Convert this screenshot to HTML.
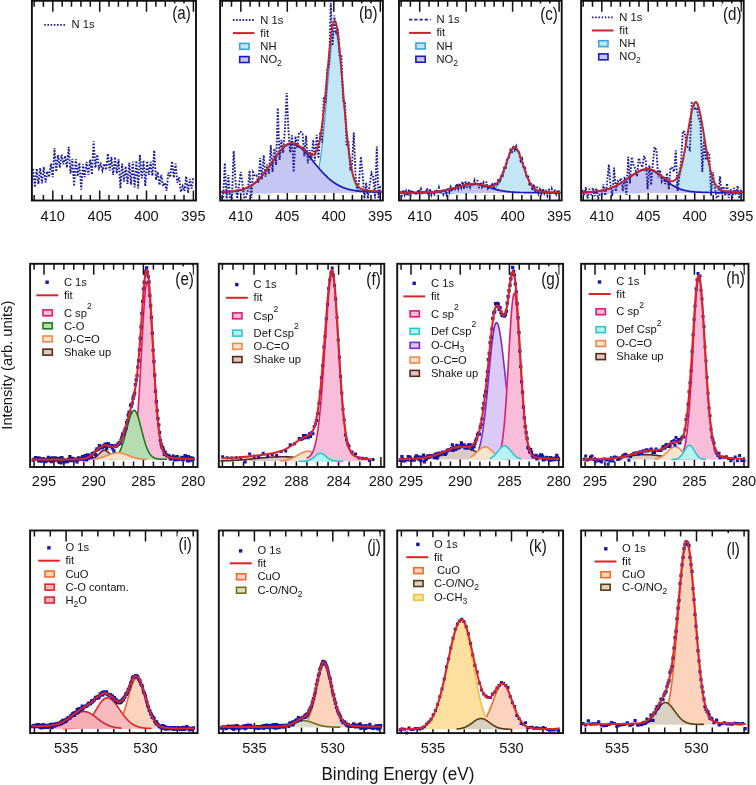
<!DOCTYPE html>
<html><head><meta charset="utf-8"><title>XPS spectra</title>
<style>html,body{margin:0;padding:0;background:#fff;}body{width:756px;height:785px;overflow:hidden;}svg{display:block;will-change:transform;}</style>
</head><body>
<svg width="756" height="785" viewBox="0 0 756 785">
<path d="M193.4,0.8v11.0M193.4,200.5v-10.0M184.0,0.8v5.9M184.0,200.5v-5.5M174.6,0.8v5.9M174.6,200.5v-5.5M165.3,0.8v5.9M165.3,200.5v-5.5M155.9,0.8v5.9M155.9,200.5v-5.5M146.5,0.8v11.0M146.5,200.5v-10.0M137.1,0.8v5.9M137.1,200.5v-5.5M127.8,0.8v5.9M127.8,200.5v-5.5M118.4,0.8v5.9M118.4,200.5v-5.5M109.0,0.8v5.9M109.0,200.5v-5.5M99.7,0.8v11.0M99.7,200.5v-10.0M90.3,0.8v5.9M90.3,200.5v-5.5M80.9,0.8v5.9M80.9,200.5v-5.5M71.5,0.8v5.9M71.5,200.5v-5.5M62.2,0.8v5.9M62.2,200.5v-5.5M52.8,0.8v11.0M52.8,200.5v-10.0M43.4,0.8v5.9M43.4,200.5v-5.5M34.1,0.8v5.9M34.1,200.5v-5.5" stroke="#111" stroke-width="1.5" fill="none"/>
<path d="M33.1,168.9 34.9,187.3 36.7,168.6 38.4,184.1 40.2,168.1 42.0,183.5 43.8,167.1 45.6,182.4 47.3,171.2 49.1,177.0 50.9,163.7 52.7,177.2 54.5,148 56.2,171.7 58.0,155.1 59.8,167.6 61.6,154.7 63.4,164.4 65.2,155.8 66.9,167.6 68.7,146.9 70.5,173.7 72.3,158.8 74.1,186.2 75.8,159.2 77.6,176.4 79.4,162.8 81.2,189.6 83.0,164.3 84.7,177.2 86.5,161.9 88.3,174.9 90.1,159.6 91.9,174.7 93.6,141.2 95.4,167.8 97.2,154.6 99.0,168.3 100.8,164.2 102.5,170.5 104.3,163.7 106.1,169.9 107.9,153.6 109.7,170.6 111.4,157.0 113.2,174.9 115.0,157 116.8,173.6 118.6,159.3 120.4,188.5 122.1,163.5 123.9,181.6 125.7,166.4 127.5,184 129.3,162.7 131.0,184.7 132.8,161.5 134.6,187.4 136.4,160.8 138.2,188.5 139.9,154.7 141.7,178.3 143.5,160.6 145.3,186.2 147.1,161.1 148.8,174.8 150.6,161.9 152.4,175.9 154.2,150.2 156.0,180.0 157.7,171.7 159.5,185.1 161.3,175 163.1,186.2 164.9,182.7 166.6,190.7 168.4,172.4 170.2,177.2 172.0,161.3 173.8,177.7 175.6,163.7 177.3,182.7 179.1,177.3 180.9,191.8 182.7,186.2 184.5,190.9 186.2,176.2 188.0,193 189.8,179.0 191.6,188.5 193.4,177.4" fill="none" stroke="#1c1c98" stroke-width="1.9" stroke-dasharray="1.7 1.5"/>
<rect x="31.9" y="0.8" width="164.1" height="199.7" fill="none" stroke="#111" stroke-width="1.9"/>
<text x="52.8" y="220.6" font-family="Liberation Sans, sans-serif" font-size="14.6" text-anchor="middle" fill="#141414">410</text>
<text x="99.7" y="220.6" font-family="Liberation Sans, sans-serif" font-size="14.6" text-anchor="middle" fill="#141414">405</text>
<text x="146.5" y="220.6" font-family="Liberation Sans, sans-serif" font-size="14.6" text-anchor="middle" fill="#141414">400</text>
<text x="193.4" y="220.6" font-family="Liberation Sans, sans-serif" font-size="14.6" text-anchor="middle" fill="#141414">395</text>
<path d="M44.2,24.9H65.8" stroke="#1e1e9c" stroke-width="1.8" stroke-dasharray="1.6 1.6"/>
<text x="71.6" y="28.4" font-family="Liberation Sans, sans-serif" font-size="11.2" text-anchor="start" fill="#141414">N 1s</text>
<rect x="171.3" y="3.4" width="18.3" height="20" fill="#fff"/>
<text transform="translate(190.8,18.8) scale(0.8,1)" font-family="Liberation Sans, sans-serif" font-size="19.0" text-anchor="end" fill="#141414">(a)</text>
<path d="M380.3,0.8v11.0M380.3,200.5v-10.0M371.0,0.8v5.9M371.0,200.5v-5.5M361.7,0.8v5.9M361.7,200.5v-5.5M352.4,0.8v5.9M352.4,200.5v-5.5M343.1,0.8v5.9M343.1,200.5v-5.5M333.8,0.8v11.0M333.8,200.5v-10.0M324.5,0.8v5.9M324.5,200.5v-5.5M315.2,0.8v5.9M315.2,200.5v-5.5M305.9,0.8v5.9M305.9,200.5v-5.5M296.6,0.8v5.9M296.6,200.5v-5.5M287.3,0.8v11.0M287.3,200.5v-10.0M278.0,0.8v5.9M278.0,200.5v-5.5M268.7,0.8v5.9M268.7,200.5v-5.5M259.4,0.8v5.9M259.4,200.5v-5.5M250.1,0.8v5.9M250.1,200.5v-5.5M240.8,0.8v11.0M240.8,200.5v-10.0M231.5,0.8v5.9M231.5,200.5v-5.5M222.2,0.8v5.9M222.2,200.5v-5.5" stroke="#111" stroke-width="1.5" fill="none"/>
<path d="M221,192.8 221.5,192.8 222,192.8 222.5,192.8 223,192.8 223.5,192.8 224,192.8 224.5,192.8 225,192.8 225.5,192.8 226,192.8 226.5,192.8 227,192.8 227.5,192.8 228,192.8 228.5,192.8 229,192.8 229.5,192.8 230,192.8 230.5,192.8 231,192.8 231.5,192.8 232,192.8 232.5,192.8 233,192.8 233.5,192.8 234,192.8 234.5,192.8 235,192.8 235.5,192.8 236,192.8 236.5,192.7 237,192.7 237.5,192.7 238,192.7 238.5,192.7 239,192.7 239.5,192.7 240,192.7 240.5,192.7 241,192.7 241.5,192.7 242,192.7 242.5,192.7 243,192.7 243.5,192.7 244,192.7 244.5,192.7 245,192.7 245.5,192.7 246,192.7 246.5,192.7 247,192.7 247.5,192.7 248,192.7 248.5,192.7 249,192.7 249.5,192.7 250,192.7 250.5,192.7 251,192.7 251.5,192.7 252,192.7 252.5,192.7 253,192.7 253.5,192.7 254,192.7 254.5,192.7 255,192.7 255.5,192.7 256,192.7 256.5,192.7 257,192.7 257.5,192.7 258,192.7 258.5,192.7 259,192.6 259.5,192.6 260,192.6 260.5,192.6 261,192.6 261.5,192.6 262,192.6 262.5,192.6 263,192.6 263.5,192.6 264,192.6 264.5,192.6 265,192.6 265.5,192.6 266,192.6 266.5,192.6 267,192.6 267.5,192.6 268,192.6 268.5,192.6 269,192.6 269.5,192.6 270,192.6 270.5,192.6 271,192.5 271.5,192.5 272,192.5 272.5,192.5 273,192.5 273.5,192.5 274,192.5 274.5,192.5 275,192.5 275.5,192.5 276,192.5 276.5,192.5 277,192.5 277.5,192.5 278,192.5 278.5,192.4 279,192.4 279.5,192.4 280,192.4 280.5,192.4 281,192.4 281.5,192.4 282,192.4 282.5,192.4 283,192.4 283.5,192.4 284,192.4 284.5,192.3 285,192.3 285.5,192.3 286,192.3 286.5,192.3 287,192.3 287.5,192.3 288,192.3 288.5,192.2 289,192.2 289.5,192.2 290,192.2 290.5,192.2 291,192.2 291.5,192.2 292,192.1 292.5,192.1 293,192.1 293.5,192.1 294,192.1 294.5,192.0 295,192.0 295.5,192.0 296,192.0 296.5,192.0 297,191.9 297.5,191.9 298,191.9 298.5,191.9 299,191.8 299.5,191.8 300,191.8 300.5,191.7 301,191.7 301.5,191.7 302,191.6 302.5,191.6 303,191.5 303.5,191.5 304,191.4 304.5,191.3 305,191.2 305.5,191.2 306,191.1 306.5,191.0 307,190.8 307.5,190.7 308,190.5 308.5,190.3 309,190.1 309.5,189.8 310,189.6 310.5,189.2 311,188.8 311.5,188.4 312,187.9 312.5,187.3 313,186.6 313.5,185.8 314,184.9 314.5,183.9 315,182.8 315.5,181.5 316,180.1 316.5,178.5 317,176.7 317.5,174.8 318,172.6 318.5,170.2 319,167.5 319.5,164.6 320,161.5 320.5,158.1 321,154.4 321.5,150.5 322,146.3 322.5,141.9 323,137.2 323.5,132.3 324,127.1 324.5,121.7 325,116.2 325.5,110.5 326,104.7 326.5,98.8 327,92.8 327.5,86.8 328,80.9 328.5,75.1 329,69.4 329.5,63.9 330,58.6 330.5,53.7 331,49.1 331.5,44.9 332,41.1 332.5,37.9 333,35.2 333.5,33.1 334,31.6 334.5,30.7 335,30.5 335.5,30.9 336,32.0 336.5,33.7 337,36.0 337.5,38.8 338,42.2 338.5,46.1 339,50.4 339.5,55.1 340,60.2 340.5,65.5 341,71.1 341.5,76.8 342,82.7 342.5,88.6 343,94.6 343.5,100.5 344,106.4 344.5,112.2 345,117.9 345.5,123.4 346,128.7 346.5,133.8 347,138.6 347.5,143.3 348,147.6 348.5,151.7 349,155.6 349.5,159.2 350,162.5 350.5,165.5 351,168.3 351.5,170.9 352,173.3 352.5,175.4 353,177.3 353.5,179.0 354,180.6 354.5,181.9 355,183.2 355.5,184.3 356,185.2 356.5,186.1 357,186.8 357.5,187.5 358,188.0 358.5,188.5 359,188.9 359.5,189.3 360,189.6 360.5,189.9 361,190.2 361.5,190.4 362,190.6 362.5,190.7 363,190.9 363.5,191.0 364,191.1 364.5,191.2 365,191.3 365.5,191.3 366,191.4 366.5,191.5 367,191.5 367.5,191.6 368,191.6 368.5,191.7 369,191.7 369.5,191.7 370,191.8 370.5,191.8 371,191.8 371.5,191.9 372,191.9 372.5,191.9 373,191.9 373.5,192.0 374,192.0 374.5,192.0 375,192.0 375.5,192.1 376,192.1 376.5,192.1 377,192.1 377.5,192.1 378,192.1 378.5,192.2 379,192.2 379.5,192.2 380,192.2 380.5,192.2 381,192.2 381.5,192.2 382,192.3 382,192.9 221,192.9Z" fill="#c2e6f6"/>
<path d="M221,192.8 221.5,192.8 222,192.8 222.5,192.8 223,192.8 223.5,192.8 224,192.8 224.5,192.8 225,192.8 225.5,192.8 226,192.8 226.5,192.8 227,192.8 227.5,192.8 228,192.8 228.5,192.8 229,192.8 229.5,192.8 230,192.8 230.5,192.8 231,192.8 231.5,192.8 232,192.8 232.5,192.8 233,192.8 233.5,192.8 234,192.8 234.5,192.8 235,192.8 235.5,192.8 236,192.8 236.5,192.7 237,192.7 237.5,192.7 238,192.7 238.5,192.7 239,192.7 239.5,192.7 240,192.7 240.5,192.7 241,192.7 241.5,192.7 242,192.7 242.5,192.7 243,192.7 243.5,192.7 244,192.7 244.5,192.7 245,192.7 245.5,192.7 246,192.7 246.5,192.7 247,192.7 247.5,192.7 248,192.7 248.5,192.7 249,192.7 249.5,192.7 250,192.7 250.5,192.7 251,192.7 251.5,192.7 252,192.7 252.5,192.7 253,192.7 253.5,192.7 254,192.7 254.5,192.7 255,192.7 255.5,192.7 256,192.7 256.5,192.7 257,192.7 257.5,192.7 258,192.7 258.5,192.7 259,192.6 259.5,192.6 260,192.6 260.5,192.6 261,192.6 261.5,192.6 262,192.6 262.5,192.6 263,192.6 263.5,192.6 264,192.6 264.5,192.6 265,192.6 265.5,192.6 266,192.6 266.5,192.6 267,192.6 267.5,192.6 268,192.6 268.5,192.6 269,192.6 269.5,192.6 270,192.6 270.5,192.6 271,192.5 271.5,192.5 272,192.5 272.5,192.5 273,192.5 273.5,192.5 274,192.5 274.5,192.5 275,192.5 275.5,192.5 276,192.5 276.5,192.5 277,192.5 277.5,192.5 278,192.5 278.5,192.4 279,192.4 279.5,192.4 280,192.4 280.5,192.4 281,192.4 281.5,192.4 282,192.4 282.5,192.4 283,192.4 283.5,192.4 284,192.4 284.5,192.3 285,192.3 285.5,192.3 286,192.3 286.5,192.3 287,192.3 287.5,192.3 288,192.3 288.5,192.2 289,192.2 289.5,192.2 290,192.2 290.5,192.2 291,192.2 291.5,192.2 292,192.1 292.5,192.1 293,192.1 293.5,192.1 294,192.1 294.5,192.0 295,192.0 295.5,192.0 296,192.0 296.5,192.0 297,191.9 297.5,191.9 298,191.9 298.5,191.9 299,191.8 299.5,191.8 300,191.8 300.5,191.7 301,191.7 301.5,191.7 302,191.6 302.5,191.6 303,191.5 303.5,191.5 304,191.4 304.5,191.3 305,191.2 305.5,191.2 306,191.1 306.5,191.0 307,190.8 307.5,190.7 308,190.5 308.5,190.3 309,190.1 309.5,189.8 310,189.6 310.5,189.2 311,188.8 311.5,188.4 312,187.9 312.5,187.3 313,186.6 313.5,185.8 314,184.9 314.5,183.9 315,182.8 315.5,181.5 316,180.1 316.5,178.5 317,176.7 317.5,174.8 318,172.6 318.5,170.2 319,167.5 319.5,164.6 320,161.5 320.5,158.1 321,154.4 321.5,150.5 322,146.3 322.5,141.9 323,137.2 323.5,132.3 324,127.1 324.5,121.7 325,116.2 325.5,110.5 326,104.7 326.5,98.8 327,92.8 327.5,86.8 328,80.9 328.5,75.1 329,69.4 329.5,63.9 330,58.6 330.5,53.7 331,49.1 331.5,44.9 332,41.1 332.5,37.9 333,35.2 333.5,33.1 334,31.6 334.5,30.7 335,30.5 335.5,30.9 336,32.0 336.5,33.7 337,36.0 337.5,38.8 338,42.2 338.5,46.1 339,50.4 339.5,55.1 340,60.2 340.5,65.5 341,71.1 341.5,76.8 342,82.7 342.5,88.6 343,94.6 343.5,100.5 344,106.4 344.5,112.2 345,117.9 345.5,123.4 346,128.7 346.5,133.8 347,138.6 347.5,143.3 348,147.6 348.5,151.7 349,155.6 349.5,159.2 350,162.5 350.5,165.5 351,168.3 351.5,170.9 352,173.3 352.5,175.4 353,177.3 353.5,179.0 354,180.6 354.5,181.9 355,183.2 355.5,184.3 356,185.2 356.5,186.1 357,186.8 357.5,187.5 358,188.0 358.5,188.5 359,188.9 359.5,189.3 360,189.6 360.5,189.9 361,190.2 361.5,190.4 362,190.6 362.5,190.7 363,190.9 363.5,191.0 364,191.1 364.5,191.2 365,191.3 365.5,191.3 366,191.4 366.5,191.5 367,191.5 367.5,191.6 368,191.6 368.5,191.7 369,191.7 369.5,191.7 370,191.8 370.5,191.8 371,191.8 371.5,191.9 372,191.9 372.5,191.9 373,191.9 373.5,192.0 374,192.0 374.5,192.0 375,192.0 375.5,192.1 376,192.1 376.5,192.1 377,192.1 377.5,192.1 378,192.1 378.5,192.2 379,192.2 379.5,192.2 380,192.2 380.5,192.2 381,192.2 381.5,192.2 382,192.3" fill="none" stroke="#3aa4dc" stroke-width="1.2" stroke-linejoin="round"/>
<path d="M221,192.1 221.5,192.1 222,192.1 222.5,192.0 223,192.0 223.5,192.0 224,192.0 224.5,192.0 225,191.9 225.5,191.9 226,191.9 226.5,191.9 227,191.8 227.5,191.8 228,191.8 228.5,191.7 229,191.7 229.5,191.7 230,191.6 230.5,191.6 231,191.5 231.5,191.5 232,191.4 232.5,191.4 233,191.3 233.5,191.3 234,191.2 234.5,191.2 235,191.1 235.5,191.0 236,190.9 236.5,190.9 237,190.8 237.5,190.7 238,190.6 238.5,190.5 239,190.4 239.5,190.3 240,190.2 240.5,190.1 241,189.9 241.5,189.8 242,189.7 242.5,189.5 243,189.4 243.5,189.2 244,189.1 244.5,188.9 245,188.7 245.5,188.5 246,188.3 246.5,188.1 247,187.9 247.5,187.7 248,187.4 248.5,187.2 249,186.9 249.5,186.6 250,186.4 250.5,186.1 251,185.8 251.5,185.5 252,185.1 252.5,184.8 253,184.5 253.5,184.1 254,183.7 254.5,183.3 255,182.9 255.5,182.5 256,182.1 256.5,181.7 257,181.2 257.5,180.8 258,180.3 258.5,179.8 259,179.3 259.5,178.8 260,178.3 260.5,177.7 261,177.2 261.5,176.6 262,176.0 262.5,175.4 263,174.8 263.5,174.2 264,173.6 264.5,173.0 265,172.3 265.5,171.7 266,171.0 266.5,170.3 267,169.6 267.5,168.9 268,168.2 268.5,167.5 269,166.8 269.5,166.1 270,165.4 270.5,164.7 271,163.9 271.5,163.2 272,162.5 272.5,161.7 273,161.0 273.5,160.3 274,159.6 274.5,158.8 275,158.1 275.5,157.4 276,156.7 276.5,156.0 277,155.3 277.5,154.6 278,153.9 278.5,153.3 279,152.6 279.5,152.0 280,151.4 280.5,150.8 281,150.2 281.5,149.7 282,149.1 282.5,148.6 283,148.1 283.5,147.6 284,147.2 284.5,146.7 285,146.3 285.5,146.0 286,145.6 286.5,145.3 287,145.0 287.5,144.8 288,144.6 288.5,144.4 289,144.2 289.5,144.1 290,144.0 290.5,143.9 291,143.9 291.5,143.9 292,143.9 292.5,144.0 293,144.1 293.5,144.2 294,144.3 294.5,144.4 295,144.6 295.5,144.8 296,145.0 296.5,145.2 297,145.5 297.5,145.7 298,146.0 298.5,146.3 299,146.7 299.5,147.0 300,147.4 300.5,147.8 301,148.2 301.5,148.6 302,149.0 302.5,149.5 303,149.9 303.5,150.4 304,150.9 304.5,151.4 305,151.9 305.5,152.4 306,153.0 306.5,153.5 307,154.1 307.5,154.6 308,155.2 308.5,155.8 309,156.3 309.5,156.9 310,157.5 310.5,158.1 311,158.7 311.5,159.3 312,159.9 312.5,160.5 313,161.1 313.5,161.8 314,162.4 314.5,163.0 315,163.6 315.5,164.2 316,164.8 316.5,165.4 317,166.0 317.5,166.6 318,167.2 318.5,167.8 319,168.4 319.5,169.0 320,169.5 320.5,170.1 321,170.7 321.5,171.2 322,171.8 322.5,172.3 323,172.9 323.5,173.4 324,173.9 324.5,174.4 325,174.9 325.5,175.4 326,175.9 326.5,176.4 327,176.9 327.5,177.4 328,177.8 328.5,178.3 329,178.7 329.5,179.1 330,179.6 330.5,180.0 331,180.4 331.5,180.8 332,181.2 332.5,181.5 333,181.9 333.5,182.3 334,182.6 334.5,183.0 335,183.3 335.5,183.6 336,183.9 336.5,184.2 337,184.5 337.5,184.8 338,185.1 338.5,185.4 339,185.6 339.5,185.9 340,186.1 340.5,186.4 341,186.6 341.5,186.8 342,187.0 342.5,187.3 343,187.5 343.5,187.7 344,187.8 344.5,188.0 345,188.2 345.5,188.4 346,188.5 346.5,188.7 347,188.9 347.5,189.0 348,189.1 348.5,189.3 349,189.4 349.5,189.5 350,189.7 350.5,189.8 351,189.9 351.5,190.0 352,190.1 352.5,190.2 353,190.3 353.5,190.4 354,190.5 354.5,190.5 355,190.6 355.5,190.7 356,190.8 356.5,190.8 357,190.9 357.5,191.0 358,191.0 358.5,191.1 359,191.2 359.5,191.2 360,191.3 360.5,191.3 361,191.4 361.5,191.4 362,191.4 362.5,191.5 363,191.5 363.5,191.6 364,191.6 364.5,191.6 365,191.7 365.5,191.7 366,191.7 366.5,191.8 367,191.8 367.5,191.8 368,191.8 368.5,191.9 369,191.9 369.5,191.9 370,191.9 370.5,191.9 371,192.0 371.5,192.0 372,192.0 372.5,192.0 373,192.0 373.5,192.0 374,192.1 374.5,192.1 375,192.1 375.5,192.1 376,192.1 376.5,192.1 377,192.1 377.5,192.2 378,192.2 378.5,192.2 379,192.2 379.5,192.2 380,192.2 380.5,192.2 381,192.2 381.5,192.2 382,192.2 382,192.9 221,192.9Z" fill="#c6c6f2"/>
<path d="M221,192.1 221.5,192.1 222,192.1 222.5,192.0 223,192.0 223.5,192.0 224,192.0 224.5,192.0 225,191.9 225.5,191.9 226,191.9 226.5,191.9 227,191.8 227.5,191.8 228,191.8 228.5,191.7 229,191.7 229.5,191.7 230,191.6 230.5,191.6 231,191.5 231.5,191.5 232,191.4 232.5,191.4 233,191.3 233.5,191.3 234,191.2 234.5,191.2 235,191.1 235.5,191.0 236,190.9 236.5,190.9 237,190.8 237.5,190.7 238,190.6 238.5,190.5 239,190.4 239.5,190.3 240,190.2 240.5,190.1 241,189.9 241.5,189.8 242,189.7 242.5,189.5 243,189.4 243.5,189.2 244,189.1 244.5,188.9 245,188.7 245.5,188.5 246,188.3 246.5,188.1 247,187.9 247.5,187.7 248,187.4 248.5,187.2 249,186.9 249.5,186.6 250,186.4 250.5,186.1 251,185.8 251.5,185.5 252,185.1 252.5,184.8 253,184.5 253.5,184.1 254,183.7 254.5,183.3 255,182.9 255.5,182.5 256,182.1 256.5,181.7 257,181.2 257.5,180.8 258,180.3 258.5,179.8 259,179.3 259.5,178.8 260,178.3 260.5,177.7 261,177.2 261.5,176.6 262,176.0 262.5,175.4 263,174.8 263.5,174.2 264,173.6 264.5,173.0 265,172.3 265.5,171.7 266,171.0 266.5,170.3 267,169.6 267.5,168.9 268,168.2 268.5,167.5 269,166.8 269.5,166.1 270,165.4 270.5,164.7 271,163.9 271.5,163.2 272,162.5 272.5,161.7 273,161.0 273.5,160.3 274,159.6 274.5,158.8 275,158.1 275.5,157.4 276,156.7 276.5,156.0 277,155.3 277.5,154.6 278,153.9 278.5,153.3 279,152.6 279.5,152.0 280,151.4 280.5,150.8 281,150.2 281.5,149.7 282,149.1 282.5,148.6 283,148.1 283.5,147.6 284,147.2 284.5,146.7 285,146.3 285.5,146.0 286,145.6 286.5,145.3 287,145.0 287.5,144.8 288,144.6 288.5,144.4 289,144.2 289.5,144.1 290,144.0 290.5,143.9 291,143.9 291.5,143.9 292,143.9 292.5,144.0 293,144.1 293.5,144.2 294,144.3 294.5,144.4 295,144.6 295.5,144.8 296,145.0 296.5,145.2 297,145.5 297.5,145.7 298,146.0 298.5,146.3 299,146.7 299.5,147.0 300,147.4 300.5,147.8 301,148.2 301.5,148.6 302,149.0 302.5,149.5 303,149.9 303.5,150.4 304,150.9 304.5,151.4 305,151.9 305.5,152.4 306,153.0 306.5,153.5 307,154.1 307.5,154.6 308,155.2 308.5,155.8 309,156.3 309.5,156.9 310,157.5 310.5,158.1 311,158.7 311.5,159.3 312,159.9 312.5,160.5 313,161.1 313.5,161.8 314,162.4 314.5,163.0 315,163.6 315.5,164.2 316,164.8 316.5,165.4 317,166.0 317.5,166.6 318,167.2 318.5,167.8 319,168.4 319.5,169.0 320,169.5 320.5,170.1 321,170.7 321.5,171.2 322,171.8 322.5,172.3 323,172.9 323.5,173.4 324,173.9 324.5,174.4 325,174.9 325.5,175.4 326,175.9 326.5,176.4 327,176.9 327.5,177.4 328,177.8 328.5,178.3 329,178.7 329.5,179.1 330,179.6 330.5,180.0 331,180.4 331.5,180.8 332,181.2 332.5,181.5 333,181.9 333.5,182.3 334,182.6 334.5,183.0 335,183.3 335.5,183.6 336,183.9 336.5,184.2 337,184.5 337.5,184.8 338,185.1 338.5,185.4 339,185.6 339.5,185.9 340,186.1 340.5,186.4 341,186.6 341.5,186.8 342,187.0 342.5,187.3 343,187.5 343.5,187.7 344,187.8 344.5,188.0 345,188.2 345.5,188.4 346,188.5 346.5,188.7 347,188.9 347.5,189.0 348,189.1 348.5,189.3 349,189.4 349.5,189.5 350,189.7 350.5,189.8 351,189.9 351.5,190.0 352,190.1 352.5,190.2 353,190.3 353.5,190.4 354,190.5 354.5,190.5 355,190.6 355.5,190.7 356,190.8 356.5,190.8 357,190.9 357.5,191.0 358,191.0 358.5,191.1 359,191.2 359.5,191.2 360,191.3 360.5,191.3 361,191.4 361.5,191.4 362,191.4 362.5,191.5 363,191.5 363.5,191.6 364,191.6 364.5,191.6 365,191.7 365.5,191.7 366,191.7 366.5,191.8 367,191.8 367.5,191.8 368,191.8 368.5,191.9 369,191.9 369.5,191.9 370,191.9 370.5,191.9 371,192.0 371.5,192.0 372,192.0 372.5,192.0 373,192.0 373.5,192.0 374,192.1 374.5,192.1 375,192.1 375.5,192.1 376,192.1 376.5,192.1 377,192.1 377.5,192.2 378,192.2 378.5,192.2 379,192.2 379.5,192.2 380,192.2 380.5,192.2 381,192.2 381.5,192.2 382,192.2" fill="none" stroke="#1c1cb6" stroke-width="1.7" stroke-linejoin="round"/>
<path d="M221.3,197 223.1,198.5 224.8,163 226.6,198.5 228.4,175 230.1,198.5 231.9,198 233.7,151 235.4,179.3 237.2,198.5 239.0,185.1 240.7,172 242.5,184.3 244.3,198.5 246.0,197 247.8,190.7 249.6,170.6 251.3,198 253.1,172.3 254.9,176 256.6,175.4 258.4,182.8 260.2,158 261.9,179.4 263.7,155 265.5,176.6 267.2,164.6 269.0,173.7 270.8,145 272.5,171.9 274.3,148.5 276.1,165.0 277.8,108 279.6,160 281.4,139.8 283.1,152.9 284.9,129.9 286.7,93 288.4,129.7 290.2,152.6 292.0,135.4 293.7,172 295.5,136.4 297.3,148.3 299.0,132.4 300.8,132 302.6,134.0 304.3,156.2 306.1,135.7 307.9,163.3 309.6,150.0 311.4,159.7 313.2,139.9 314.9,160.8 316.7,134.8 318.5,158.4 320.2,132.0 322.0,142.6 323.8,97.0 325.5,103.6 327.3,68.5 329.1,66.6 330.8,3 332.6,45.7 334.4,15.5 336.1,33.9 337.9,28.3 339.7,56.8 341.4,56.3 343.2,100.7 345.0,102.0 346.7,145.9 348.5,141.7 350.3,170.5 352.0,165.0 353.8,132.5 355.6,176.8 357.3,192.1 359.1,180.7 360.9,156.7 362.6,173.7 364.4,198.5 366.2,182.6 367.9,198.5 369.7,184.2 371.5,173 373.2,176.8 375.0,198.5 376.8,146.5 378.5,198.5 380.3,185.0" fill="none" stroke="#1c1c98" stroke-width="1.9" stroke-dasharray="1.7 1.5"/>
<path d="M221,192.0 221.5,192.0 222,191.9 222.5,191.9 223,191.9 223.5,191.9 224,191.9 224.5,191.8 225,191.8 225.5,191.8 226,191.8 226.5,191.7 227,191.7 227.5,191.7 228,191.6 228.5,191.6 229,191.6 229.5,191.5 230,191.5 230.5,191.5 231,191.4 231.5,191.4 232,191.3 232.5,191.3 233,191.2 233.5,191.1 234,191.1 234.5,191.0 235,190.9 235.5,190.9 236,190.8 236.5,190.7 237,190.6 237.5,190.5 238,190.5 238.5,190.4 239,190.2 239.5,190.1 240,190.0 240.5,189.9 241,189.8 241.5,189.6 242,189.5 242.5,189.4 243,189.2 243.5,189.0 244,188.9 244.5,188.7 245,188.5 245.5,188.3 246,188.1 246.5,187.9 247,187.7 247.5,187.5 248,187.2 248.5,187.0 249,186.7 249.5,186.4 250,186.2 250.5,185.9 251,185.6 251.5,185.3 252,184.9 252.5,184.6 253,184.2 253.5,183.9 254,183.5 254.5,183.1 255,182.7 255.5,182.3 256,181.9 256.5,181.4 257,181.0 257.5,180.5 258,180.0 258.5,179.6 259,179.0 259.5,178.5 260,178.0 260.5,177.5 261,176.9 261.5,176.3 262,175.7 262.5,175.2 263,174.6 263.5,173.9 264,173.3 264.5,172.7 265,172.0 265.5,171.4 266,170.7 266.5,170.0 267,169.3 267.5,168.6 268,167.9 268.5,167.2 269,166.5 269.5,165.8 270,165.0 270.5,164.3 271,163.6 271.5,162.9 272,162.1 272.5,161.4 273,160.6 273.5,159.9 274,159.2 274.5,158.4 275,157.7 275.5,157.0 276,156.3 276.5,155.6 277,154.9 277.5,154.2 278,153.5 278.5,152.8 279,152.2 279.5,151.5 280,150.9 280.5,150.3 281,149.7 281.5,149.2 282,148.6 282.5,148.1 283,147.6 283.5,147.1 284,146.6 284.5,146.2 285,145.8 285.5,145.4 286,145.0 286.5,144.7 287,144.4 287.5,144.1 288,143.9 288.5,143.7 289,143.5 289.5,143.4 290,143.3 290.5,143.2 291,143.2 291.5,143.2 292,143.2 292.5,143.2 293,143.3 293.5,143.3 294,143.4 294.5,143.6 295,143.7 295.5,143.9 296,144.1 296.5,144.3 297,144.5 297.5,144.7 298,145.0 298.5,145.3 299,145.6 299.5,145.9 300,146.3 300.5,146.6 301,147.0 301.5,147.3 302,147.7 302.5,148.1 303,148.5 303.5,149.0 304,149.4 304.5,149.8 305,150.3 305.5,150.7 306,151.1 306.5,151.6 307,152.0 307.5,152.4 308,152.8 308.5,153.2 309,153.5 309.5,153.9 310,154.2 310.5,154.4 311,154.6 311.5,154.8 312,154.9 312.5,154.9 313,154.8 313.5,154.7 314,154.4 314.5,154.0 315,153.5 315.5,152.8 316,152.0 316.5,151.0 317,149.8 317.5,148.5 318,146.9 318.5,145.0 319,143.0 319.5,140.7 320,138.1 320.5,135.3 321,132.2 321.5,128.8 322,125.2 322.5,121.3 323,117.2 323.5,112.7 324,108.1 324.5,103.3 325,98.2 325.5,93.0 326,87.7 326.5,82.3 327,76.8 327.5,71.3 328,65.8 328.5,60.4 329,55.2 329.5,50.1 330,45.3 330.5,40.7 331,36.5 331.5,32.7 332,29.4 332.5,26.5 333,24.2 333.5,22.5 334,21.3 334.5,20.8 335,20.9 335.5,21.6 336,23.0 336.5,25.0 337,27.6 337.5,30.7 338,34.4 338.5,38.6 339,43.1 339.5,48.1 340,53.4 340.5,59.0 341,64.8 341.5,70.7 342,76.8 342.5,83.0 343,89.2 343.5,95.3 344,101.4 344.5,107.3 345,113.2 345.5,118.8 346,124.3 346.5,129.6 347,134.6 347.5,139.4 348,143.9 348.5,148.1 349,152.1 349.5,155.8 350,159.2 350.5,162.4 351,165.3 351.5,168.0 352,170.4 352.5,172.7 353,174.7 353.5,176.5 354,178.1 354.5,179.6 355,180.9 355.5,182.1 356,183.1 356.5,184.0 357,184.8 357.5,185.5 358,186.2 358.5,186.7 359,187.2 359.5,187.6 360,188.0 360.5,188.3 361,188.6 361.5,188.9 362,189.1 362.5,189.3 363,189.5 363.5,189.6 364,189.8 364.5,189.9 365,190.0 365.5,190.1 366,190.2 366.5,190.3 367,190.4 367.5,190.5 368,190.5 368.5,190.6 369,190.7 369.5,190.7 370,190.8 370.5,190.8 371,190.9 371.5,190.9 372,191.0 372.5,191.0 373,191.1 373.5,191.1 374,191.1 374.5,191.2 375,191.2 375.5,191.3 376,191.3 376.5,191.3 377,191.3 377.5,191.4 378,191.4 378.5,191.4 379,191.5 379.5,191.5 380,191.5 380.5,191.5 381,191.6 381.5,191.6 382,191.6" fill="none" stroke="#c4262e" stroke-width="1.9" stroke-linejoin="round"/>
<rect x="220.1" y="0.8" width="162.8" height="199.7" fill="none" stroke="#111" stroke-width="1.9"/>
<text x="240.8" y="220.6" font-family="Liberation Sans, sans-serif" font-size="14.6" text-anchor="middle" fill="#141414">410</text>
<text x="287.3" y="220.6" font-family="Liberation Sans, sans-serif" font-size="14.6" text-anchor="middle" fill="#141414">405</text>
<text x="333.8" y="220.6" font-family="Liberation Sans, sans-serif" font-size="14.6" text-anchor="middle" fill="#141414">400</text>
<text x="380.3" y="220.6" font-family="Liberation Sans, sans-serif" font-size="14.6" text-anchor="middle" fill="#141414">395</text>
<path d="M232.9,20H254.5" stroke="#1e1e9c" stroke-width="1.8" stroke-dasharray="1.6 1.6"/>
<text x="260.3" y="23.5" font-family="Liberation Sans, sans-serif" font-size="11.2" text-anchor="start" fill="#141414">N 1s</text>
<path d="M232.9,33.1H254.5" stroke="#c4262e" stroke-width="2"/>
<text x="260.3" y="36.6" font-family="Liberation Sans, sans-serif" font-size="11.2" text-anchor="start" fill="#141414">fit</text>
<rect x="239.7" y="43.4" width="9.3" height="5.9" fill="#c2e6f6" stroke="#3aa4dc" stroke-width="1.6"/>
<text x="260.3" y="49.8" font-family="Liberation Sans, sans-serif" font-size="11.2" text-anchor="start" fill="#141414">NH</text>
<rect x="239.7" y="56.6" width="9.3" height="5.9" fill="#c6c6f2" stroke="#1c1cb6" stroke-width="1.6"/>
<text x="260.3" y="63.0" font-family="Liberation Sans, sans-serif" font-size="11.2" text-anchor="start" fill="#141414">NO<tspan font-size="8.5" dy="3">2</tspan></text>
<rect x="358.0" y="3.4" width="18.3" height="20" fill="#fff"/>
<text transform="translate(377.5,18.8) scale(0.8,1)" font-family="Liberation Sans, sans-serif" font-size="19.0" text-anchor="end" fill="#141414">(b)</text>
<path d="M559.1,0.8v11.0M559.1,200.5v-10.0M549.8,0.8v5.9M549.8,200.5v-5.5M540.5,0.8v5.9M540.5,200.5v-5.5M531.2,0.8v5.9M531.2,200.5v-5.5M521.9,0.8v5.9M521.9,200.5v-5.5M512.6,0.8v11.0M512.6,200.5v-10.0M503.3,0.8v5.9M503.3,200.5v-5.5M494.1,0.8v5.9M494.1,200.5v-5.5M484.8,0.8v5.9M484.8,200.5v-5.5M475.5,0.8v5.9M475.5,200.5v-5.5M466.2,0.8v11.0M466.2,200.5v-10.0M456.9,0.8v5.9M456.9,200.5v-5.5M447.6,0.8v5.9M447.6,200.5v-5.5M438.3,0.8v5.9M438.3,200.5v-5.5M429.0,0.8v5.9M429.0,200.5v-5.5M419.7,0.8v11.0M419.7,200.5v-10.0M410.4,0.8v5.9M410.4,200.5v-5.5M401.1,0.8v5.9M401.1,200.5v-5.5" stroke="#111" stroke-width="1.5" fill="none"/>
<path d="M399.9,192.9 400.4,192.9 400.9,192.9 401.4,192.9 401.9,192.9 402.4,192.9 402.9,192.9 403.4,192.9 403.9,192.9 404.4,192.9 404.9,192.9 405.4,192.9 405.9,192.9 406.4,192.9 406.9,192.9 407.4,192.9 407.9,192.9 408.4,192.9 408.9,192.8 409.4,192.8 409.9,192.8 410.4,192.8 410.9,192.8 411.4,192.8 411.9,192.8 412.4,192.8 412.9,192.8 413.4,192.8 413.9,192.8 414.4,192.8 414.9,192.8 415.4,192.8 415.9,192.8 416.4,192.8 416.9,192.8 417.4,192.8 417.9,192.8 418.4,192.8 418.9,192.8 419.4,192.8 419.9,192.8 420.4,192.8 420.9,192.8 421.4,192.8 421.9,192.8 422.4,192.8 422.9,192.8 423.4,192.8 423.9,192.8 424.4,192.8 424.9,192.8 425.4,192.8 425.9,192.8 426.4,192.8 426.9,192.8 427.4,192.8 427.9,192.8 428.4,192.8 428.9,192.8 429.4,192.8 429.9,192.8 430.4,192.8 430.9,192.8 431.4,192.8 431.9,192.8 432.4,192.8 432.9,192.8 433.4,192.8 433.9,192.8 434.4,192.8 434.9,192.8 435.4,192.8 435.9,192.8 436.4,192.8 436.9,192.8 437.4,192.8 437.9,192.8 438.4,192.8 438.9,192.8 439.4,192.8 439.9,192.8 440.4,192.8 440.9,192.8 441.4,192.8 441.9,192.8 442.4,192.8 442.9,192.8 443.4,192.8 443.9,192.8 444.4,192.8 444.9,192.8 445.4,192.8 445.9,192.8 446.4,192.8 446.9,192.8 447.4,192.8 447.9,192.8 448.4,192.8 448.9,192.8 449.4,192.8 449.9,192.8 450.4,192.8 450.9,192.8 451.4,192.8 451.9,192.8 452.4,192.8 452.9,192.8 453.4,192.8 453.9,192.8 454.4,192.7 454.9,192.7 455.4,192.7 455.9,192.7 456.4,192.7 456.9,192.7 457.4,192.7 457.9,192.7 458.4,192.7 458.9,192.7 459.4,192.7 459.9,192.7 460.4,192.7 460.9,192.7 461.4,192.7 461.9,192.7 462.4,192.7 462.9,192.7 463.4,192.7 463.9,192.7 464.4,192.7 464.9,192.7 465.4,192.7 465.9,192.7 466.4,192.7 466.9,192.7 467.4,192.7 467.9,192.7 468.4,192.6 468.9,192.6 469.4,192.6 469.9,192.6 470.4,192.6 470.9,192.6 471.4,192.6 471.9,192.6 472.4,192.6 472.9,192.6 473.4,192.6 473.9,192.6 474.4,192.6 474.9,192.6 475.4,192.6 475.9,192.5 476.4,192.5 476.9,192.5 477.4,192.5 477.9,192.5 478.4,192.5 478.9,192.5 479.4,192.5 479.9,192.5 480.4,192.4 480.9,192.4 481.4,192.4 481.9,192.4 482.4,192.4 482.9,192.3 483.4,192.3 483.9,192.3 484.4,192.3 484.9,192.2 485.4,192.2 485.9,192.1 486.4,192.1 486.9,192.0 487.4,191.9 487.9,191.9 488.4,191.8 488.9,191.7 489.4,191.5 489.9,191.4 490.4,191.3 490.9,191.1 491.4,190.9 491.9,190.7 492.4,190.4 492.9,190.2 493.4,189.9 493.9,189.5 494.4,189.1 494.9,188.7 495.4,188.3 495.9,187.8 496.4,187.2 496.9,186.6 497.4,185.9 497.9,185.2 498.4,184.4 498.9,183.6 499.4,182.7 499.9,181.7 500.4,180.6 500.9,179.5 501.4,178.4 501.9,177.2 502.4,175.9 502.9,174.6 503.4,173.2 503.9,171.8 504.4,170.3 504.9,168.8 505.4,167.3 505.9,165.8 506.4,164.2 506.9,162.7 507.4,161.2 507.9,159.7 508.4,158.2 508.9,156.8 509.4,155.5 509.9,154.2 510.4,153.0 510.9,151.9 511.4,151.0 511.9,150.1 512.4,149.4 512.9,148.8 513.4,148.3 513.9,148.0 514.4,147.9 514.9,147.9 515.4,148.1 515.9,148.4 516.4,148.9 516.9,149.5 517.4,150.3 517.9,151.2 518.4,152.2 518.9,153.3 519.4,154.5 519.9,155.8 520.4,157.2 520.9,158.6 521.4,160.0 521.9,161.5 522.4,163.1 522.9,164.6 523.4,166.1 523.9,167.7 524.4,169.2 524.9,170.7 525.4,172.1 525.9,173.5 526.4,174.9 526.9,176.2 527.4,177.5 527.9,178.7 528.4,179.8 528.9,180.9 529.4,181.9 529.9,182.9 530.4,183.8 530.9,184.6 531.4,185.4 531.9,186.1 532.4,186.7 532.9,187.3 533.4,187.9 533.9,188.4 534.4,188.8 534.9,189.2 535.4,189.6 535.9,189.9 536.4,190.2 536.9,190.5 537.4,190.7 537.9,191.0 538.4,191.1 538.9,191.3 539.4,191.4 539.9,191.6 540.4,191.7 540.9,191.8 541.4,191.9 541.9,192.0 542.4,192.0 542.9,192.1 543.4,192.1 543.9,192.2 544.4,192.2 544.9,192.3 545.4,192.3 545.9,192.3 546.4,192.3 546.9,192.4 547.4,192.4 547.9,192.4 548.4,192.4 548.9,192.4 549.4,192.5 549.9,192.5 550.4,192.5 550.9,192.5 551.4,192.5 551.9,192.5 552.4,192.5 552.9,192.5 553.4,192.5 553.9,192.6 554.4,192.6 554.9,192.6 555.4,192.6 555.9,192.6 556.4,192.6 556.9,192.6 557.4,192.6 557.9,192.6 558.4,192.6 558.9,192.6 559.4,192.6 559.9,192.6 560.4,192.6 560.4,192.9 399.9,192.9Z" fill="#c2e6f6"/>
<path d="M399.9,192.9 400.4,192.9 400.9,192.9 401.4,192.9 401.9,192.9 402.4,192.9 402.9,192.9 403.4,192.9 403.9,192.9 404.4,192.9 404.9,192.9 405.4,192.9 405.9,192.9 406.4,192.9 406.9,192.9 407.4,192.9 407.9,192.9 408.4,192.9 408.9,192.8 409.4,192.8 409.9,192.8 410.4,192.8 410.9,192.8 411.4,192.8 411.9,192.8 412.4,192.8 412.9,192.8 413.4,192.8 413.9,192.8 414.4,192.8 414.9,192.8 415.4,192.8 415.9,192.8 416.4,192.8 416.9,192.8 417.4,192.8 417.9,192.8 418.4,192.8 418.9,192.8 419.4,192.8 419.9,192.8 420.4,192.8 420.9,192.8 421.4,192.8 421.9,192.8 422.4,192.8 422.9,192.8 423.4,192.8 423.9,192.8 424.4,192.8 424.9,192.8 425.4,192.8 425.9,192.8 426.4,192.8 426.9,192.8 427.4,192.8 427.9,192.8 428.4,192.8 428.9,192.8 429.4,192.8 429.9,192.8 430.4,192.8 430.9,192.8 431.4,192.8 431.9,192.8 432.4,192.8 432.9,192.8 433.4,192.8 433.9,192.8 434.4,192.8 434.9,192.8 435.4,192.8 435.9,192.8 436.4,192.8 436.9,192.8 437.4,192.8 437.9,192.8 438.4,192.8 438.9,192.8 439.4,192.8 439.9,192.8 440.4,192.8 440.9,192.8 441.4,192.8 441.9,192.8 442.4,192.8 442.9,192.8 443.4,192.8 443.9,192.8 444.4,192.8 444.9,192.8 445.4,192.8 445.9,192.8 446.4,192.8 446.9,192.8 447.4,192.8 447.9,192.8 448.4,192.8 448.9,192.8 449.4,192.8 449.9,192.8 450.4,192.8 450.9,192.8 451.4,192.8 451.9,192.8 452.4,192.8 452.9,192.8 453.4,192.8 453.9,192.8 454.4,192.7 454.9,192.7 455.4,192.7 455.9,192.7 456.4,192.7 456.9,192.7 457.4,192.7 457.9,192.7 458.4,192.7 458.9,192.7 459.4,192.7 459.9,192.7 460.4,192.7 460.9,192.7 461.4,192.7 461.9,192.7 462.4,192.7 462.9,192.7 463.4,192.7 463.9,192.7 464.4,192.7 464.9,192.7 465.4,192.7 465.9,192.7 466.4,192.7 466.9,192.7 467.4,192.7 467.9,192.7 468.4,192.6 468.9,192.6 469.4,192.6 469.9,192.6 470.4,192.6 470.9,192.6 471.4,192.6 471.9,192.6 472.4,192.6 472.9,192.6 473.4,192.6 473.9,192.6 474.4,192.6 474.9,192.6 475.4,192.6 475.9,192.5 476.4,192.5 476.9,192.5 477.4,192.5 477.9,192.5 478.4,192.5 478.9,192.5 479.4,192.5 479.9,192.5 480.4,192.4 480.9,192.4 481.4,192.4 481.9,192.4 482.4,192.4 482.9,192.3 483.4,192.3 483.9,192.3 484.4,192.3 484.9,192.2 485.4,192.2 485.9,192.1 486.4,192.1 486.9,192.0 487.4,191.9 487.9,191.9 488.4,191.8 488.9,191.7 489.4,191.5 489.9,191.4 490.4,191.3 490.9,191.1 491.4,190.9 491.9,190.7 492.4,190.4 492.9,190.2 493.4,189.9 493.9,189.5 494.4,189.1 494.9,188.7 495.4,188.3 495.9,187.8 496.4,187.2 496.9,186.6 497.4,185.9 497.9,185.2 498.4,184.4 498.9,183.6 499.4,182.7 499.9,181.7 500.4,180.6 500.9,179.5 501.4,178.4 501.9,177.2 502.4,175.9 502.9,174.6 503.4,173.2 503.9,171.8 504.4,170.3 504.9,168.8 505.4,167.3 505.9,165.8 506.4,164.2 506.9,162.7 507.4,161.2 507.9,159.7 508.4,158.2 508.9,156.8 509.4,155.5 509.9,154.2 510.4,153.0 510.9,151.9 511.4,151.0 511.9,150.1 512.4,149.4 512.9,148.8 513.4,148.3 513.9,148.0 514.4,147.9 514.9,147.9 515.4,148.1 515.9,148.4 516.4,148.9 516.9,149.5 517.4,150.3 517.9,151.2 518.4,152.2 518.9,153.3 519.4,154.5 519.9,155.8 520.4,157.2 520.9,158.6 521.4,160.0 521.9,161.5 522.4,163.1 522.9,164.6 523.4,166.1 523.9,167.7 524.4,169.2 524.9,170.7 525.4,172.1 525.9,173.5 526.4,174.9 526.9,176.2 527.4,177.5 527.9,178.7 528.4,179.8 528.9,180.9 529.4,181.9 529.9,182.9 530.4,183.8 530.9,184.6 531.4,185.4 531.9,186.1 532.4,186.7 532.9,187.3 533.4,187.9 533.9,188.4 534.4,188.8 534.9,189.2 535.4,189.6 535.9,189.9 536.4,190.2 536.9,190.5 537.4,190.7 537.9,191.0 538.4,191.1 538.9,191.3 539.4,191.4 539.9,191.6 540.4,191.7 540.9,191.8 541.4,191.9 541.9,192.0 542.4,192.0 542.9,192.1 543.4,192.1 543.9,192.2 544.4,192.2 544.9,192.3 545.4,192.3 545.9,192.3 546.4,192.3 546.9,192.4 547.4,192.4 547.9,192.4 548.4,192.4 548.9,192.4 549.4,192.5 549.9,192.5 550.4,192.5 550.9,192.5 551.4,192.5 551.9,192.5 552.4,192.5 552.9,192.5 553.4,192.5 553.9,192.6 554.4,192.6 554.9,192.6 555.4,192.6 555.9,192.6 556.4,192.6 556.9,192.6 557.4,192.6 557.9,192.6 558.4,192.6 558.9,192.6 559.4,192.6 559.9,192.6 560.4,192.6" fill="none" stroke="#3aa4dc" stroke-width="1.2" stroke-linejoin="round"/>
<path d="M399.9,192.8 400.4,192.8 400.9,192.7 401.4,192.7 401.9,192.7 402.4,192.7 402.9,192.7 403.4,192.7 403.9,192.7 404.4,192.7 404.9,192.7 405.4,192.7 405.9,192.7 406.4,192.7 406.9,192.7 407.4,192.7 407.9,192.7 408.4,192.7 408.9,192.7 409.4,192.7 409.9,192.7 410.4,192.7 410.9,192.7 411.4,192.7 411.9,192.7 412.4,192.7 412.9,192.7 413.4,192.7 413.9,192.7 414.4,192.7 414.9,192.7 415.4,192.7 415.9,192.7 416.4,192.6 416.9,192.6 417.4,192.6 417.9,192.6 418.4,192.6 418.9,192.6 419.4,192.6 419.9,192.6 420.4,192.6 420.9,192.6 421.4,192.6 421.9,192.6 422.4,192.6 422.9,192.5 423.4,192.5 423.9,192.5 424.4,192.5 424.9,192.5 425.4,192.5 425.9,192.5 426.4,192.4 426.9,192.4 427.4,192.4 427.9,192.4 428.4,192.4 428.9,192.3 429.4,192.3 429.9,192.3 430.4,192.3 430.9,192.2 431.4,192.2 431.9,192.2 432.4,192.2 432.9,192.1 433.4,192.1 433.9,192.1 434.4,192.0 434.9,192.0 435.4,191.9 435.9,191.9 436.4,191.8 436.9,191.8 437.4,191.7 437.9,191.7 438.4,191.6 438.9,191.6 439.4,191.5 439.9,191.4 440.4,191.4 440.9,191.3 441.4,191.2 441.9,191.1 442.4,191.1 442.9,191.0 443.4,190.9 443.9,190.8 444.4,190.7 444.9,190.6 445.4,190.5 445.9,190.4 446.4,190.3 446.9,190.2 447.4,190.1 447.9,190.0 448.4,189.8 448.9,189.7 449.4,189.6 449.9,189.5 450.4,189.3 450.9,189.2 451.4,189.1 451.9,188.9 452.4,188.8 452.9,188.7 453.4,188.5 453.9,188.4 454.4,188.2 454.9,188.1 455.4,187.9 455.9,187.8 456.4,187.6 456.9,187.5 457.4,187.3 457.9,187.2 458.4,187.0 458.9,186.8 459.4,186.7 459.9,186.5 460.4,186.4 460.9,186.2 461.4,186.1 461.9,186.0 462.4,185.8 462.9,185.7 463.4,185.5 463.9,185.4 464.4,185.3 464.9,185.2 465.4,185.0 465.9,184.9 466.4,184.8 466.9,184.7 467.4,184.6 467.9,184.5 468.4,184.5 468.9,184.4 469.4,184.3 469.9,184.3 470.4,184.2 470.9,184.2 471.4,184.1 471.9,184.1 472.4,184.1 472.9,184.1 473.4,184.1 473.9,184.1 474.4,184.1 474.9,184.2 475.4,184.2 475.9,184.3 476.4,184.3 476.9,184.4 477.4,184.4 477.9,184.5 478.4,184.6 478.9,184.7 479.4,184.8 479.9,184.9 480.4,185.0 480.9,185.1 481.4,185.2 481.9,185.4 482.4,185.5 482.9,185.6 483.4,185.8 483.9,185.9 484.4,186.1 484.9,186.2 485.4,186.4 485.9,186.5 486.4,186.7 486.9,186.8 487.4,187.0 487.9,187.1 488.4,187.3 488.9,187.4 489.4,187.6 489.9,187.7 490.4,187.9 490.9,188.0 491.4,188.2 491.9,188.3 492.4,188.5 492.9,188.6 493.4,188.8 493.9,188.9 494.4,189.0 494.9,189.2 495.4,189.3 495.9,189.4 496.4,189.6 496.9,189.7 497.4,189.8 497.9,189.9 498.4,190.1 498.9,190.2 499.4,190.3 499.9,190.4 500.4,190.5 500.9,190.6 501.4,190.7 501.9,190.8 502.4,190.9 502.9,191.0 503.4,191.0 503.9,191.1 504.4,191.2 504.9,191.3 505.4,191.3 505.9,191.4 506.4,191.5 506.9,191.5 507.4,191.6 507.9,191.7 508.4,191.7 508.9,191.8 509.4,191.8 509.9,191.9 510.4,191.9 510.9,192.0 511.4,192.0 511.9,192.0 512.4,192.1 512.9,192.1 513.4,192.1 513.9,192.2 514.4,192.2 514.9,192.2 515.4,192.3 515.9,192.3 516.4,192.3 516.9,192.3 517.4,192.4 517.9,192.4 518.4,192.4 518.9,192.4 519.4,192.4 519.9,192.5 520.4,192.5 520.9,192.5 521.4,192.5 521.9,192.5 522.4,192.5 522.9,192.5 523.4,192.5 523.9,192.6 524.4,192.6 524.9,192.6 525.4,192.6 525.9,192.6 526.4,192.6 526.9,192.6 527.4,192.6 527.9,192.6 528.4,192.6 528.9,192.6 529.4,192.6 529.9,192.7 530.4,192.7 530.9,192.7 531.4,192.7 531.9,192.7 532.4,192.7 532.9,192.7 533.4,192.7 533.9,192.7 534.4,192.7 534.9,192.7 535.4,192.7 535.9,192.7 536.4,192.7 536.9,192.7 537.4,192.7 537.9,192.7 538.4,192.7 538.9,192.7 539.4,192.7 539.9,192.7 540.4,192.7 540.9,192.7 541.4,192.7 541.9,192.7 542.4,192.7 542.9,192.7 543.4,192.7 543.9,192.7 544.4,192.7 544.9,192.7 545.4,192.8 545.9,192.8 546.4,192.8 546.9,192.8 547.4,192.8 547.9,192.8 548.4,192.8 548.9,192.8 549.4,192.8 549.9,192.8 550.4,192.8 550.9,192.8 551.4,192.8 551.9,192.8 552.4,192.8 552.9,192.8 553.4,192.8 553.9,192.8 554.4,192.8 554.9,192.8 555.4,192.8 555.9,192.8 556.4,192.8 556.9,192.8 557.4,192.8 557.9,192.8 558.4,192.8 558.9,192.8 559.4,192.8 559.9,192.8 560.4,192.8 560.4,192.9 399.9,192.9Z" fill="#c6c6f2"/>
<path d="M399.9,192.8 400.4,192.8 400.9,192.7 401.4,192.7 401.9,192.7 402.4,192.7 402.9,192.7 403.4,192.7 403.9,192.7 404.4,192.7 404.9,192.7 405.4,192.7 405.9,192.7 406.4,192.7 406.9,192.7 407.4,192.7 407.9,192.7 408.4,192.7 408.9,192.7 409.4,192.7 409.9,192.7 410.4,192.7 410.9,192.7 411.4,192.7 411.9,192.7 412.4,192.7 412.9,192.7 413.4,192.7 413.9,192.7 414.4,192.7 414.9,192.7 415.4,192.7 415.9,192.7 416.4,192.6 416.9,192.6 417.4,192.6 417.9,192.6 418.4,192.6 418.9,192.6 419.4,192.6 419.9,192.6 420.4,192.6 420.9,192.6 421.4,192.6 421.9,192.6 422.4,192.6 422.9,192.5 423.4,192.5 423.9,192.5 424.4,192.5 424.9,192.5 425.4,192.5 425.9,192.5 426.4,192.4 426.9,192.4 427.4,192.4 427.9,192.4 428.4,192.4 428.9,192.3 429.4,192.3 429.9,192.3 430.4,192.3 430.9,192.2 431.4,192.2 431.9,192.2 432.4,192.2 432.9,192.1 433.4,192.1 433.9,192.1 434.4,192.0 434.9,192.0 435.4,191.9 435.9,191.9 436.4,191.8 436.9,191.8 437.4,191.7 437.9,191.7 438.4,191.6 438.9,191.6 439.4,191.5 439.9,191.4 440.4,191.4 440.9,191.3 441.4,191.2 441.9,191.1 442.4,191.1 442.9,191.0 443.4,190.9 443.9,190.8 444.4,190.7 444.9,190.6 445.4,190.5 445.9,190.4 446.4,190.3 446.9,190.2 447.4,190.1 447.9,190.0 448.4,189.8 448.9,189.7 449.4,189.6 449.9,189.5 450.4,189.3 450.9,189.2 451.4,189.1 451.9,188.9 452.4,188.8 452.9,188.7 453.4,188.5 453.9,188.4 454.4,188.2 454.9,188.1 455.4,187.9 455.9,187.8 456.4,187.6 456.9,187.5 457.4,187.3 457.9,187.2 458.4,187.0 458.9,186.8 459.4,186.7 459.9,186.5 460.4,186.4 460.9,186.2 461.4,186.1 461.9,186.0 462.4,185.8 462.9,185.7 463.4,185.5 463.9,185.4 464.4,185.3 464.9,185.2 465.4,185.0 465.9,184.9 466.4,184.8 466.9,184.7 467.4,184.6 467.9,184.5 468.4,184.5 468.9,184.4 469.4,184.3 469.9,184.3 470.4,184.2 470.9,184.2 471.4,184.1 471.9,184.1 472.4,184.1 472.9,184.1 473.4,184.1 473.9,184.1 474.4,184.1 474.9,184.2 475.4,184.2 475.9,184.3 476.4,184.3 476.9,184.4 477.4,184.4 477.9,184.5 478.4,184.6 478.9,184.7 479.4,184.8 479.9,184.9 480.4,185.0 480.9,185.1 481.4,185.2 481.9,185.4 482.4,185.5 482.9,185.6 483.4,185.8 483.9,185.9 484.4,186.1 484.9,186.2 485.4,186.4 485.9,186.5 486.4,186.7 486.9,186.8 487.4,187.0 487.9,187.1 488.4,187.3 488.9,187.4 489.4,187.6 489.9,187.7 490.4,187.9 490.9,188.0 491.4,188.2 491.9,188.3 492.4,188.5 492.9,188.6 493.4,188.8 493.9,188.9 494.4,189.0 494.9,189.2 495.4,189.3 495.9,189.4 496.4,189.6 496.9,189.7 497.4,189.8 497.9,189.9 498.4,190.1 498.9,190.2 499.4,190.3 499.9,190.4 500.4,190.5 500.9,190.6 501.4,190.7 501.9,190.8 502.4,190.9 502.9,191.0 503.4,191.0 503.9,191.1 504.4,191.2 504.9,191.3 505.4,191.3 505.9,191.4 506.4,191.5 506.9,191.5 507.4,191.6 507.9,191.7 508.4,191.7 508.9,191.8 509.4,191.8 509.9,191.9 510.4,191.9 510.9,192.0 511.4,192.0 511.9,192.0 512.4,192.1 512.9,192.1 513.4,192.1 513.9,192.2 514.4,192.2 514.9,192.2 515.4,192.3 515.9,192.3 516.4,192.3 516.9,192.3 517.4,192.4 517.9,192.4 518.4,192.4 518.9,192.4 519.4,192.4 519.9,192.5 520.4,192.5 520.9,192.5 521.4,192.5 521.9,192.5 522.4,192.5 522.9,192.5 523.4,192.5 523.9,192.6 524.4,192.6 524.9,192.6 525.4,192.6 525.9,192.6 526.4,192.6 526.9,192.6 527.4,192.6 527.9,192.6 528.4,192.6 528.9,192.6 529.4,192.6 529.9,192.7 530.4,192.7 530.9,192.7 531.4,192.7 531.9,192.7 532.4,192.7 532.9,192.7 533.4,192.7 533.9,192.7 534.4,192.7 534.9,192.7 535.4,192.7 535.9,192.7 536.4,192.7 536.9,192.7 537.4,192.7 537.9,192.7 538.4,192.7 538.9,192.7 539.4,192.7 539.9,192.7 540.4,192.7 540.9,192.7 541.4,192.7 541.9,192.7 542.4,192.7 542.9,192.7 543.4,192.7 543.9,192.7 544.4,192.7 544.9,192.7 545.4,192.8 545.9,192.8 546.4,192.8 546.9,192.8 547.4,192.8 547.9,192.8 548.4,192.8 548.9,192.8 549.4,192.8 549.9,192.8 550.4,192.8 550.9,192.8 551.4,192.8 551.9,192.8 552.4,192.8 552.9,192.8 553.4,192.8 553.9,192.8 554.4,192.8 554.9,192.8 555.4,192.8 555.9,192.8 556.4,192.8 556.9,192.8 557.4,192.8 557.9,192.8 558.4,192.8 558.9,192.8 559.4,192.8 559.9,192.8 560.4,192.8" fill="none" stroke="#1c1cb6" stroke-width="1.7" stroke-linejoin="round"/>
<path d="M400.2,191.2 401.7,195.8 403.2,189.8 404.7,195.1 406.1,191.0 407.6,196.0 409.1,189.2 410.6,195.2 412.1,190.1 413.6,194.3 415.1,191.6 416.6,194.7 418.0,189.8 419.5,193.8 421.0,189.1 422.5,194.2 424.0,190.7 425.5,193.5 427.0,188.4 428.4,195.5 429.9,188.6 431.4,195.0 432.9,190.9 434.4,193.9 435.9,189.3 437.4,193.0 438.9,187.6 440.3,193.4 441.8,189.6 443.3,194.2 444.8,189.1 446.3,194.0 447.8,187.5 449.3,192.2 450.7,187.1 452.2,191.2 453.7,186.7 455.2,188.9 456.7,183.8 458.2,188.6 459.7,183.1 461.2,187.6 462.6,181.6 464.1,188.8 465.6,181.5 467.1,187.7 468.6,181.4 470.1,187.2 471.6,182.5 473.0,186.2 474.5,180.3 476.0,185.5 477.5,180.3 479.0,188.0 480.5,182.3 482.0,187.0 483.5,182.8 484.9,187.7 486.4,181.8 487.9,188.2 489.4,185.1 490.9,187.5 492.4,182.9 493.9,189.5 495.3,182.2 496.8,185.9 498.3,179.0 499.8,182.6 501.3,174.7 502.8,175.7 504.3,166.3 505.8,167.6 507.2,158.8 508.7,157.7 510.2,150.4 511.7,153.3 513.2,145.7 514.7,150.0 516.2,146.2 517.6,151.5 519.1,152.2 520.6,160.8 522.1,158.5 523.6,168.5 525.1,167.8 526.6,178.1 528.1,175.1 529.5,185.8 531.0,182.3 532.5,190.6 534.0,184.4 535.5,192.2 537.0,186.7 538.5,193.5 539.9,189.3 541.4,193.5 542.9,188.3 544.4,193.6 545.9,191.0 547.4,195.7 548.9,189.0 550.4,194.8 551.8,188.9 553.3,193.6 554.8,190.7 556.3,194.3 557.8,190.2 559.3,194.0" fill="none" stroke="#1c1c98" stroke-width="1.9" stroke-dasharray="2.2 1.6"/>
<path d="M399.9,192.7 400.4,192.7 400.9,192.7 401.4,192.7 401.9,192.7 402.4,192.7 402.9,192.7 403.4,192.7 403.9,192.7 404.4,192.7 404.9,192.7 405.4,192.7 405.9,192.7 406.4,192.7 406.9,192.7 407.4,192.7 407.9,192.7 408.4,192.7 408.9,192.7 409.4,192.7 409.9,192.7 410.4,192.6 410.9,192.6 411.4,192.6 411.9,192.6 412.4,192.6 412.9,192.6 413.4,192.6 413.9,192.6 414.4,192.6 414.9,192.6 415.4,192.6 415.9,192.6 416.4,192.6 416.9,192.6 417.4,192.6 417.9,192.6 418.4,192.6 418.9,192.6 419.4,192.5 419.9,192.5 420.4,192.5 420.9,192.5 421.4,192.5 421.9,192.5 422.4,192.5 422.9,192.5 423.4,192.5 423.9,192.4 424.4,192.4 424.9,192.4 425.4,192.4 425.9,192.4 426.4,192.4 426.9,192.4 427.4,192.3 427.9,192.3 428.4,192.3 428.9,192.3 429.4,192.2 429.9,192.2 430.4,192.2 430.9,192.2 431.4,192.1 431.9,192.1 432.4,192.1 432.9,192.0 433.4,192.0 433.9,192.0 434.4,191.9 434.9,191.9 435.4,191.8 435.9,191.8 436.4,191.7 436.9,191.7 437.4,191.6 437.9,191.6 438.4,191.5 438.9,191.5 439.4,191.4 439.9,191.3 440.4,191.3 440.9,191.2 441.4,191.1 441.9,191.0 442.4,191.0 442.9,190.9 443.4,190.8 443.9,190.7 444.4,190.6 444.9,190.5 445.4,190.4 445.9,190.3 446.4,190.2 446.9,190.1 447.4,190.0 447.9,189.8 448.4,189.7 448.9,189.6 449.4,189.5 449.9,189.3 450.4,189.2 450.9,189.1 451.4,188.9 451.9,188.8 452.4,188.7 452.9,188.5 453.4,188.4 453.9,188.2 454.4,188.1 454.9,187.9 455.4,187.8 455.9,187.6 456.4,187.5 456.9,187.3 457.4,187.1 457.9,187.0 458.4,186.8 458.9,186.7 459.4,186.5 459.9,186.4 460.4,186.2 460.9,186.1 461.4,185.9 461.9,185.8 462.4,185.6 462.9,185.5 463.4,185.3 463.9,185.2 464.4,185.1 464.9,184.9 465.4,184.8 465.9,184.7 466.4,184.6 466.9,184.5 467.4,184.4 467.9,184.3 468.4,184.2 468.9,184.1 469.4,184.1 469.9,184.0 470.4,183.9 470.9,183.9 471.4,183.9 471.9,183.8 472.4,183.8 472.9,183.8 473.4,183.8 473.9,183.8 474.4,183.8 474.9,183.8 475.4,183.9 475.9,183.9 476.4,183.9 476.9,184.0 477.4,184.1 477.9,184.1 478.4,184.2 478.9,184.3 479.4,184.4 479.9,184.5 480.4,184.6 480.9,184.7 481.4,184.8 481.9,184.9 482.4,185.0 482.9,185.1 483.4,185.2 483.9,185.3 484.4,185.4 484.9,185.5 485.4,185.6 485.9,185.7 486.4,185.8 486.9,185.9 487.4,186.0 487.9,186.1 488.4,186.1 488.9,186.2 489.4,186.2 489.9,186.2 490.4,186.2 490.9,186.2 491.4,186.2 491.9,186.1 492.4,186.0 492.9,185.9 493.4,185.7 493.9,185.5 494.4,185.3 494.9,185.0 495.4,184.7 495.9,184.3 496.4,183.9 496.9,183.4 497.4,182.8 497.9,182.2 498.4,181.6 498.9,180.8 499.4,180.0 499.9,179.2 500.4,178.2 500.9,177.2 501.4,176.2 501.9,175.0 502.4,173.9 502.9,172.6 503.4,171.3 503.9,170.0 504.4,168.6 504.9,167.2 505.4,165.7 505.9,164.3 506.4,162.8 506.9,161.3 507.4,159.9 507.9,158.5 508.4,157.1 508.9,155.7 509.4,154.4 509.9,153.2 510.4,152.0 510.9,151.0 511.4,150.1 511.9,149.2 512.4,148.6 512.9,148.0 513.4,147.6 513.9,147.3 514.4,147.2 514.9,147.3 515.4,147.5 515.9,147.8 516.4,148.3 516.9,149.0 517.4,149.8 517.9,150.7 518.4,151.7 518.9,152.8 519.4,154.1 519.9,155.4 520.4,156.7 520.9,158.2 521.4,159.6 521.9,161.2 522.4,162.7 522.9,164.2 523.4,165.8 523.9,167.3 524.4,168.8 524.9,170.3 525.4,171.8 525.9,173.2 526.4,174.6 526.9,175.9 527.4,177.2 527.9,178.4 528.4,179.5 528.9,180.6 529.4,181.7 529.9,182.6 530.4,183.5 530.9,184.4 531.4,185.1 531.9,185.9 532.4,186.5 532.9,187.1 533.4,187.7 533.9,188.2 534.4,188.6 534.9,189.0 535.4,189.4 535.9,189.7 536.4,190.0 536.9,190.3 537.4,190.6 537.9,190.8 538.4,191.0 538.9,191.1 539.4,191.3 539.9,191.4 540.4,191.5 540.9,191.6 541.4,191.7 541.9,191.8 542.4,191.9 542.9,191.9 543.4,192.0 543.9,192.0 544.4,192.1 544.9,192.1 545.4,192.1 545.9,192.2 546.4,192.2 546.9,192.2 547.4,192.2 547.9,192.3 548.4,192.3 548.9,192.3 549.4,192.3 549.9,192.3 550.4,192.4 550.9,192.4 551.4,192.4 551.9,192.4 552.4,192.4 552.9,192.4 553.4,192.4 553.9,192.4 554.4,192.4 554.9,192.5 555.4,192.5 555.9,192.5 556.4,192.5 556.9,192.5 557.4,192.5 557.9,192.5 558.4,192.5 558.9,192.5 559.4,192.5 559.9,192.5 560.4,192.5" fill="none" stroke="#c4262e" stroke-width="1.9" stroke-linejoin="round"/>
<rect x="399" y="0.8" width="162.7" height="199.7" fill="none" stroke="#111" stroke-width="1.9"/>
<text x="419.7" y="220.6" font-family="Liberation Sans, sans-serif" font-size="14.6" text-anchor="middle" fill="#141414">410</text>
<text x="466.2" y="220.6" font-family="Liberation Sans, sans-serif" font-size="14.6" text-anchor="middle" fill="#141414">405</text>
<text x="512.6" y="220.6" font-family="Liberation Sans, sans-serif" font-size="14.6" text-anchor="middle" fill="#141414">400</text>
<text x="559.1" y="220.6" font-family="Liberation Sans, sans-serif" font-size="14.6" text-anchor="middle" fill="#141414">395</text>
<path d="M409.1,19.7H430.7" stroke="#1e1e9c" stroke-width="1.8" stroke-dasharray="3.2 2.0"/>
<text x="436.5" y="23.2" font-family="Liberation Sans, sans-serif" font-size="11.2" text-anchor="start" fill="#141414">N 1s</text>
<path d="M409.1,32.9H430.7" stroke="#c4262e" stroke-width="2"/>
<text x="436.5" y="36.4" font-family="Liberation Sans, sans-serif" font-size="11.2" text-anchor="start" fill="#141414">fit</text>
<rect x="415.9" y="43.1" width="9.3" height="5.9" fill="#c2e6f6" stroke="#3aa4dc" stroke-width="1.6"/>
<text x="436.5" y="49.5" font-family="Liberation Sans, sans-serif" font-size="11.2" text-anchor="start" fill="#141414">NH</text>
<rect x="415.9" y="56.3" width="9.3" height="5.9" fill="#c6c6f2" stroke="#1c1cb6" stroke-width="1.6"/>
<text x="436.5" y="62.7" font-family="Liberation Sans, sans-serif" font-size="11.2" text-anchor="start" fill="#141414">NO<tspan font-size="8.5" dy="3">2</tspan></text>
<rect x="539.2" y="3.4" width="17.5" height="21.4" fill="#fff"/>
<text transform="translate(557.9,20.2) scale(0.8,1)" font-family="Liberation Sans, sans-serif" font-size="19.0" text-anchor="end" fill="#141414">(c)</text>
<path d="M741.1,0.8v11.0M741.1,200.5v-10.0M731.8,0.8v5.9M731.8,200.5v-5.5M722.5,0.8v5.9M722.5,200.5v-5.5M713.2,0.8v5.9M713.2,200.5v-5.5M704.0,0.8v5.9M704.0,200.5v-5.5M694.7,0.8v11.0M694.7,200.5v-10.0M685.4,0.8v5.9M685.4,200.5v-5.5M676.1,0.8v5.9M676.1,200.5v-5.5M666.8,0.8v5.9M666.8,200.5v-5.5M657.5,0.8v5.9M657.5,200.5v-5.5M648.2,0.8v11.0M648.2,200.5v-10.0M639.0,0.8v5.9M639.0,200.5v-5.5M629.7,0.8v5.9M629.7,200.5v-5.5M620.4,0.8v5.9M620.4,200.5v-5.5M611.1,0.8v5.9M611.1,200.5v-5.5M601.8,0.8v11.0M601.8,200.5v-10.0M592.5,0.8v5.9M592.5,200.5v-5.5M583.2,0.8v5.9M583.2,200.5v-5.5" stroke="#111" stroke-width="1.5" fill="none"/>
<path d="M582,192.8 582.5,192.8 583,192.8 583.5,192.8 584,192.8 584.5,192.8 585,192.8 585.5,192.8 586,192.8 586.5,192.8 587,192.8 587.5,192.8 588,192.8 588.5,192.8 589,192.8 589.5,192.8 590,192.8 590.5,192.8 591,192.8 591.5,192.8 592,192.8 592.5,192.8 593,192.8 593.5,192.8 594,192.8 594.5,192.8 595,192.8 595.5,192.8 596,192.8 596.5,192.8 597,192.8 597.5,192.8 598,192.8 598.5,192.8 599,192.8 599.5,192.8 600,192.8 600.5,192.8 601,192.8 601.5,192.8 602,192.8 602.5,192.8 603,192.8 603.5,192.8 604,192.8 604.5,192.8 605,192.8 605.5,192.8 606,192.8 606.5,192.8 607,192.8 607.5,192.8 608,192.8 608.5,192.8 609,192.8 609.5,192.8 610,192.7 610.5,192.7 611,192.7 611.5,192.7 612,192.7 612.5,192.7 613,192.7 613.5,192.7 614,192.7 614.5,192.7 615,192.7 615.5,192.7 616,192.7 616.5,192.7 617,192.7 617.5,192.7 618,192.7 618.5,192.7 619,192.7 619.5,192.7 620,192.7 620.5,192.7 621,192.7 621.5,192.7 622,192.7 622.5,192.7 623,192.7 623.5,192.7 624,192.7 624.5,192.7 625,192.7 625.5,192.7 626,192.7 626.5,192.7 627,192.7 627.5,192.7 628,192.7 628.5,192.7 629,192.7 629.5,192.6 630,192.6 630.5,192.6 631,192.6 631.5,192.6 632,192.6 632.5,192.6 633,192.6 633.5,192.6 634,192.6 634.5,192.6 635,192.6 635.5,192.6 636,192.6 636.5,192.6 637,192.6 637.5,192.6 638,192.6 638.5,192.6 639,192.6 639.5,192.6 640,192.5 640.5,192.5 641,192.5 641.5,192.5 642,192.5 642.5,192.5 643,192.5 643.5,192.5 644,192.5 644.5,192.5 645,192.5 645.5,192.5 646,192.5 646.5,192.5 647,192.4 647.5,192.4 648,192.4 648.5,192.4 649,192.4 649.5,192.4 650,192.4 650.5,192.4 651,192.4 651.5,192.4 652,192.3 652.5,192.3 653,192.3 653.5,192.3 654,192.3 654.5,192.3 655,192.3 655.5,192.2 656,192.2 656.5,192.2 657,192.2 657.5,192.2 658,192.2 658.5,192.1 659,192.1 659.5,192.1 660,192.1 660.5,192.0 661,192.0 661.5,192.0 662,192.0 662.5,191.9 663,191.9 663.5,191.8 664,191.8 664.5,191.7 665,191.7 665.5,191.6 666,191.5 666.5,191.5 667,191.4 667.5,191.3 668,191.1 668.5,191.0 669,190.9 669.5,190.7 670,190.5 670.5,190.3 671,190.0 671.5,189.7 672,189.4 672.5,189.0 673,188.6 673.5,188.1 674,187.6 674.5,187.0 675,186.3 675.5,185.6 676,184.7 676.5,183.8 677,182.8 677.5,181.7 678,180.5 678.5,179.2 679,177.8 679.5,176.2 680,174.6 680.5,172.8 681,170.9 681.5,168.8 682,166.7 682.5,164.4 683,161.9 683.5,159.4 684,156.8 684.5,154.0 685,151.2 685.5,148.3 686,145.3 686.5,142.3 687,139.3 687.5,136.2 688,133.1 688.5,130.1 689,127.1 689.5,124.1 690,121.3 690.5,118.6 691,116.0 691.5,113.6 692,111.4 692.5,109.4 693,107.6 693.5,106.1 694,104.9 694.5,103.9 695,103.3 695.5,103.0 696,102.9 696.5,103.2 697,103.8 697.5,104.7 698,105.9 698.5,107.4 699,109.1 699.5,111.1 700,113.3 700.5,115.7 701,118.2 701.5,120.9 702,123.8 702.5,126.7 703,129.7 703.5,132.7 704,135.8 704.5,138.8 705,141.9 705.5,144.9 706,147.9 706.5,150.8 707,153.7 707.5,156.4 708,159.1 708.5,161.6 709,164.0 709.5,166.4 710,168.5 710.5,170.6 711,172.5 711.5,174.3 712,176.0 712.5,177.6 713,179.0 713.5,180.4 714,181.6 714.5,182.7 715,183.7 715.5,184.6 716,185.5 716.5,186.2 717,186.9 717.5,187.5 718,188.0 718.5,188.5 719,188.9 719.5,189.3 720,189.7 720.5,190.0 721,190.2 721.5,190.4 722,190.7 722.5,190.8 723,191.0 723.5,191.1 724,191.2 724.5,191.4 725,191.5 725.5,191.5 726,191.6 726.5,191.7 727,191.7 727.5,191.8 728,191.8 728.5,191.9 729,191.9 729.5,192.0 730,192.0 730.5,192.0 731,192.0 731.5,192.1 732,192.1 732.5,192.1 733,192.1 733.5,192.2 734,192.2 734.5,192.2 735,192.2 735.5,192.2 736,192.2 736.5,192.3 737,192.3 737.5,192.3 738,192.3 738.5,192.3 739,192.3 739.5,192.3 740,192.4 740.5,192.4 741,192.4 741.5,192.4 742,192.4 742.5,192.4 742.5,192.9 582,192.9Z" fill="#c2e6f6"/>
<path d="M582,192.8 582.5,192.8 583,192.8 583.5,192.8 584,192.8 584.5,192.8 585,192.8 585.5,192.8 586,192.8 586.5,192.8 587,192.8 587.5,192.8 588,192.8 588.5,192.8 589,192.8 589.5,192.8 590,192.8 590.5,192.8 591,192.8 591.5,192.8 592,192.8 592.5,192.8 593,192.8 593.5,192.8 594,192.8 594.5,192.8 595,192.8 595.5,192.8 596,192.8 596.5,192.8 597,192.8 597.5,192.8 598,192.8 598.5,192.8 599,192.8 599.5,192.8 600,192.8 600.5,192.8 601,192.8 601.5,192.8 602,192.8 602.5,192.8 603,192.8 603.5,192.8 604,192.8 604.5,192.8 605,192.8 605.5,192.8 606,192.8 606.5,192.8 607,192.8 607.5,192.8 608,192.8 608.5,192.8 609,192.8 609.5,192.8 610,192.7 610.5,192.7 611,192.7 611.5,192.7 612,192.7 612.5,192.7 613,192.7 613.5,192.7 614,192.7 614.5,192.7 615,192.7 615.5,192.7 616,192.7 616.5,192.7 617,192.7 617.5,192.7 618,192.7 618.5,192.7 619,192.7 619.5,192.7 620,192.7 620.5,192.7 621,192.7 621.5,192.7 622,192.7 622.5,192.7 623,192.7 623.5,192.7 624,192.7 624.5,192.7 625,192.7 625.5,192.7 626,192.7 626.5,192.7 627,192.7 627.5,192.7 628,192.7 628.5,192.7 629,192.7 629.5,192.6 630,192.6 630.5,192.6 631,192.6 631.5,192.6 632,192.6 632.5,192.6 633,192.6 633.5,192.6 634,192.6 634.5,192.6 635,192.6 635.5,192.6 636,192.6 636.5,192.6 637,192.6 637.5,192.6 638,192.6 638.5,192.6 639,192.6 639.5,192.6 640,192.5 640.5,192.5 641,192.5 641.5,192.5 642,192.5 642.5,192.5 643,192.5 643.5,192.5 644,192.5 644.5,192.5 645,192.5 645.5,192.5 646,192.5 646.5,192.5 647,192.4 647.5,192.4 648,192.4 648.5,192.4 649,192.4 649.5,192.4 650,192.4 650.5,192.4 651,192.4 651.5,192.4 652,192.3 652.5,192.3 653,192.3 653.5,192.3 654,192.3 654.5,192.3 655,192.3 655.5,192.2 656,192.2 656.5,192.2 657,192.2 657.5,192.2 658,192.2 658.5,192.1 659,192.1 659.5,192.1 660,192.1 660.5,192.0 661,192.0 661.5,192.0 662,192.0 662.5,191.9 663,191.9 663.5,191.8 664,191.8 664.5,191.7 665,191.7 665.5,191.6 666,191.5 666.5,191.5 667,191.4 667.5,191.3 668,191.1 668.5,191.0 669,190.9 669.5,190.7 670,190.5 670.5,190.3 671,190.0 671.5,189.7 672,189.4 672.5,189.0 673,188.6 673.5,188.1 674,187.6 674.5,187.0 675,186.3 675.5,185.6 676,184.7 676.5,183.8 677,182.8 677.5,181.7 678,180.5 678.5,179.2 679,177.8 679.5,176.2 680,174.6 680.5,172.8 681,170.9 681.5,168.8 682,166.7 682.5,164.4 683,161.9 683.5,159.4 684,156.8 684.5,154.0 685,151.2 685.5,148.3 686,145.3 686.5,142.3 687,139.3 687.5,136.2 688,133.1 688.5,130.1 689,127.1 689.5,124.1 690,121.3 690.5,118.6 691,116.0 691.5,113.6 692,111.4 692.5,109.4 693,107.6 693.5,106.1 694,104.9 694.5,103.9 695,103.3 695.5,103.0 696,102.9 696.5,103.2 697,103.8 697.5,104.7 698,105.9 698.5,107.4 699,109.1 699.5,111.1 700,113.3 700.5,115.7 701,118.2 701.5,120.9 702,123.8 702.5,126.7 703,129.7 703.5,132.7 704,135.8 704.5,138.8 705,141.9 705.5,144.9 706,147.9 706.5,150.8 707,153.7 707.5,156.4 708,159.1 708.5,161.6 709,164.0 709.5,166.4 710,168.5 710.5,170.6 711,172.5 711.5,174.3 712,176.0 712.5,177.6 713,179.0 713.5,180.4 714,181.6 714.5,182.7 715,183.7 715.5,184.6 716,185.5 716.5,186.2 717,186.9 717.5,187.5 718,188.0 718.5,188.5 719,188.9 719.5,189.3 720,189.7 720.5,190.0 721,190.2 721.5,190.4 722,190.7 722.5,190.8 723,191.0 723.5,191.1 724,191.2 724.5,191.4 725,191.5 725.5,191.5 726,191.6 726.5,191.7 727,191.7 727.5,191.8 728,191.8 728.5,191.9 729,191.9 729.5,192.0 730,192.0 730.5,192.0 731,192.0 731.5,192.1 732,192.1 732.5,192.1 733,192.1 733.5,192.2 734,192.2 734.5,192.2 735,192.2 735.5,192.2 736,192.2 736.5,192.3 737,192.3 737.5,192.3 738,192.3 738.5,192.3 739,192.3 739.5,192.3 740,192.4 740.5,192.4 741,192.4 741.5,192.4 742,192.4 742.5,192.4" fill="none" stroke="#3aa4dc" stroke-width="1.2" stroke-linejoin="round"/>
<path d="M582,192.3 582.5,192.3 583,192.3 583.5,192.2 584,192.2 584.5,192.2 585,192.2 585.5,192.2 586,192.2 586.5,192.1 587,192.1 587.5,192.1 588,192.1 588.5,192.0 589,192.0 589.5,192.0 590,192.0 590.5,191.9 591,191.9 591.5,191.9 592,191.8 592.5,191.8 593,191.7 593.5,191.7 594,191.7 594.5,191.6 595,191.6 595.5,191.5 596,191.5 596.5,191.4 597,191.3 597.5,191.3 598,191.2 598.5,191.1 599,191.1 599.5,191.0 600,190.9 600.5,190.8 601,190.8 601.5,190.7 602,190.6 602.5,190.5 603,190.4 603.5,190.3 604,190.2 604.5,190.0 605,189.9 605.5,189.8 606,189.7 606.5,189.5 607,189.4 607.5,189.2 608,189.1 608.5,188.9 609,188.8 609.5,188.6 610,188.4 610.5,188.3 611,188.1 611.5,187.9 612,187.7 612.5,187.5 613,187.3 613.5,187.0 614,186.8 614.5,186.6 615,186.4 615.5,186.1 616,185.9 616.5,185.6 617,185.4 617.5,185.1 618,184.8 618.5,184.5 619,184.3 619.5,184.0 620,183.7 620.5,183.4 621,183.1 621.5,182.8 622,182.5 622.5,182.1 623,181.8 623.5,181.5 624,181.2 624.5,180.8 625,180.5 625.5,180.2 626,179.8 626.5,179.5 627,179.1 627.5,178.8 628,178.4 628.5,178.1 629,177.7 629.5,177.4 630,177.0 630.5,176.7 631,176.3 631.5,176.0 632,175.6 632.5,175.3 633,175.0 633.5,174.6 634,174.3 634.5,174.0 635,173.7 635.5,173.4 636,173.1 636.5,172.8 637,172.5 637.5,172.2 638,171.9 638.5,171.7 639,171.4 639.5,171.2 640,171.0 640.5,170.8 641,170.6 641.5,170.4 642,170.2 642.5,170.0 643,169.9 643.5,169.8 644,169.7 644.5,169.6 645,169.5 645.5,169.4 646,169.4 646.5,169.3 647,169.3 647.5,169.3 648,169.3 648.5,169.4 649,169.4 649.5,169.5 650,169.6 650.5,169.8 651,169.9 651.5,170.1 652,170.3 652.5,170.5 653,170.8 653.5,171.0 654,171.3 654.5,171.6 655,171.9 655.5,172.2 656,172.5 656.5,172.9 657,173.2 657.5,173.6 658,173.9 658.5,174.3 659,174.7 659.5,175.1 660,175.5 660.5,175.9 661,176.3 661.5,176.7 662,177.1 662.5,177.6 663,178.0 663.5,178.4 664,178.8 664.5,179.2 665,179.6 665.5,180.0 666,180.5 666.5,180.9 667,181.2 667.5,181.6 668,182.0 668.5,182.4 669,182.8 669.5,183.1 670,183.5 670.5,183.9 671,184.2 671.5,184.5 672,184.9 672.5,185.2 673,185.5 673.5,185.8 674,186.1 674.5,186.4 675,186.7 675.5,186.9 676,187.2 676.5,187.4 677,187.7 677.5,187.9 678,188.2 678.5,188.4 679,188.6 679.5,188.8 680,189.0 680.5,189.2 681,189.3 681.5,189.5 682,189.7 682.5,189.8 683,190.0 683.5,190.1 684,190.2 684.5,190.4 685,190.5 685.5,190.6 686,190.7 686.5,190.8 687,190.9 687.5,191.0 688,191.1 688.5,191.2 689,191.3 689.5,191.3 690,191.4 690.5,191.5 691,191.5 691.5,191.6 692,191.6 692.5,191.7 693,191.8 693.5,191.8 694,191.8 694.5,191.9 695,191.9 695.5,192.0 696,192.0 696.5,192.0 697,192.1 697.5,192.1 698,192.1 698.5,192.1 699,192.2 699.5,192.2 700,192.2 700.5,192.2 701,192.3 701.5,192.3 702,192.3 702.5,192.3 703,192.3 703.5,192.3 704,192.3 704.5,192.4 705,192.4 705.5,192.4 706,192.4 706.5,192.4 707,192.4 707.5,192.4 708,192.4 708.5,192.4 709,192.5 709.5,192.5 710,192.5 710.5,192.5 711,192.5 711.5,192.5 712,192.5 712.5,192.5 713,192.5 713.5,192.5 714,192.5 714.5,192.5 715,192.5 715.5,192.5 716,192.5 716.5,192.5 717,192.6 717.5,192.6 718,192.6 718.5,192.6 719,192.6 719.5,192.6 720,192.6 720.5,192.6 721,192.6 721.5,192.6 722,192.6 722.5,192.6 723,192.6 723.5,192.6 724,192.6 724.5,192.6 725,192.6 725.5,192.6 726,192.6 726.5,192.6 727,192.6 727.5,192.6 728,192.6 728.5,192.6 729,192.6 729.5,192.6 730,192.7 730.5,192.7 731,192.7 731.5,192.7 732,192.7 732.5,192.7 733,192.7 733.5,192.7 734,192.7 734.5,192.7 735,192.7 735.5,192.7 736,192.7 736.5,192.7 737,192.7 737.5,192.7 738,192.7 738.5,192.7 739,192.7 739.5,192.7 740,192.7 740.5,192.7 741,192.7 741.5,192.7 742,192.7 742.5,192.7 742.5,192.9 582,192.9Z" fill="#c6c6f2"/>
<path d="M582,192.3 582.5,192.3 583,192.3 583.5,192.2 584,192.2 584.5,192.2 585,192.2 585.5,192.2 586,192.2 586.5,192.1 587,192.1 587.5,192.1 588,192.1 588.5,192.0 589,192.0 589.5,192.0 590,192.0 590.5,191.9 591,191.9 591.5,191.9 592,191.8 592.5,191.8 593,191.7 593.5,191.7 594,191.7 594.5,191.6 595,191.6 595.5,191.5 596,191.5 596.5,191.4 597,191.3 597.5,191.3 598,191.2 598.5,191.1 599,191.1 599.5,191.0 600,190.9 600.5,190.8 601,190.8 601.5,190.7 602,190.6 602.5,190.5 603,190.4 603.5,190.3 604,190.2 604.5,190.0 605,189.9 605.5,189.8 606,189.7 606.5,189.5 607,189.4 607.5,189.2 608,189.1 608.5,188.9 609,188.8 609.5,188.6 610,188.4 610.5,188.3 611,188.1 611.5,187.9 612,187.7 612.5,187.5 613,187.3 613.5,187.0 614,186.8 614.5,186.6 615,186.4 615.5,186.1 616,185.9 616.5,185.6 617,185.4 617.5,185.1 618,184.8 618.5,184.5 619,184.3 619.5,184.0 620,183.7 620.5,183.4 621,183.1 621.5,182.8 622,182.5 622.5,182.1 623,181.8 623.5,181.5 624,181.2 624.5,180.8 625,180.5 625.5,180.2 626,179.8 626.5,179.5 627,179.1 627.5,178.8 628,178.4 628.5,178.1 629,177.7 629.5,177.4 630,177.0 630.5,176.7 631,176.3 631.5,176.0 632,175.6 632.5,175.3 633,175.0 633.5,174.6 634,174.3 634.5,174.0 635,173.7 635.5,173.4 636,173.1 636.5,172.8 637,172.5 637.5,172.2 638,171.9 638.5,171.7 639,171.4 639.5,171.2 640,171.0 640.5,170.8 641,170.6 641.5,170.4 642,170.2 642.5,170.0 643,169.9 643.5,169.8 644,169.7 644.5,169.6 645,169.5 645.5,169.4 646,169.4 646.5,169.3 647,169.3 647.5,169.3 648,169.3 648.5,169.4 649,169.4 649.5,169.5 650,169.6 650.5,169.8 651,169.9 651.5,170.1 652,170.3 652.5,170.5 653,170.8 653.5,171.0 654,171.3 654.5,171.6 655,171.9 655.5,172.2 656,172.5 656.5,172.9 657,173.2 657.5,173.6 658,173.9 658.5,174.3 659,174.7 659.5,175.1 660,175.5 660.5,175.9 661,176.3 661.5,176.7 662,177.1 662.5,177.6 663,178.0 663.5,178.4 664,178.8 664.5,179.2 665,179.6 665.5,180.0 666,180.5 666.5,180.9 667,181.2 667.5,181.6 668,182.0 668.5,182.4 669,182.8 669.5,183.1 670,183.5 670.5,183.9 671,184.2 671.5,184.5 672,184.9 672.5,185.2 673,185.5 673.5,185.8 674,186.1 674.5,186.4 675,186.7 675.5,186.9 676,187.2 676.5,187.4 677,187.7 677.5,187.9 678,188.2 678.5,188.4 679,188.6 679.5,188.8 680,189.0 680.5,189.2 681,189.3 681.5,189.5 682,189.7 682.5,189.8 683,190.0 683.5,190.1 684,190.2 684.5,190.4 685,190.5 685.5,190.6 686,190.7 686.5,190.8 687,190.9 687.5,191.0 688,191.1 688.5,191.2 689,191.3 689.5,191.3 690,191.4 690.5,191.5 691,191.5 691.5,191.6 692,191.6 692.5,191.7 693,191.8 693.5,191.8 694,191.8 694.5,191.9 695,191.9 695.5,192.0 696,192.0 696.5,192.0 697,192.1 697.5,192.1 698,192.1 698.5,192.1 699,192.2 699.5,192.2 700,192.2 700.5,192.2 701,192.3 701.5,192.3 702,192.3 702.5,192.3 703,192.3 703.5,192.3 704,192.3 704.5,192.4 705,192.4 705.5,192.4 706,192.4 706.5,192.4 707,192.4 707.5,192.4 708,192.4 708.5,192.4 709,192.5 709.5,192.5 710,192.5 710.5,192.5 711,192.5 711.5,192.5 712,192.5 712.5,192.5 713,192.5 713.5,192.5 714,192.5 714.5,192.5 715,192.5 715.5,192.5 716,192.5 716.5,192.5 717,192.6 717.5,192.6 718,192.6 718.5,192.6 719,192.6 719.5,192.6 720,192.6 720.5,192.6 721,192.6 721.5,192.6 722,192.6 722.5,192.6 723,192.6 723.5,192.6 724,192.6 724.5,192.6 725,192.6 725.5,192.6 726,192.6 726.5,192.6 727,192.6 727.5,192.6 728,192.6 728.5,192.6 729,192.6 729.5,192.6 730,192.7 730.5,192.7 731,192.7 731.5,192.7 732,192.7 732.5,192.7 733,192.7 733.5,192.7 734,192.7 734.5,192.7 735,192.7 735.5,192.7 736,192.7 736.5,192.7 737,192.7 737.5,192.7 738,192.7 738.5,192.7 739,192.7 739.5,192.7 740,192.7 740.5,192.7 741,192.7 741.5,192.7 742,192.7 742.5,192.7" fill="none" stroke="#1c1cb6" stroke-width="1.7" stroke-linejoin="round"/>
<path d="M582.3,189.9 584.1,195.5 585.8,187.2 587.6,198.5 589.4,188.7 591.1,195.1 592.9,187.8 594.7,196 596.4,188.1 598.2,198.5 599.9,194 601.7,194.0 603.5,184.3 605.2,195.6 607.0,184.2 608.8,164.4 610.5,185.2 612.3,196 614.1,167.6 615.8,191.3 617.6,181.3 619.4,182 621.1,178.1 622.9,191 624.6,176.8 626.4,195 628.2,156.8 629.9,183.4 631.7,157 633.5,165 635.2,168.6 637.0,176.2 638.8,158 640.5,163 642.3,167.3 644.1,155.8 645.8,160.8 647.6,189.2 649.3,165.3 651.1,185 652.9,162.9 654.6,147.1 656.4,150 658.2,177.5 659.9,170 661.7,181.0 663.5,176 665.2,184.0 667.0,173.1 668.8,189.4 670.5,167.6 672.3,168 674.0,171.8 675.8,150.4 677.6,191 679.3,176.4 681.1,160.5 682.9,131 684.6,132 686.4,144.0 688.2,148.2 689.9,150 691.7,103 693.5,104 695.2,109 697.0,108.5 698.7,118 700.5,122.4 702.3,172 704.0,139.4 705.8,160 707.6,152.5 709.3,153 711.1,195.6 712.9,172.2 714.6,186.0 716.4,197 718.2,197.7 719.9,176.2 721.7,194.2 723.4,186.3 725.2,196 727.0,183.4 728.7,197.7 730.5,189.2 732.3,198.5 734.0,187.8 735.8,195 737.6,185.7 739.3,198.5 741.1,189.7" fill="none" stroke="#1c1c98" stroke-width="1.9" stroke-dasharray="1.7 1.5"/>
<path d="M582,192.2 582.5,192.2 583,192.2 583.5,192.2 584,192.1 584.5,192.1 585,192.1 585.5,192.1 586,192.1 586.5,192.0 587,192.0 587.5,192.0 588,192.0 588.5,191.9 589,191.9 589.5,191.9 590,191.9 590.5,191.8 591,191.8 591.5,191.8 592,191.7 592.5,191.7 593,191.6 593.5,191.6 594,191.6 594.5,191.5 595,191.5 595.5,191.4 596,191.3 596.5,191.3 597,191.2 597.5,191.2 598,191.1 598.5,191.0 599,191.0 599.5,190.9 600,190.8 600.5,190.7 601,190.6 601.5,190.5 602,190.4 602.5,190.3 603,190.2 603.5,190.1 604,190.0 604.5,189.9 605,189.8 605.5,189.7 606,189.5 606.5,189.4 607,189.2 607.5,189.1 608,188.9 608.5,188.8 609,188.6 609.5,188.5 610,188.3 610.5,188.1 611,187.9 611.5,187.7 612,187.5 612.5,187.3 613,187.1 613.5,186.9 614,186.7 614.5,186.4 615,186.2 615.5,185.9 616,185.7 616.5,185.4 617,185.2 617.5,184.9 618,184.6 618.5,184.4 619,184.1 619.5,183.8 620,183.5 620.5,183.2 621,182.9 621.5,182.6 622,182.3 622.5,181.9 623,181.6 623.5,181.3 624,180.9 624.5,180.6 625,180.3 625.5,179.9 626,179.6 626.5,179.2 627,178.9 627.5,178.5 628,178.2 628.5,177.8 629,177.5 629.5,177.1 630,176.8 630.5,176.4 631,176.1 631.5,175.7 632,175.4 632.5,175.0 633,174.7 633.5,174.4 634,174.0 634.5,173.7 635,173.4 635.5,173.1 636,172.8 636.5,172.5 637,172.2 637.5,171.9 638,171.6 638.5,171.4 639,171.1 639.5,170.9 640,170.6 640.5,170.4 641,170.2 641.5,170.0 642,169.8 642.5,169.7 643,169.5 643.5,169.4 644,169.3 644.5,169.1 645,169.1 645.5,169.0 646,168.9 646.5,168.9 647,168.8 647.5,168.8 648,168.9 648.5,168.9 649,168.9 649.5,169.0 650,169.1 650.5,169.2 651,169.4 651.5,169.6 652,169.7 652.5,169.9 653,170.2 653.5,170.4 654,170.7 654.5,170.9 655,171.2 655.5,171.5 656,171.8 656.5,172.2 657,172.5 657.5,172.8 658,173.2 658.5,173.6 659,173.9 659.5,174.3 660,174.7 660.5,175.1 661,175.4 661.5,175.8 662,176.2 662.5,176.6 663,177.0 663.5,177.3 664,177.7 664.5,178.1 665,178.4 665.5,178.8 666,179.1 666.5,179.4 667,179.7 667.5,180.0 668,180.3 668.5,180.5 669,180.7 669.5,180.9 670,181.1 670.5,181.2 671,181.3 671.5,181.3 672,181.3 672.5,181.3 673,181.2 673.5,181.0 674,180.8 674.5,180.5 675,180.1 675.5,179.6 676,179.0 676.5,178.4 677,177.6 677.5,176.8 678,175.8 678.5,174.7 679,173.5 679.5,172.1 680,170.6 680.5,169.0 681,167.3 681.5,165.4 682,163.4 682.5,161.3 683,159.0 683.5,156.6 684,154.1 684.5,151.5 685,148.8 685.5,146.0 686,143.1 686.5,140.2 687,137.3 687.5,134.3 688,131.3 688.5,128.3 689,125.4 689.5,122.6 690,119.8 690.5,117.2 691,114.6 691.5,112.3 692,110.1 692.5,108.2 693,106.5 693.5,105.0 694,103.8 694.5,102.9 695,102.3 695.5,102.0 696,102.0 696.5,102.4 697,103.0 697.5,103.9 698,105.1 698.5,106.6 699,108.4 699.5,110.4 700,112.6 700.5,115.0 701,117.6 701.5,120.3 702,123.1 702.5,126.1 703,129.1 703.5,132.1 704,135.2 704.5,138.3 705,141.4 705.5,144.4 706,147.4 706.5,150.3 707,153.2 707.5,155.9 708,158.6 708.5,161.2 709,163.6 709.5,165.9 710,168.1 710.5,170.2 711,172.1 711.5,173.9 712,175.6 712.5,177.2 713,178.6 713.5,180.0 714,181.2 714.5,182.3 715,183.3 715.5,184.3 716,185.1 716.5,185.9 717,186.5 717.5,187.2 718,187.7 718.5,188.2 719,188.6 719.5,189.0 720,189.3 720.5,189.6 721,189.9 721.5,190.1 722,190.4 722.5,190.5 723,190.7 723.5,190.8 724,191.0 724.5,191.1 725,191.2 725.5,191.3 726,191.3 726.5,191.4 727,191.5 727.5,191.5 728,191.6 728.5,191.6 729,191.7 729.5,191.7 730,191.7 730.5,191.8 731,191.8 731.5,191.8 732,191.9 732.5,191.9 733,191.9 733.5,191.9 734,191.9 734.5,192.0 735,192.0 735.5,192.0 736,192.0 736.5,192.0 737,192.1 737.5,192.1 738,192.1 738.5,192.1 739,192.1 739.5,192.1 740,192.2 740.5,192.2 741,192.2 741.5,192.2 742,192.2 742.5,192.2" fill="none" stroke="#c4262e" stroke-width="1.9" stroke-linejoin="round"/>
<rect x="581.1" y="0.8" width="162.6" height="199.7" fill="none" stroke="#111" stroke-width="1.9"/>
<text x="601.8" y="220.6" font-family="Liberation Sans, sans-serif" font-size="14.6" text-anchor="middle" fill="#141414">410</text>
<text x="648.2" y="220.6" font-family="Liberation Sans, sans-serif" font-size="14.6" text-anchor="middle" fill="#141414">405</text>
<text x="694.7" y="220.6" font-family="Liberation Sans, sans-serif" font-size="14.6" text-anchor="middle" fill="#141414">400</text>
<text x="741.1" y="220.6" font-family="Liberation Sans, sans-serif" font-size="14.6" text-anchor="middle" fill="#141414">395</text>
<path d="M591.9,17.3H613.5" stroke="#1e1e9c" stroke-width="1.8" stroke-dasharray="1.6 1.6"/>
<text x="619.3" y="20.8" font-family="Liberation Sans, sans-serif" font-size="11.2" text-anchor="start" fill="#141414">N 1s</text>
<path d="M591.9,30.5H613.5" stroke="#c4262e" stroke-width="2"/>
<text x="619.3" y="34.0" font-family="Liberation Sans, sans-serif" font-size="11.2" text-anchor="start" fill="#141414">fit</text>
<rect x="598.7" y="40.7" width="9.3" height="5.9" fill="#c2e6f6" stroke="#3aa4dc" stroke-width="1.6"/>
<text x="619.3" y="47.1" font-family="Liberation Sans, sans-serif" font-size="11.2" text-anchor="start" fill="#141414">NH</text>
<rect x="598.7" y="53.9" width="9.3" height="5.9" fill="#c6c6f2" stroke="#1c1cb6" stroke-width="1.6"/>
<text x="619.3" y="60.2" font-family="Liberation Sans, sans-serif" font-size="11.2" text-anchor="start" fill="#141414">NO<tspan font-size="8.5" dy="3">2</tspan></text>
<rect x="722.1" y="3.4" width="18.3" height="21.3" fill="#fff"/>
<text transform="translate(741.6,20.1) scale(0.8,1)" font-family="Liberation Sans, sans-serif" font-size="19.0" text-anchor="end" fill="#141414">(d)</text>
<path d="M193.1,263.8v11.0M193.1,467v-10.0M183.2,263.8v5.9M183.2,467v-5.5M173.2,263.8v5.9M173.2,467v-5.5M163.3,263.8v5.9M163.3,467v-5.5M153.4,263.8v5.9M153.4,467v-5.5M143.4,263.8v11.0M143.4,467v-10.0M133.5,263.8v5.9M133.5,467v-5.5M123.5,263.8v5.9M123.5,467v-5.5M113.6,263.8v5.9M113.6,467v-5.5M103.7,263.8v5.9M103.7,467v-5.5M93.7,263.8v11.0M93.7,467v-10.0M83.8,263.8v5.9M83.8,467v-5.5M73.8,263.8v5.9M73.8,467v-5.5M63.9,263.8v5.9M63.9,467v-5.5M54.0,263.8v5.9M54.0,467v-5.5M44.0,263.8v11.0M44.0,467v-10.0M34.1,263.8v5.9M34.1,467v-5.5" stroke="#111" stroke-width="1.5" fill="none"/>
<path d="M88.7,459.4 89.2,459.3 89.7,459.3 90.2,459.2 90.7,459.1 91.2,459.0 91.7,458.9 92.2,458.8 92.7,458.6 93.2,458.4 93.7,458.2 94.2,457.9 94.7,457.6 95.2,457.3 95.7,456.9 96.2,456.5 96.7,456.1 97.2,455.7 97.7,455.2 98.2,454.7 98.7,454.2 99.2,453.7 99.7,453.2 100.2,452.7 100.7,452.2 101.2,451.8 101.7,451.4 102.2,451.0 102.7,450.7 103.2,450.5 103.7,450.4 104.2,450.3 104.7,450.3 105.2,450.4 105.7,450.6 106.2,450.8 106.7,451.1 107.2,451.4 107.7,451.9 108.2,452.3 108.7,452.8 109.2,453.3 109.7,453.8 110.2,454.3 110.7,454.8 111.2,455.3 111.7,455.7 112.2,456.2 112.7,456.6 113.2,457.0 113.7,457.3 114.2,457.7 114.7,457.9 115.2,458.2 115.7,458.4 116.2,458.6 116.7,458.8 117.2,458.9 117.2,459.6 88.7,459.6Z" fill="#dccbc4"/>
<path d="M88.7,459.4 89.2,459.3 89.7,459.3 90.2,459.2 90.7,459.1 91.2,459.0 91.7,458.9 92.2,458.8 92.7,458.6 93.2,458.4 93.7,458.2 94.2,457.9 94.7,457.6 95.2,457.3 95.7,456.9 96.2,456.5 96.7,456.1 97.2,455.7 97.7,455.2 98.2,454.7 98.7,454.2 99.2,453.7 99.7,453.2 100.2,452.7 100.7,452.2 101.2,451.8 101.7,451.4 102.2,451.0 102.7,450.7 103.2,450.5 103.7,450.4 104.2,450.3 104.7,450.3 105.2,450.4 105.7,450.6 106.2,450.8 106.7,451.1 107.2,451.4 107.7,451.9 108.2,452.3 108.7,452.8 109.2,453.3 109.7,453.8 110.2,454.3 110.7,454.8 111.2,455.3 111.7,455.7 112.2,456.2 112.7,456.6 113.2,457.0 113.7,457.3 114.2,457.7 114.7,457.9 115.2,458.2 115.7,458.4 116.2,458.6 116.7,458.8 117.2,458.9" fill="none" stroke="#5c2616" stroke-width="1.6" stroke-linejoin="round"/>
<path d="M136.0,433.3 136.5,428.6 137.0,423.2 137.5,417.3 138.0,410.8 138.5,403.6 139.0,395.9 139.5,387.7 140.0,379.1 140.5,370.1 141.0,360.9 141.5,351.5 142.0,342.1 142.5,332.9 143.0,324.0 143.5,315.5 144.0,307.7 144.5,300.7 145.0,294.6 145.5,289.5 146.0,285.7 146.5,283.0 147.0,281.7 147.5,281.8 148.0,283.1 148.5,285.7 149.0,289.5 149.5,294.4 150.0,300.3 150.5,307.0 151.0,314.4 151.5,322.4 152.0,330.8 152.5,339.4 153.0,348.2 153.5,357.0 154.0,365.6 154.5,374.1 155.0,382.3 155.5,390.1 156.0,397.4 156.5,404.3 157.0,410.7 157.5,416.6 158.0,422.0 158.5,426.8 159.0,431.1 159.5,435.0 160.0,438.4 160.5,441.4 161.0,443.9 161.5,446.2 162.0,448.1 162.5,449.7 163.0,451.1 163.5,452.3 164.0,453.3 164.5,454.1 165.0,454.8 165.5,455.3 166.0,455.8 166.5,456.2 167.0,456.5 167.5,456.8 168.0,457.0 168.5,457.2 169.0,457.4 169.5,457.5 170.0,457.6 170.5,457.7 171.0,457.8 171.5,457.9 172.0,458.0 172.5,458.0 173.0,458.1 173.5,458.2 174.0,458.2 174.5,458.3 175.0,458.3 175.5,458.3 176.0,458.4 176.5,458.4 177.0,458.5 177.5,458.5 178.0,458.5 178.5,458.6 179.0,458.6 179.5,458.6 180.0,458.7 180.5,458.7 181.0,458.7 181.5,458.7 182.0,458.8 182.5,458.8 183.0,458.8 183.5,458.8 184.0,458.8 184.5,458.9 185.0,458.9 185.5,458.9 186.0,458.9 186.5,458.9 187.0,458.9 187.5,459.0 188.0,459.0 188.5,459.0 189.0,459.0 189.5,459.0 190.0,459.0 190.5,459.0 191.0,459.1 191.5,459.1 192.0,459.1 192.5,459.1 193.0,459.1 193.0,459.6 136.0,459.6Z" fill="#f9bcd9"/>
<path d="M136.0,433.3 136.5,428.6 137.0,423.2 137.5,417.3 138.0,410.8 138.5,403.6 139.0,395.9 139.5,387.7 140.0,379.1 140.5,370.1 141.0,360.9 141.5,351.5 142.0,342.1 142.5,332.9 143.0,324.0 143.5,315.5 144.0,307.7 144.5,300.7 145.0,294.6 145.5,289.5 146.0,285.7 146.5,283.0 147.0,281.7 147.5,281.8 148.0,283.1 148.5,285.7 149.0,289.5 149.5,294.4 150.0,300.3 150.5,307.0 151.0,314.4 151.5,322.4 152.0,330.8 152.5,339.4 153.0,348.2 153.5,357.0 154.0,365.6 154.5,374.1 155.0,382.3 155.5,390.1 156.0,397.4 156.5,404.3 157.0,410.7 157.5,416.6 158.0,422.0 158.5,426.8 159.0,431.1 159.5,435.0 160.0,438.4 160.5,441.4 161.0,443.9 161.5,446.2 162.0,448.1 162.5,449.7 163.0,451.1 163.5,452.3 164.0,453.3 164.5,454.1 165.0,454.8 165.5,455.3 166.0,455.8 166.5,456.2 167.0,456.5 167.5,456.8 168.0,457.0 168.5,457.2 169.0,457.4 169.5,457.5 170.0,457.6 170.5,457.7 171.0,457.8 171.5,457.9 172.0,458.0 172.5,458.0 173.0,458.1 173.5,458.2 174.0,458.2 174.5,458.3 175.0,458.3 175.5,458.3 176.0,458.4 176.5,458.4 177.0,458.5 177.5,458.5 178.0,458.5 178.5,458.6 179.0,458.6 179.5,458.6 180.0,458.7 180.5,458.7 181.0,458.7 181.5,458.7 182.0,458.8 182.5,458.8 183.0,458.8 183.5,458.8 184.0,458.8 184.5,458.9 185.0,458.9 185.5,458.9 186.0,458.9 186.5,458.9 187.0,458.9 187.5,459.0 188.0,459.0 188.5,459.0 189.0,459.0 189.5,459.0 190.0,459.0 190.5,459.0 191.0,459.1 191.5,459.1 192.0,459.1 192.5,459.1 193.0,459.1" fill="none" stroke="#e01c70" stroke-width="1.6" stroke-linejoin="round"/>
<path d="M110.6,459.2 111.1,459.1 111.6,459.0 112.1,458.9 112.6,458.7 113.1,458.5 113.6,458.3 114.1,458.1 114.6,457.8 115.1,457.5 115.6,457.1 116.1,456.7 116.6,456.2 117.1,455.6 117.6,455.0 118.1,454.3 118.6,453.6 119.1,452.7 119.6,451.8 120.1,450.7 120.6,449.6 121.1,448.4 121.6,447.0 122.1,445.6 122.6,444.1 123.1,442.5 123.6,440.9 124.1,439.1 124.6,437.3 125.1,435.4 125.6,433.5 126.1,431.6 126.6,429.6 127.1,427.6 127.6,425.7 128.1,423.8 128.6,422.0 129.1,420.2 129.6,418.5 130.1,416.9 130.6,415.5 131.1,414.2 131.6,413.1 132.1,412.2 132.6,411.4 133.1,410.9 133.6,410.5 134.1,410.4 134.6,410.5 135.1,410.8 135.6,411.4 136.1,412.1 136.6,413.1 137.1,414.3 137.6,415.6 138.1,417.1 138.6,418.7 139.1,420.4 139.6,422.3 140.1,424.2 140.6,426.1 141.1,428.1 141.6,430.1 142.1,432.1 142.6,434.0 143.1,435.9 143.6,437.8 144.1,439.6 144.6,441.3 145.1,443.0 145.6,444.5 146.1,446.0 146.6,447.3 147.1,448.6 147.6,449.8 148.1,450.9 148.6,451.9 149.1,452.7 149.6,453.6 150.1,454.3 150.6,454.9 151.1,455.5 151.6,456.0 152.1,456.5 152.6,456.9 153.1,457.2 153.6,457.5 154.1,457.8 154.6,458.0 155.1,458.2 155.6,458.4 156.1,458.5 156.6,458.6 157.1,458.7 157.6,458.8 158.1,458.9 158.6,459.0 159.1,459.0 159.6,459.1 160.1,459.1 160.6,459.1 161.1,459.2 161.6,459.2 162.1,459.2 162.6,459.2 163.1,459.3 163.6,459.3 164.1,459.3 164.6,459.3 165.1,459.3 165.6,459.3 166.1,459.3 166.6,459.3 167.1,459.3 167.1,459.6 110.6,459.6Z" fill="#b6dcb2"/>
<path d="M110.6,459.2 111.1,459.1 111.6,459.0 112.1,458.9 112.6,458.7 113.1,458.5 113.6,458.3 114.1,458.1 114.6,457.8 115.1,457.5 115.6,457.1 116.1,456.7 116.6,456.2 117.1,455.6 117.6,455.0 118.1,454.3 118.6,453.6 119.1,452.7 119.6,451.8 120.1,450.7 120.6,449.6 121.1,448.4 121.6,447.0 122.1,445.6 122.6,444.1 123.1,442.5 123.6,440.9 124.1,439.1 124.6,437.3 125.1,435.4 125.6,433.5 126.1,431.6 126.6,429.6 127.1,427.6 127.6,425.7 128.1,423.8 128.6,422.0 129.1,420.2 129.6,418.5 130.1,416.9 130.6,415.5 131.1,414.2 131.6,413.1 132.1,412.2 132.6,411.4 133.1,410.9 133.6,410.5 134.1,410.4 134.6,410.5 135.1,410.8 135.6,411.4 136.1,412.1 136.6,413.1 137.1,414.3 137.6,415.6 138.1,417.1 138.6,418.7 139.1,420.4 139.6,422.3 140.1,424.2 140.6,426.1 141.1,428.1 141.6,430.1 142.1,432.1 142.6,434.0 143.1,435.9 143.6,437.8 144.1,439.6 144.6,441.3 145.1,443.0 145.6,444.5 146.1,446.0 146.6,447.3 147.1,448.6 147.6,449.8 148.1,450.9 148.6,451.9 149.1,452.7 149.6,453.6 150.1,454.3 150.6,454.9 151.1,455.5 151.6,456.0 152.1,456.5 152.6,456.9 153.1,457.2 153.6,457.5 154.1,457.8 154.6,458.0 155.1,458.2 155.6,458.4 156.1,458.5 156.6,458.6 157.1,458.7 157.6,458.8 158.1,458.9 158.6,459.0 159.1,459.0 159.6,459.1 160.1,459.1 160.6,459.1 161.1,459.2 161.6,459.2 162.1,459.2 162.6,459.2 163.1,459.3 163.6,459.3 164.1,459.3 164.6,459.3 165.1,459.3 165.6,459.3 166.1,459.3 166.6,459.3 167.1,459.3" fill="none" stroke="#1c7a1c" stroke-width="1.6" stroke-linejoin="round"/>
<path d="M89.7,459.4 90.2,459.3 90.7,459.3 91.2,459.3 91.7,459.2 92.2,459.2 92.7,459.1 93.2,459.1 93.7,459.0 94.2,459.0 94.7,458.9 95.2,458.8 95.7,458.8 96.2,458.7 96.7,458.6 97.2,458.5 97.7,458.4 98.2,458.3 98.7,458.2 99.2,458.1 99.7,458.0 100.2,457.8 100.7,457.7 101.2,457.6 101.7,457.4 102.2,457.2 102.7,457.1 103.2,456.9 103.7,456.7 104.2,456.6 104.7,456.4 105.2,456.2 105.7,456.0 106.2,455.8 106.7,455.6 107.2,455.4 107.7,455.2 108.2,455.0 108.7,454.8 109.2,454.6 109.7,454.5 110.2,454.3 110.7,454.1 111.2,453.9 111.7,453.8 112.2,453.6 112.7,453.5 113.2,453.3 113.7,453.2 114.2,453.1 114.7,453.0 115.2,452.9 115.7,452.8 116.2,452.8 116.7,452.7 117.2,452.7 117.7,452.7 118.2,452.7 118.7,452.7 119.2,452.8 119.7,452.8 120.2,452.9 120.7,453.0 121.2,453.1 121.7,453.2 122.2,453.3 122.7,453.4 123.2,453.6 123.7,453.7 124.2,453.9 124.7,454.1 125.2,454.2 125.7,454.4 126.2,454.6 126.7,454.8 127.2,455.0 127.7,455.2 128.2,455.4 128.7,455.6 129.2,455.8 129.7,456.0 130.2,456.2 130.7,456.4 131.2,456.5 131.7,456.7 132.2,456.9 132.7,457.1 133.2,457.2 133.7,457.4 134.2,457.5 134.7,457.7 135.2,457.8 135.7,457.9 136.2,458.1 136.7,458.2 137.2,458.3 137.7,458.4 138.2,458.5 138.7,458.6 139.2,458.7 139.7,458.8 140.2,458.8 140.7,458.9 141.2,459.0 141.7,459.0 142.2,459.1 142.7,459.1 143.2,459.2 143.7,459.2 144.2,459.3 144.7,459.3 145.2,459.3 145.7,459.3 146.2,459.4 146.7,459.4 147.2,459.4 147.2,459.6 89.7,459.6Z" fill="#fde2cc"/>
<path d="M89.7,459.4 90.2,459.3 90.7,459.3 91.2,459.3 91.7,459.2 92.2,459.2 92.7,459.1 93.2,459.1 93.7,459.0 94.2,459.0 94.7,458.9 95.2,458.8 95.7,458.8 96.2,458.7 96.7,458.6 97.2,458.5 97.7,458.4 98.2,458.3 98.7,458.2 99.2,458.1 99.7,458.0 100.2,457.8 100.7,457.7 101.2,457.6 101.7,457.4 102.2,457.2 102.7,457.1 103.2,456.9 103.7,456.7 104.2,456.6 104.7,456.4 105.2,456.2 105.7,456.0 106.2,455.8 106.7,455.6 107.2,455.4 107.7,455.2 108.2,455.0 108.7,454.8 109.2,454.6 109.7,454.5 110.2,454.3 110.7,454.1 111.2,453.9 111.7,453.8 112.2,453.6 112.7,453.5 113.2,453.3 113.7,453.2 114.2,453.1 114.7,453.0 115.2,452.9 115.7,452.8 116.2,452.8 116.7,452.7 117.2,452.7 117.7,452.7 118.2,452.7 118.7,452.7 119.2,452.8 119.7,452.8 120.2,452.9 120.7,453.0 121.2,453.1 121.7,453.2 122.2,453.3 122.7,453.4 123.2,453.6 123.7,453.7 124.2,453.9 124.7,454.1 125.2,454.2 125.7,454.4 126.2,454.6 126.7,454.8 127.2,455.0 127.7,455.2 128.2,455.4 128.7,455.6 129.2,455.8 129.7,456.0 130.2,456.2 130.7,456.4 131.2,456.5 131.7,456.7 132.2,456.9 132.7,457.1 133.2,457.2 133.7,457.4 134.2,457.5 134.7,457.7 135.2,457.8 135.7,457.9 136.2,458.1 136.7,458.2 137.2,458.3 137.7,458.4 138.2,458.5 138.7,458.6 139.2,458.7 139.7,458.8 140.2,458.8 140.7,458.9 141.2,459.0 141.7,459.0 142.2,459.1 142.7,459.1 143.2,459.2 143.7,459.2 144.2,459.3 144.7,459.3 145.2,459.3 145.7,459.3 146.2,459.4 146.7,459.4 147.2,459.4" fill="none" stroke="#f08a4c" stroke-width="1.6" stroke-linejoin="round"/>
<path d="M31.5,458.4h3.3v3.3h-3.3zM32.2,457.8h3.3v3.3h-3.3zM33.0,457.8h3.3v3.3h-3.3zM33.8,455.9h3.3v3.3h-3.3zM34.6,456.5h3.3v3.3h-3.3zM35.4,456.8h3.3v3.3h-3.3zM36.2,456.2h3.3v3.3h-3.3zM37.0,459.3h3.3v3.3h-3.3zM37.8,456.5h3.3v3.3h-3.3zM38.6,457.5h3.3v3.3h-3.3zM39.4,459.5h3.3v3.3h-3.3zM40.2,458.2h3.3v3.3h-3.3zM41.0,459.3h3.3v3.3h-3.3zM41.8,456.9h3.3v3.3h-3.3zM42.6,459.2h3.3v3.3h-3.3zM43.4,458.1h3.3v3.3h-3.3zM44.2,460.0h3.3v3.3h-3.3zM45.0,457.9h3.3v3.3h-3.3zM45.8,458.6h3.3v3.3h-3.3zM46.6,455.7h3.3v3.3h-3.3zM47.4,458.2h3.3v3.3h-3.3zM48.2,456.7h3.3v3.3h-3.3zM49.0,459.2h3.3v3.3h-3.3zM49.8,459.9h3.3v3.3h-3.3zM50.6,456.3h3.3v3.3h-3.3zM51.4,457.6h3.3v3.3h-3.3zM52.2,458.6h3.3v3.3h-3.3zM53.0,456.8h3.3v3.3h-3.3zM53.8,456.2h3.3v3.3h-3.3zM54.6,458.4h3.3v3.3h-3.3zM55.4,456.9h3.3v3.3h-3.3zM56.2,458.0h3.3v3.3h-3.3zM57.0,459.5h3.3v3.3h-3.3zM57.8,460.6h3.3v3.3h-3.3zM58.6,456.6h3.3v3.3h-3.3zM59.4,461.2h3.3v3.3h-3.3zM60.2,455.9h3.3v3.3h-3.3zM61.0,457.7h3.3v3.3h-3.3zM61.8,458.3h3.3v3.3h-3.3zM62.6,459.5h3.3v3.3h-3.3zM63.4,460.2h3.3v3.3h-3.3zM64.2,459.1h3.3v3.3h-3.3zM65.0,458.7h3.3v3.3h-3.3zM65.8,460.0h3.3v3.3h-3.3zM66.6,457.7h3.3v3.3h-3.3zM67.4,458.9h3.3v3.3h-3.3zM68.2,455.1h3.3v3.3h-3.3zM69.0,457.5h3.3v3.3h-3.3zM69.8,458.9h3.3v3.3h-3.3zM70.6,456.8h3.3v3.3h-3.3zM71.4,457.2h3.3v3.3h-3.3zM72.2,458.4h3.3v3.3h-3.3zM73.0,458.1h3.3v3.3h-3.3zM73.8,457.7h3.3v3.3h-3.3zM74.6,457.6h3.3v3.3h-3.3zM75.4,460.3h3.3v3.3h-3.3zM76.2,457.2h3.3v3.3h-3.3zM77.0,456.3h3.3v3.3h-3.3zM77.8,457.8h3.3v3.3h-3.3zM78.6,457.8h3.3v3.3h-3.3zM79.4,457.4h3.3v3.3h-3.3zM80.2,456.6h3.3v3.3h-3.3zM81.0,455.0h3.3v3.3h-3.3zM81.8,457.8h3.3v3.3h-3.3zM82.6,457.0h3.3v3.3h-3.3zM83.4,453.9h3.3v3.3h-3.3zM84.2,456.8h3.3v3.3h-3.3zM85.0,458.2h3.3v3.3h-3.3zM85.8,453.2h3.3v3.3h-3.3zM86.6,456.4h3.3v3.3h-3.3zM87.4,453.8h3.3v3.3h-3.3zM88.2,455.6h3.3v3.3h-3.3zM89.0,453.9h3.3v3.3h-3.3zM89.8,455.4h3.3v3.3h-3.3zM90.6,452.1h3.3v3.3h-3.3zM91.4,451.8h3.3v3.3h-3.3zM92.2,451.7h3.3v3.3h-3.3zM93.0,451.1h3.3v3.3h-3.3zM93.8,453.1h3.3v3.3h-3.3zM94.6,448.7h3.3v3.3h-3.3zM95.4,447.2h3.3v3.3h-3.3zM96.2,447.8h3.3v3.3h-3.3zM97.0,447.4h3.3v3.3h-3.3zM97.8,443.9h3.3v3.3h-3.3zM98.6,445.3h3.3v3.3h-3.3zM99.4,444.9h3.3v3.3h-3.3zM100.2,446.2h3.3v3.3h-3.3zM101.0,445.5h3.3v3.3h-3.3zM101.8,444.3h3.3v3.3h-3.3zM102.6,444.6h3.3v3.3h-3.3zM103.4,442.5h3.3v3.3h-3.3zM104.2,443.9h3.3v3.3h-3.3zM105.0,446.8h3.3v3.3h-3.3zM105.8,441.9h3.3v3.3h-3.3zM106.6,442.3h3.3v3.3h-3.3zM107.4,444.2h3.3v3.3h-3.3zM108.2,443.7h3.3v3.3h-3.3zM109.0,444.7h3.3v3.3h-3.3zM109.8,443.9h3.3v3.3h-3.3zM110.6,446.5h3.3v3.3h-3.3zM111.4,444.3h3.3v3.3h-3.3zM112.2,449.2h3.3v3.3h-3.3zM113.0,444.9h3.3v3.3h-3.3zM113.8,444.4h3.3v3.3h-3.3zM114.6,444.5h3.3v3.3h-3.3zM115.4,443.9h3.3v3.3h-3.3zM116.2,442.5h3.3v3.3h-3.3zM117.0,442.6h3.3v3.3h-3.3zM117.8,441.1h3.3v3.3h-3.3zM118.6,441.4h3.3v3.3h-3.3zM119.4,438.5h3.3v3.3h-3.3zM120.2,435.8h3.3v3.3h-3.3zM121.0,432.4h3.3v3.3h-3.3zM121.8,432.9h3.3v3.3h-3.3zM122.6,430.3h3.3v3.3h-3.3zM123.4,427.7h3.3v3.3h-3.3zM124.2,426.6h3.3v3.3h-3.3zM125.0,421.1h3.3v3.3h-3.3zM125.8,419.1h3.3v3.3h-3.3zM126.6,413.5h3.3v3.3h-3.3zM127.4,410.4h3.3v3.3h-3.3zM128.2,410.5h3.3v3.3h-3.3zM129.0,403.5h3.3v3.3h-3.3zM129.8,404.5h3.3v3.3h-3.3zM130.6,401.5h3.3v3.3h-3.3zM131.4,396.6h3.3v3.3h-3.3zM132.2,393.9h3.3v3.3h-3.3zM133.0,391.4h3.3v3.3h-3.3zM133.8,383.0h3.3v3.3h-3.3zM134.6,378.3h3.3v3.3h-3.3zM135.4,373.9h3.3v3.3h-3.3zM136.2,365.4h3.3v3.3h-3.3zM137.0,359.1h3.3v3.3h-3.3zM137.8,348.2h3.3v3.3h-3.3zM138.6,336.6h3.3v3.3h-3.3zM139.4,325.2h3.3v3.3h-3.3zM140.2,312.0h3.3v3.3h-3.3zM141.0,299.8h3.3v3.3h-3.3zM141.8,287.2h3.3v3.3h-3.3zM142.6,280.6h3.3v3.3h-3.3zM143.4,272.2h3.3v3.3h-3.3zM144.2,269.6h3.3v3.3h-3.3zM145.0,266.2h3.3v3.3h-3.3zM145.8,270.4h3.3v3.3h-3.3zM146.6,274.9h3.3v3.3h-3.3zM147.4,280.2h3.3v3.3h-3.3zM148.2,293.8h3.3v3.3h-3.3zM149.0,304.3h3.3v3.3h-3.3zM149.8,315.8h3.3v3.3h-3.3zM150.7,331.6h3.3v3.3h-3.3zM151.5,348.4h3.3v3.3h-3.3zM152.3,360.0h3.3v3.3h-3.3zM153.1,373.5h3.3v3.3h-3.3zM153.9,389.6h3.3v3.3h-3.3zM154.7,399.9h3.3v3.3h-3.3zM155.5,409.0h3.3v3.3h-3.3zM156.3,416.9h3.3v3.3h-3.3zM157.1,423.2h3.3v3.3h-3.3zM157.9,430.8h3.3v3.3h-3.3zM158.7,438.7h3.3v3.3h-3.3zM159.5,442.5h3.3v3.3h-3.3zM160.3,445.5h3.3v3.3h-3.3zM161.1,446.0h3.3v3.3h-3.3zM161.9,448.4h3.3v3.3h-3.3zM162.7,452.8h3.3v3.3h-3.3zM163.5,450.7h3.3v3.3h-3.3zM164.3,453.0h3.3v3.3h-3.3zM165.1,453.9h3.3v3.3h-3.3zM165.9,453.7h3.3v3.3h-3.3zM166.7,454.2h3.3v3.3h-3.3zM167.5,454.6h3.3v3.3h-3.3zM168.3,455.9h3.3v3.3h-3.3zM169.1,457.5h3.3v3.3h-3.3zM169.9,456.0h3.3v3.3h-3.3zM170.7,456.2h3.3v3.3h-3.3zM171.5,454.6h3.3v3.3h-3.3zM172.3,456.2h3.3v3.3h-3.3zM173.1,458.1h3.3v3.3h-3.3zM173.9,456.5h3.3v3.3h-3.3zM174.7,455.7h3.3v3.3h-3.3zM175.5,454.9h3.3v3.3h-3.3zM176.3,457.9h3.3v3.3h-3.3zM177.1,457.3h3.3v3.3h-3.3zM177.9,457.4h3.3v3.3h-3.3zM178.7,456.8h3.3v3.3h-3.3zM179.5,457.1h3.3v3.3h-3.3zM180.3,455.8h3.3v3.3h-3.3zM181.1,458.3h3.3v3.3h-3.3zM181.9,457.9h3.3v3.3h-3.3zM182.7,456.2h3.3v3.3h-3.3zM183.5,454.1h3.3v3.3h-3.3zM184.3,456.4h3.3v3.3h-3.3zM185.1,456.5h3.3v3.3h-3.3zM185.9,459.1h3.3v3.3h-3.3zM186.7,455.1h3.3v3.3h-3.3zM187.5,458.9h3.3v3.3h-3.3zM188.3,455.9h3.3v3.3h-3.3zM189.1,458.4h3.3v3.3h-3.3zM189.9,456.5h3.3v3.3h-3.3zM190.7,456.5h3.3v3.3h-3.3zM191.5,457.5h3.3v3.3h-3.3z" fill="#1616a6"/>
<path d="M32.1,459.6 32.6,459.6 33.1,459.6 33.6,459.6 34.1,459.6 34.6,459.6 35.1,459.6 35.6,459.6 36.1,459.6 36.6,459.6 37.1,459.6 37.6,459.6 38.1,459.6 38.6,459.6 39.1,459.6 39.6,459.6 40.1,459.6 40.6,459.6 41.1,459.6 41.6,459.6 42.1,459.6 42.6,459.6 43.1,459.6 43.6,459.6 44.1,459.6 44.6,459.6 45.1,459.6 45.6,459.6 46.1,459.6 46.6,459.6 47.1,459.6 47.6,459.6 48.1,459.6 48.6,459.6 49.1,459.6 49.6,459.6 50.1,459.6 50.6,459.6 51.1,459.6 51.6,459.6 52.1,459.6 52.6,459.6 53.1,459.6 53.6,459.6 54.1,459.6 54.6,459.6 55.1,459.6 55.6,459.6 56.1,459.6 56.6,459.6 57.1,459.6 57.6,459.6 58.1,459.6 58.6,459.6 59.1,459.6 59.6,459.6 60.1,459.6 60.6,459.6 61.1,459.6 61.6,459.6 62.1,459.6 62.6,459.6 63.1,459.5 63.6,459.5 64.1,459.5 64.6,459.5 65.1,459.5 65.6,459.5 66.1,459.5 66.6,459.5 67.1,459.5 67.6,459.5 68.1,459.5 68.6,459.5 69.1,459.5 69.6,459.5 70.1,459.5 70.6,459.5 71.1,459.5 71.6,459.5 72.1,459.5 72.6,459.5 73.1,459.5 73.6,459.4 74.1,459.4 74.6,459.4 75.1,459.4 75.6,459.4 76.1,459.4 76.6,459.4 77.1,459.3 77.6,459.3 78.1,459.3 78.6,459.3 79.1,459.2 79.6,459.2 80.1,459.2 80.6,459.1 81.1,459.1 81.6,459.0 82.1,459.0 82.6,458.9 83.1,458.8 83.6,458.7 84.1,458.6 84.6,458.5 85.1,458.4 85.6,458.2 86.1,458.1 86.6,457.9 87.1,457.7 87.6,457.5 88.1,457.3 88.6,457.0 89.1,456.7 89.6,456.4 90.1,456.1 90.6,455.8 91.1,455.4 91.6,455.0 92.1,454.6 92.6,454.2 93.1,453.8 93.6,453.3 94.1,452.8 94.6,452.4 95.1,451.9 95.6,451.4 96.1,450.9 96.6,450.4 97.1,449.9 97.6,449.4 98.1,448.9 98.6,448.5 99.1,448.0 99.6,447.6 100.1,447.2 100.6,446.9 101.1,446.5 101.6,446.2 102.1,446.0 102.6,445.8 103.1,445.6 103.6,445.5 104.1,445.4 104.6,445.3 105.1,445.3 105.6,445.3 106.1,445.3 106.6,445.4 107.1,445.5 107.6,445.6 108.1,445.7 108.6,445.9 109.1,446.0 109.6,446.2 110.1,446.3 110.6,446.5 111.1,446.6 111.6,446.7 112.1,446.8 112.6,446.9 113.1,446.9 113.6,447.0 114.1,446.9 114.6,446.9 115.1,446.8 115.6,446.6 116.1,446.4 116.6,446.1 117.1,445.8 117.6,445.3 118.1,444.9 118.6,444.3 119.1,443.6 119.6,442.9 120.1,442.1 120.6,441.2 121.1,440.1 121.6,439.0 122.1,437.8 122.6,436.6 123.1,435.2 123.6,433.7 124.1,432.2 124.6,430.6 125.1,428.9 125.6,427.2 126.1,425.4 126.6,423.6 127.1,421.8 127.6,420.0 128.1,418.1 128.6,416.3 129.1,414.4 129.6,412.6 130.1,410.8 130.6,408.9 131.1,407.1 131.6,405.2 132.1,403.3 132.6,401.4 133.1,399.3 133.6,397.1 134.1,394.7 134.6,392.1 135.1,389.3 135.6,386.2 136.1,382.7 136.6,378.9 137.1,374.7 137.6,370.1 138.1,365.0 138.6,359.4 139.1,353.4 139.6,347.0 140.1,340.3 140.6,333.2 141.1,326.0 141.6,318.6 142.1,311.3 142.6,304.2 143.1,297.4 143.6,291.0 144.1,285.2 144.6,280.2 145.1,276.0 145.6,272.9 146.1,270.8 146.6,270.0 147.1,270.3 147.6,271.9 148.1,274.7 148.6,278.6 149.1,283.6 149.6,289.6 150.1,296.5 150.6,304.1 151.1,312.2 151.6,320.8 152.1,329.8 152.6,338.9 153.1,348.0 153.6,357.1 154.1,366.0 154.6,374.6 155.1,382.9 155.6,390.8 156.1,398.2 156.6,405.1 157.1,411.4 157.6,417.2 158.1,422.5 158.6,427.3 159.1,431.6 159.6,435.3 160.1,438.7 160.6,441.6 161.1,444.1 161.6,446.3 162.1,448.1 162.6,449.7 163.1,451.0 163.6,452.2 164.1,453.1 164.6,453.9 165.1,454.6 165.6,455.1 166.1,455.6 166.6,456.0 167.1,456.3 167.6,456.6 168.1,456.8 168.6,457.0 169.1,457.1 169.6,457.3 170.1,457.4 170.6,457.5 171.1,457.6 171.6,457.7 172.1,457.8 172.6,457.8 173.1,457.9 173.6,458.0 174.1,458.0 174.6,458.1 175.1,458.1 175.6,458.2 176.1,458.2 176.6,458.3 177.1,458.3 177.6,458.3 178.1,458.4 178.6,458.4 179.1,458.4 179.6,458.5 180.1,458.5 180.6,458.5 181.1,458.6 181.6,458.6 182.1,458.6 182.6,458.6 183.1,458.7 183.6,458.7 184.1,458.7 184.6,458.7 185.1,458.8 185.6,458.8 186.1,458.8 186.6,458.8 187.1,458.8 187.6,458.8 188.1,458.9 188.6,458.9 189.1,458.9 189.6,458.9 190.1,458.9 190.6,458.9 191.1,459.0 191.6,459.0 192.1,459.0 192.6,459.0 193.1,459.0 193.6,459.0 194.1,459.0" fill="none" stroke="#d8262a" stroke-width="2.1" stroke-linejoin="round"/>
<rect x="30.1" y="263.8" width="167.5" height="203.2" fill="none" stroke="#111" stroke-width="1.9"/>
<text x="44.0" y="486.4" font-family="Liberation Sans, sans-serif" font-size="14.6" text-anchor="middle" fill="#141414">295</text>
<text x="93.7" y="486.4" font-family="Liberation Sans, sans-serif" font-size="14.6" text-anchor="middle" fill="#141414">290</text>
<text x="143.4" y="486.4" font-family="Liberation Sans, sans-serif" font-size="14.6" text-anchor="middle" fill="#141414">285</text>
<text x="193.1" y="486.4" font-family="Liberation Sans, sans-serif" font-size="14.6" text-anchor="middle" fill="#141414">280</text>
<rect x="45.4" y="280.5" width="3.4" height="3.4" fill="#1616a6"/>
<text x="63.9" y="285.6" font-family="Liberation Sans, sans-serif" font-size="11.2" text-anchor="start" fill="#141414">C 1s</text>
<path d="M36.3,295.3H58.1" stroke="#dc2428" stroke-width="2"/>
<text x="63.9" y="298.9" font-family="Liberation Sans, sans-serif" font-size="11.2" text-anchor="start" fill="#141414">fit</text>
<rect x="43" y="309.9" width="9.3" height="5.9" fill="#f9bcd9" stroke="#e01c70" stroke-width="1.6"/>
<text x="63.9" y="316.5" font-family="Liberation Sans, sans-serif" font-size="11.2" text-anchor="start" fill="#141414">C sp<tspan font-size="8.5" dy="-7.6">2</tspan></text>
<rect x="43" y="322.9" width="9.3" height="5.9" fill="#b6dcb2" stroke="#1c7a1c" stroke-width="1.6"/>
<text x="63.9" y="329.5" font-family="Liberation Sans, sans-serif" font-size="11.2" text-anchor="start" fill="#141414">C-O</text>
<rect x="43" y="336" width="9.3" height="5.9" fill="#fde2cc" stroke="#f08a4c" stroke-width="1.6"/>
<text x="63.9" y="342.6" font-family="Liberation Sans, sans-serif" font-size="11.2" text-anchor="start" fill="#141414">O-C=O</text>
<rect x="43" y="349.2" width="9.3" height="5.9" fill="#dccbc4" stroke="#5c2616" stroke-width="1.6"/>
<text x="63.9" y="355.8" font-family="Liberation Sans, sans-serif" font-size="11.2" text-anchor="start" fill="#141414">Shake up</text>
<rect x="174.4" y="266.4" width="18.3" height="23.6" fill="#fff"/>
<text transform="translate(193.9,285.4) scale(0.8,1)" font-family="Liberation Sans, sans-serif" font-size="19.0" text-anchor="end" fill="#141414">(e)</text>
<path d="M380.9,263.8v11.0M380.9,467v-10.0M370.3,263.8v5.9M370.3,467v-5.5M359.8,263.8v5.9M359.8,467v-5.5M349.2,263.8v5.9M349.2,467v-5.5M338.6,263.8v11.0M338.6,467v-10.0M328.1,263.8v5.9M328.1,467v-5.5M317.5,263.8v5.9M317.5,467v-5.5M306.9,263.8v5.9M306.9,467v-5.5M296.4,263.8v11.0M296.4,467v-10.0M285.8,263.8v5.9M285.8,467v-5.5M275.2,263.8v5.9M275.2,467v-5.5M264.7,263.8v5.9M264.7,467v-5.5M254.1,263.8v11.0M254.1,467v-10.0M243.5,263.8v5.9M243.5,467v-5.5M233.0,263.8v5.9M233.0,467v-5.5M222.4,263.8v5.9M222.4,467v-5.5" stroke="#111" stroke-width="1.5" fill="none"/>
<path d="M220.3,460.9 220.8,460.9 221.3,460.9 221.8,460.9 222.3,460.9 222.8,460.9 223.3,460.9 223.8,460.8 224.3,460.8 224.8,460.8 225.3,460.8 225.8,460.8 226.3,460.7 226.8,460.7 227.3,460.7 227.8,460.7 228.3,460.7 228.8,460.6 229.3,460.6 229.8,460.6 230.3,460.6 230.8,460.5 231.3,460.5 231.8,460.5 232.3,460.5 232.8,460.4 233.3,460.4 233.8,460.4 234.3,460.3 234.8,460.3 235.3,460.3 235.8,460.3 236.3,460.2 236.8,460.2 237.3,460.2 237.8,460.1 238.3,460.1 238.8,460.0 239.3,460.0 239.8,460.0 240.3,459.9 240.8,459.9 241.3,459.9 241.8,459.8 242.3,459.8 242.8,459.7 243.3,459.7 243.8,459.7 244.3,459.6 244.8,459.6 245.3,459.5 245.8,459.5 246.3,459.4 246.8,459.4 247.3,459.3 247.8,459.3 248.3,459.3 248.8,459.2 249.3,459.2 249.8,459.1 250.3,459.1 250.8,459.0 251.3,459.0 251.8,458.9 252.3,458.9 252.8,458.8 253.3,458.8 253.8,458.7 254.3,458.7 254.8,458.6 255.3,458.6 255.8,458.5 256.3,458.5 256.8,458.4 257.3,458.4 257.8,458.3 258.3,458.3 258.8,458.2 259.3,458.2 259.8,458.1 260.3,458.1 260.8,458.0 261.3,458.0 261.8,457.9 262.3,457.9 262.8,457.8 263.3,457.8 263.8,457.7 264.3,457.7 264.8,457.7 265.3,457.6 265.8,457.6 266.3,457.5 266.8,457.5 267.3,457.4 267.8,457.4 268.3,457.4 268.8,457.3 269.3,457.3 269.8,457.3 270.3,457.2 270.8,457.2 271.3,457.2 271.8,457.1 272.3,457.1 272.8,457.1 273.3,457.0 273.8,457.0 274.3,457.0 274.8,457.0 275.3,456.9 275.8,456.9 276.3,456.9 276.8,456.9 277.3,456.9 277.8,456.9 278.3,456.8 278.8,456.8 279.3,456.8 279.8,456.8 280.3,456.8 280.8,456.8 281.3,456.8 281.8,456.8 282.3,456.8 282.8,456.8 283.3,456.8 283.8,456.8 284.3,456.8 284.8,456.8 285.3,456.8 285.8,456.8 286.3,456.9 286.8,456.9 287.3,456.9 287.8,456.9 288.3,456.9 288.8,456.9 289.3,457.0 289.8,457.0 290.3,457.0 290.8,457.0 291.3,457.1 291.8,457.1 292.3,457.1 292.8,457.1 293.3,457.2 293.8,457.2 294.3,457.2 294.8,457.3 295.3,457.3 295.8,457.4 296.3,457.4 296.8,457.4 297.3,457.5 297.8,457.5 298.3,457.6 298.8,457.6 299.3,457.6 299.8,457.7 300.3,457.7 300.8,457.8 301.3,457.8 301.8,457.9 302.3,457.9 302.8,458.0 303.3,458.0 303.8,458.1 304.3,458.1 304.8,458.2 305.3,458.2 305.8,458.3 306.3,458.3 306.8,458.4 307.3,458.4 307.8,458.5 308.3,458.5 308.8,458.6 309.3,458.6 309.8,458.7 310.3,458.7 310.8,458.8 311.3,458.8 311.8,458.9 312.3,458.9 312.8,458.9 313.3,459.0 313.8,459.0 314.3,459.1 314.8,459.1 315.3,459.2 315.8,459.2 316.3,459.3 316.8,459.3 317.3,459.4 317.8,459.4 318.3,459.5 318.8,459.5 319.3,459.6 319.8,459.6 320.3,459.6 320.8,459.7 321.3,459.7 321.8,459.8 322.3,459.8 322.8,459.8 323.3,459.9 323.8,459.9 324.3,460.0 324.8,460.0 325.3,460.0 325.8,460.1 326.3,460.1 326.8,460.1 327.3,460.2 327.8,460.2 327.8,461.3 220.3,461.3Z" fill="#dccbc4"/>
<path d="M220.3,460.9 220.8,460.9 221.3,460.9 221.8,460.9 222.3,460.9 222.8,460.9 223.3,460.9 223.8,460.8 224.3,460.8 224.8,460.8 225.3,460.8 225.8,460.8 226.3,460.7 226.8,460.7 227.3,460.7 227.8,460.7 228.3,460.7 228.8,460.6 229.3,460.6 229.8,460.6 230.3,460.6 230.8,460.5 231.3,460.5 231.8,460.5 232.3,460.5 232.8,460.4 233.3,460.4 233.8,460.4 234.3,460.3 234.8,460.3 235.3,460.3 235.8,460.3 236.3,460.2 236.8,460.2 237.3,460.2 237.8,460.1 238.3,460.1 238.8,460.0 239.3,460.0 239.8,460.0 240.3,459.9 240.8,459.9 241.3,459.9 241.8,459.8 242.3,459.8 242.8,459.7 243.3,459.7 243.8,459.7 244.3,459.6 244.8,459.6 245.3,459.5 245.8,459.5 246.3,459.4 246.8,459.4 247.3,459.3 247.8,459.3 248.3,459.3 248.8,459.2 249.3,459.2 249.8,459.1 250.3,459.1 250.8,459.0 251.3,459.0 251.8,458.9 252.3,458.9 252.8,458.8 253.3,458.8 253.8,458.7 254.3,458.7 254.8,458.6 255.3,458.6 255.8,458.5 256.3,458.5 256.8,458.4 257.3,458.4 257.8,458.3 258.3,458.3 258.8,458.2 259.3,458.2 259.8,458.1 260.3,458.1 260.8,458.0 261.3,458.0 261.8,457.9 262.3,457.9 262.8,457.8 263.3,457.8 263.8,457.7 264.3,457.7 264.8,457.7 265.3,457.6 265.8,457.6 266.3,457.5 266.8,457.5 267.3,457.4 267.8,457.4 268.3,457.4 268.8,457.3 269.3,457.3 269.8,457.3 270.3,457.2 270.8,457.2 271.3,457.2 271.8,457.1 272.3,457.1 272.8,457.1 273.3,457.0 273.8,457.0 274.3,457.0 274.8,457.0 275.3,456.9 275.8,456.9 276.3,456.9 276.8,456.9 277.3,456.9 277.8,456.9 278.3,456.8 278.8,456.8 279.3,456.8 279.8,456.8 280.3,456.8 280.8,456.8 281.3,456.8 281.8,456.8 282.3,456.8 282.8,456.8 283.3,456.8 283.8,456.8 284.3,456.8 284.8,456.8 285.3,456.8 285.8,456.8 286.3,456.9 286.8,456.9 287.3,456.9 287.8,456.9 288.3,456.9 288.8,456.9 289.3,457.0 289.8,457.0 290.3,457.0 290.8,457.0 291.3,457.1 291.8,457.1 292.3,457.1 292.8,457.1 293.3,457.2 293.8,457.2 294.3,457.2 294.8,457.3 295.3,457.3 295.8,457.4 296.3,457.4 296.8,457.4 297.3,457.5 297.8,457.5 298.3,457.6 298.8,457.6 299.3,457.6 299.8,457.7 300.3,457.7 300.8,457.8 301.3,457.8 301.8,457.9 302.3,457.9 302.8,458.0 303.3,458.0 303.8,458.1 304.3,458.1 304.8,458.2 305.3,458.2 305.8,458.3 306.3,458.3 306.8,458.4 307.3,458.4 307.8,458.5 308.3,458.5 308.8,458.6 309.3,458.6 309.8,458.7 310.3,458.7 310.8,458.8 311.3,458.8 311.8,458.9 312.3,458.9 312.8,458.9 313.3,459.0 313.8,459.0 314.3,459.1 314.8,459.1 315.3,459.2 315.8,459.2 316.3,459.3 316.8,459.3 317.3,459.4 317.8,459.4 318.3,459.5 318.8,459.5 319.3,459.6 319.8,459.6 320.3,459.6 320.8,459.7 321.3,459.7 321.8,459.8 322.3,459.8 322.8,459.8 323.3,459.9 323.8,459.9 324.3,460.0 324.8,460.0 325.3,460.0 325.8,460.1 326.3,460.1 326.8,460.1 327.3,460.2 327.8,460.2" fill="none" stroke="#5c2616" stroke-width="1.6" stroke-linejoin="round"/>
<path d="M280.5,460.9 281.0,460.9 281.5,460.8 282.0,460.8 282.5,460.7 283.0,460.7 283.5,460.6 284.0,460.5 284.5,460.5 285.0,460.4 285.5,460.3 286.0,460.2 286.5,460.1 287.0,459.9 287.5,459.8 288.0,459.7 288.5,459.5 289.0,459.4 289.5,459.2 290.0,459.0 290.5,458.8 291.0,458.6 291.5,458.4 292.0,458.2 292.5,458.0 293.0,457.7 293.5,457.5 294.0,457.2 294.5,457.0 295.0,456.7 295.5,456.4 296.0,456.1 296.5,455.9 297.0,455.6 297.5,455.3 298.0,455.0 298.5,454.7 299.0,454.4 299.5,454.1 300.0,453.8 300.5,453.6 301.0,453.3 301.5,453.1 302.0,452.8 302.5,452.6 303.0,452.4 303.5,452.2 304.0,452.0 304.5,451.8 305.0,451.7 305.5,451.6 306.0,451.5 306.5,451.4 307.0,451.3 307.5,451.3 308.0,451.3 308.5,451.3 309.0,451.4 309.5,451.4 310.0,451.5 310.5,451.6 311.0,451.8 311.5,451.9 312.0,452.1 312.5,452.3 313.0,452.5 313.5,452.7 314.0,452.9 314.5,453.2 315.0,453.4 315.5,453.7 316.0,454.0 316.5,454.3 317.0,454.6 317.5,454.8 318.0,455.1 318.5,455.4 319.0,455.7 319.5,456.0 320.0,456.3 320.5,456.6 321.0,456.8 321.5,457.1 322.0,457.4 322.5,457.6 323.0,457.9 323.5,458.1 324.0,458.3 324.5,458.5 325.0,458.7 325.5,458.9 326.0,459.1 326.5,459.3 327.0,459.4 327.5,459.6 328.0,459.7 328.5,459.9 329.0,460.0 329.5,460.1 330.0,460.2 330.5,460.3 331.0,460.4 331.5,460.5 332.0,460.6 332.5,460.7 333.0,460.7 333.0,461.3 280.5,461.3Z" fill="#fde2cc"/>
<path d="M280.5,460.9 281.0,460.9 281.5,460.8 282.0,460.8 282.5,460.7 283.0,460.7 283.5,460.6 284.0,460.5 284.5,460.5 285.0,460.4 285.5,460.3 286.0,460.2 286.5,460.1 287.0,459.9 287.5,459.8 288.0,459.7 288.5,459.5 289.0,459.4 289.5,459.2 290.0,459.0 290.5,458.8 291.0,458.6 291.5,458.4 292.0,458.2 292.5,458.0 293.0,457.7 293.5,457.5 294.0,457.2 294.5,457.0 295.0,456.7 295.5,456.4 296.0,456.1 296.5,455.9 297.0,455.6 297.5,455.3 298.0,455.0 298.5,454.7 299.0,454.4 299.5,454.1 300.0,453.8 300.5,453.6 301.0,453.3 301.5,453.1 302.0,452.8 302.5,452.6 303.0,452.4 303.5,452.2 304.0,452.0 304.5,451.8 305.0,451.7 305.5,451.6 306.0,451.5 306.5,451.4 307.0,451.3 307.5,451.3 308.0,451.3 308.5,451.3 309.0,451.4 309.5,451.4 310.0,451.5 310.5,451.6 311.0,451.8 311.5,451.9 312.0,452.1 312.5,452.3 313.0,452.5 313.5,452.7 314.0,452.9 314.5,453.2 315.0,453.4 315.5,453.7 316.0,454.0 316.5,454.3 317.0,454.6 317.5,454.8 318.0,455.1 318.5,455.4 319.0,455.7 319.5,456.0 320.0,456.3 320.5,456.6 321.0,456.8 321.5,457.1 322.0,457.4 322.5,457.6 323.0,457.9 323.5,458.1 324.0,458.3 324.5,458.5 325.0,458.7 325.5,458.9 326.0,459.1 326.5,459.3 327.0,459.4 327.5,459.6 328.0,459.7 328.5,459.9 329.0,460.0 329.5,460.1 330.0,460.2 330.5,460.3 331.0,460.4 331.5,460.5 332.0,460.6 332.5,460.7 333.0,460.7" fill="none" stroke="#f08a4c" stroke-width="1.6" stroke-linejoin="round"/>
<path d="M306.9,458.0 307.4,457.7 307.9,457.5 308.4,457.2 308.9,456.9 309.4,456.5 309.9,456.1 310.4,455.6 310.9,455.0 311.4,454.3 311.9,453.5 312.4,452.6 312.9,451.6 313.4,450.4 313.9,449.1 314.4,447.5 314.9,445.8 315.4,443.8 315.9,441.6 316.4,439.1 316.9,436.3 317.4,433.3 317.9,429.8 318.4,426.1 318.9,422.0 319.4,417.6 319.9,412.7 320.4,407.5 320.9,402.0 321.4,396.1 321.9,389.9 322.4,383.3 322.9,376.5 323.4,369.4 323.9,362.1 324.4,354.7 324.9,347.1 325.4,339.6 325.9,332.0 326.4,324.6 326.9,317.3 327.4,310.4 327.9,303.7 328.4,297.6 328.9,291.9 329.4,286.9 329.9,282.5 330.4,279.0 330.9,276.2 331.4,274.4 331.9,273.4 332.4,273.4 332.9,274.6 333.4,277.0 333.9,280.6 334.4,285.1 334.9,290.6 335.4,296.9 335.9,303.8 336.4,311.3 336.9,319.2 337.4,327.3 337.9,335.7 338.4,344.0 338.9,352.4 339.4,360.6 339.9,368.6 340.4,376.3 340.9,383.7 341.4,390.7 341.9,397.4 342.4,403.6 342.9,409.3 343.4,414.7 343.9,419.6 344.4,424.0 344.9,428.1 345.4,431.7 345.9,435.0 346.4,437.9 346.9,440.5 347.4,442.7 347.9,444.7 348.4,446.5 348.9,448.0 349.4,449.3 349.9,450.5 350.4,451.5 350.9,452.3 351.4,453.1 351.9,453.7 352.4,454.3 352.9,454.8 353.4,455.2 353.9,455.6 354.4,455.9 354.9,456.2 355.4,456.5 355.9,456.7 356.4,456.9 356.9,457.1 357.4,457.3 357.9,457.4 358.4,457.6 358.9,457.7 359.4,457.8 359.9,458.0 360.4,458.1 360.9,458.2 361.4,458.3 361.9,458.4 362.4,458.5 362.9,458.5 363.4,458.6 363.9,458.7 364.4,458.8 364.9,458.9 365.4,458.9 365.9,459.0 366.4,459.1 366.9,459.1 367.4,459.2 367.9,459.2 368.4,459.3 368.9,459.3 369.4,459.4 369.9,459.4 369.9,461.3 306.9,461.3Z" fill="#f9bcd9"/>
<path d="M306.9,458.0 307.4,457.7 307.9,457.5 308.4,457.2 308.9,456.9 309.4,456.5 309.9,456.1 310.4,455.6 310.9,455.0 311.4,454.3 311.9,453.5 312.4,452.6 312.9,451.6 313.4,450.4 313.9,449.1 314.4,447.5 314.9,445.8 315.4,443.8 315.9,441.6 316.4,439.1 316.9,436.3 317.4,433.3 317.9,429.8 318.4,426.1 318.9,422.0 319.4,417.6 319.9,412.7 320.4,407.5 320.9,402.0 321.4,396.1 321.9,389.9 322.4,383.3 322.9,376.5 323.4,369.4 323.9,362.1 324.4,354.7 324.9,347.1 325.4,339.6 325.9,332.0 326.4,324.6 326.9,317.3 327.4,310.4 327.9,303.7 328.4,297.6 328.9,291.9 329.4,286.9 329.9,282.5 330.4,279.0 330.9,276.2 331.4,274.4 331.9,273.4 332.4,273.4 332.9,274.6 333.4,277.0 333.9,280.6 334.4,285.1 334.9,290.6 335.4,296.9 335.9,303.8 336.4,311.3 336.9,319.2 337.4,327.3 337.9,335.7 338.4,344.0 338.9,352.4 339.4,360.6 339.9,368.6 340.4,376.3 340.9,383.7 341.4,390.7 341.9,397.4 342.4,403.6 342.9,409.3 343.4,414.7 343.9,419.6 344.4,424.0 344.9,428.1 345.4,431.7 345.9,435.0 346.4,437.9 346.9,440.5 347.4,442.7 347.9,444.7 348.4,446.5 348.9,448.0 349.4,449.3 349.9,450.5 350.4,451.5 350.9,452.3 351.4,453.1 351.9,453.7 352.4,454.3 352.9,454.8 353.4,455.2 353.9,455.6 354.4,455.9 354.9,456.2 355.4,456.5 355.9,456.7 356.4,456.9 356.9,457.1 357.4,457.3 357.9,457.4 358.4,457.6 358.9,457.7 359.4,457.8 359.9,458.0 360.4,458.1 360.9,458.2 361.4,458.3 361.9,458.4 362.4,458.5 362.9,458.5 363.4,458.6 363.9,458.7 364.4,458.8 364.9,458.9 365.4,458.9 365.9,459.0 366.4,459.1 366.9,459.1 367.4,459.2 367.9,459.2 368.4,459.3 368.9,459.3 369.4,459.4 369.9,459.4" fill="none" stroke="#e01c70" stroke-width="1.6" stroke-linejoin="round"/>
<path d="M298.5,461.3 299.0,461.3 299.5,461.3 300.0,461.3 300.5,461.2 301.0,461.2 301.5,461.2 302.0,461.2 302.5,461.2 303.0,461.2 303.5,461.2 304.0,461.1 304.5,461.1 305.0,461.1 305.5,461.0 306.0,460.9 306.5,460.9 307.0,460.8 307.5,460.7 308.0,460.5 308.5,460.4 309.0,460.2 309.5,460.0 310.0,459.8 310.5,459.6 311.0,459.3 311.5,459.0 312.0,458.7 312.5,458.3 313.0,457.9 313.5,457.5 314.0,457.1 314.5,456.7 315.0,456.3 315.5,455.8 316.0,455.4 316.5,455.0 317.0,454.6 317.5,454.3 318.0,454.0 318.5,453.7 319.0,453.5 319.5,453.4 320.0,453.3 320.5,453.3 321.0,453.4 321.5,453.5 322.0,453.6 322.5,453.9 323.0,454.1 323.5,454.5 324.0,454.8 324.5,455.2 325.0,455.6 325.5,456.0 326.0,456.5 326.5,456.9 327.0,457.3 327.5,457.7 328.0,458.1 328.5,458.5 329.0,458.8 329.5,459.1 330.0,459.4 330.5,459.7 331.0,459.9 331.5,460.1 332.0,460.3 332.5,460.5 333.0,460.6 333.5,460.7 334.0,460.8 334.5,460.9 335.0,461.0 335.5,461.0 336.0,461.1 336.5,461.1 337.0,461.2 337.5,461.2 338.0,461.2 338.5,461.2 339.0,461.2 339.5,461.2 340.0,461.2 340.5,461.2 341.0,461.3 341.5,461.3 342.0,461.3 342.5,461.3 343.0,461.3 343.5,461.3 343.5,461.3 298.5,461.3Z" fill="#b6f2f2"/>
<path d="M298.5,461.3 299.0,461.3 299.5,461.3 300.0,461.3 300.5,461.2 301.0,461.2 301.5,461.2 302.0,461.2 302.5,461.2 303.0,461.2 303.5,461.2 304.0,461.1 304.5,461.1 305.0,461.1 305.5,461.0 306.0,460.9 306.5,460.9 307.0,460.8 307.5,460.7 308.0,460.5 308.5,460.4 309.0,460.2 309.5,460.0 310.0,459.8 310.5,459.6 311.0,459.3 311.5,459.0 312.0,458.7 312.5,458.3 313.0,457.9 313.5,457.5 314.0,457.1 314.5,456.7 315.0,456.3 315.5,455.8 316.0,455.4 316.5,455.0 317.0,454.6 317.5,454.3 318.0,454.0 318.5,453.7 319.0,453.5 319.5,453.4 320.0,453.3 320.5,453.3 321.0,453.4 321.5,453.5 322.0,453.6 322.5,453.9 323.0,454.1 323.5,454.5 324.0,454.8 324.5,455.2 325.0,455.6 325.5,456.0 326.0,456.5 326.5,456.9 327.0,457.3 327.5,457.7 328.0,458.1 328.5,458.5 329.0,458.8 329.5,459.1 330.0,459.4 330.5,459.7 331.0,459.9 331.5,460.1 332.0,460.3 332.5,460.5 333.0,460.6 333.5,460.7 334.0,460.8 334.5,460.9 335.0,461.0 335.5,461.0 336.0,461.1 336.5,461.1 337.0,461.2 337.5,461.2 338.0,461.2 338.5,461.2 339.0,461.2 339.5,461.2 340.0,461.2 340.5,461.2 341.0,461.3 341.5,461.3 342.0,461.3 342.5,461.3 343.0,461.3 343.5,461.3" fill="none" stroke="#2ac8cc" stroke-width="1.6" stroke-linejoin="round"/>
<path d="M221.2,455.3h3.0v3.0h-3.0zM225.7,456.2h3.0v3.0h-3.0zM230.2,456.6h3.0v3.0h-3.0zM234.7,456.2h3.0v3.0h-3.0zM239.2,456.3h3.0v3.0h-3.0zM243.7,460.6h3.0v3.0h-3.0zM248.2,452.6h3.0v3.0h-3.0zM252.7,454.7h3.0v3.0h-3.0zM257.2,455.2h3.0v3.0h-3.0zM261.7,451.8h3.0v3.0h-3.0zM266.2,455.1h3.0v3.0h-3.0zM270.7,452.9h3.0v3.0h-3.0zM275.2,454.0h3.0v3.0h-3.0zM279.7,450.1h3.0v3.0h-3.0zM284.2,449.4h3.0v3.0h-3.0zM288.7,443.2h3.0v3.0h-3.0zM293.2,442.3h3.0v3.0h-3.0zM297.7,436.9h3.0v3.0h-3.0zM299.5,438.1h3.0v3.0h-3.0zM300.7,437.2h3.0v3.0h-3.0zM301.9,434.1h3.0v3.0h-3.0zM303.1,436.5h3.0v3.0h-3.0zM304.3,434.1h3.0v3.0h-3.0zM305.5,435.7h3.0v3.0h-3.0zM306.7,436.2h3.0v3.0h-3.0zM307.9,432.2h3.0v3.0h-3.0zM309.1,434.9h3.0v3.0h-3.0zM310.3,430.9h3.0v3.0h-3.0zM311.5,432.2h3.0v3.0h-3.0zM312.7,425.0h3.0v3.0h-3.0zM313.9,422.4h3.0v3.0h-3.0zM315.1,419.1h3.0v3.0h-3.0zM316.3,412.0h3.0v3.0h-3.0zM317.5,401.7h3.0v3.0h-3.0zM318.7,390.5h3.0v3.0h-3.0zM319.9,376.2h3.0v3.0h-3.0zM321.1,364.3h3.0v3.0h-3.0zM322.3,345.5h3.0v3.0h-3.0zM323.5,335.1h3.0v3.0h-3.0zM324.7,317.2h3.0v3.0h-3.0zM325.9,302.9h3.0v3.0h-3.0zM327.1,287.1h3.0v3.0h-3.0zM328.3,278.6h3.0v3.0h-3.0zM329.5,271.1h3.0v3.0h-3.0zM330.7,266.5h3.0v3.0h-3.0zM331.9,273.7h3.0v3.0h-3.0zM333.1,284.0h3.0v3.0h-3.0zM334.3,297.5h3.0v3.0h-3.0zM335.5,315.9h3.0v3.0h-3.0zM336.7,338.5h3.0v3.0h-3.0zM337.9,355.6h3.0v3.0h-3.0zM339.1,375.1h3.0v3.0h-3.0zM340.3,391.5h3.0v3.0h-3.0zM341.5,407.7h3.0v3.0h-3.0zM342.7,418.5h3.0v3.0h-3.0zM343.9,433.6h3.0v3.0h-3.0zM345.1,438.4h3.0v3.0h-3.0zM346.3,442.4h3.0v3.0h-3.0zM347.5,444.6h3.0v3.0h-3.0zM350.5,450.5h3.0v3.0h-3.0zM354,452.4h3.0v3.0h-3.0zM357.5,456.6h3.0v3.0h-3.0zM361,456.8h3.0v3.0h-3.0zM364.5,457.1h3.0v3.0h-3.0zM368,459.0h3.0v3.0h-3.0zM371.5,457.9h3.0v3.0h-3.0z" fill="#1616a6"/>
<path d="M221.5,458.3 222,458.3 222.5,458.3 223,458.3 223.5,458.3 224,458.2 224.5,458.2 225,458.2 225.5,458.2 226,458.2 226.5,458.1 227,458.1 227.5,458.1 228,458.1 228.5,458.0 229,458.0 229.5,458.0 230,458.0 230.5,457.9 231,457.9 231.5,457.9 232,457.9 232.5,457.8 233,457.8 233.5,457.8 234,457.7 234.5,457.7 235,457.7 235.5,457.6 236,457.6 236.5,457.6 237,457.5 237.5,457.5 238,457.5 238.5,457.4 239,457.4 239.5,457.3 240,457.3 240.5,457.3 241,457.2 241.5,457.2 242,457.1 242.5,457.1 243,457.0 243.5,457.0 244,456.9 244.5,456.9 245,456.9 245.5,456.8 246,456.8 246.5,456.7 247,456.7 247.5,456.6 248,456.6 248.5,456.5 249,456.5 249.5,456.4 250,456.4 250.5,456.3 251,456.2 251.5,456.2 252,456.1 252.5,456.1 253,456.0 253.5,456.0 254,455.9 254.5,455.9 255,455.8 255.5,455.7 256,455.7 256.5,455.6 257,455.6 257.5,455.5 258,455.4 258.5,455.4 259,455.3 259.5,455.2 260,455.2 260.5,455.1 261,455.1 261.5,455.0 262,454.9 262.5,454.9 263,454.8 263.5,454.7 264,454.7 264.5,454.6 265,454.5 265.5,454.4 266,454.4 266.5,454.3 267,454.2 267.5,454.1 268,454.1 268.5,454.0 269,453.9 269.5,453.8 270,453.7 270.5,453.6 271,453.6 271.5,453.5 272,453.4 272.5,453.3 273,453.2 273.5,453.1 274,453.0 274.5,452.9 275,452.7 275.5,452.6 276,452.5 276.5,452.4 277,452.3 277.5,452.1 278,452.0 278.5,451.8 279,451.7 279.5,451.5 280,451.4 280.5,451.2 281,451.0 281.5,450.9 282,450.7 282.5,450.5 283,450.3 283.5,450.1 284,449.9 284.5,449.6 285,449.4 285.5,449.2 286,448.9 286.5,448.7 287,448.4 287.5,448.1 288,447.8 288.5,447.5 289,447.2 289.5,446.9 290,446.6 290.5,446.3 291,445.9 291.5,445.6 292,445.3 292.5,444.9 293,444.5 293.5,444.2 294,443.8 294.5,443.4 295,443.1 295.5,442.7 296,442.3 296.5,441.9 297,441.6 297.5,441.2 298,440.8 298.5,440.5 299,440.2 299.5,439.8 300,439.5 300.5,439.2 301,438.9 301.5,438.6 302,438.3 302.5,438.1 303,437.8 303.5,437.6 304,437.4 304.5,437.2 305,437.0 305.5,436.8 306,436.6 306.5,436.4 307,436.3 307.5,436.1 308,435.8 308.5,435.6 309,435.3 309.5,435.0 310,434.6 310.5,434.1 311,433.6 311.5,433.0 312,432.2 312.5,431.4 313,430.4 313.5,429.2 314,427.9 314.5,426.4 315,424.7 315.5,422.7 316,420.6 316.5,418.1 317,415.5 317.5,412.5 318,409.3 318.5,405.8 319,401.9 319.5,397.8 320,393.4 320.5,388.6 321,383.5 321.5,378.2 322,372.6 322.5,366.6 323,360.5 323.5,354.1 324,347.6 324.5,340.9 325,334.2 325.5,327.4 326,320.6 326.5,314.0 327,307.5 327.5,301.3 328,295.4 328.5,289.9 329,284.9 329.5,280.5 330,276.8 330.5,273.8 331,271.6 331.5,270.2 332,269.8 332.5,270.2 333,271.9 333.5,274.7 334,278.6 334.5,283.5 335,289.2 335.5,295.8 336,302.9 336.5,310.6 337,318.6 337.5,326.9 338,335.4 338.5,343.8 339,352.2 339.5,360.5 340,368.5 340.5,376.3 341,383.7 341.5,390.7 342,397.3 342.5,403.6 343,409.3 343.5,414.6 344,419.5 344.5,424.0 345,428.0 345.5,431.6 346,434.9 346.5,437.7 347,440.3 347.5,442.6 348,444.6 348.5,446.3 349,447.8 349.5,449.1 350,450.3 350.5,451.3 351,452.1 351.5,452.9 352,453.5 352.5,454.1 353,454.6 353.5,455.0 354,455.4 354.5,455.7 355,456.0 355.5,456.3 356,456.5 356.5,456.7 357,456.9 357.5,457.1 358,457.3 358.5,457.4 359,457.6 359.5,457.7 360,457.8 360.5,457.9 361,458.1 361.5,458.2 362,458.3 362.5,458.4 363,458.4 363.5,458.5 364,458.6 364.5,458.7 365,458.8 365.5,458.8 366,458.9 366.5,459.0 367,459.0 367.5,459.1 368,459.2 368.5,459.2 369,459.3 369.5,459.3 370,459.4 370.5,459.4 371,459.5 371.5,459.5" fill="none" stroke="#d8262a" stroke-width="2.1" stroke-linejoin="round"/>
<rect x="218.8" y="263.8" width="165.5" height="203.2" fill="none" stroke="#111" stroke-width="1.9"/>
<text x="254.1" y="486.4" font-family="Liberation Sans, sans-serif" font-size="14.6" text-anchor="middle" fill="#141414">292</text>
<text x="296.4" y="486.4" font-family="Liberation Sans, sans-serif" font-size="14.6" text-anchor="middle" fill="#141414">288</text>
<text x="338.6" y="486.4" font-family="Liberation Sans, sans-serif" font-size="14.6" text-anchor="middle" fill="#141414">284</text>
<text x="380.9" y="486.4" font-family="Liberation Sans, sans-serif" font-size="14.6" text-anchor="middle" fill="#141414">280</text>
<rect x="235.1" y="282.9" width="3.4" height="3.4" fill="#1616a6"/>
<text x="253.6" y="288" font-family="Liberation Sans, sans-serif" font-size="11.2" text-anchor="start" fill="#141414">C 1s</text>
<path d="M226,297.8H247.8" stroke="#dc2428" stroke-width="2"/>
<text x="253.6" y="301.4" font-family="Liberation Sans, sans-serif" font-size="11.2" text-anchor="start" fill="#141414">fit</text>
<rect x="232.7" y="312.9" width="9.3" height="5.9" fill="#f9bcd9" stroke="#e01c70" stroke-width="1.6"/>
<text x="253.6" y="319.5" font-family="Liberation Sans, sans-serif" font-size="11.2" text-anchor="start" fill="#141414">Csp<tspan font-size="8.5" dy="-7.6">2</tspan></text>
<rect x="232.7" y="330.2" width="9.3" height="5.9" fill="#b6f2f2" stroke="#2ac8cc" stroke-width="1.6"/>
<text x="253.6" y="336.8" font-family="Liberation Sans, sans-serif" font-size="11.2" text-anchor="start" fill="#141414">Def Csp<tspan font-size="8.5" dy="-7.6">2</tspan></text>
<rect x="232.7" y="343.4" width="9.3" height="5.9" fill="#fde2cc" stroke="#f08a4c" stroke-width="1.6"/>
<text x="253.6" y="350" font-family="Liberation Sans, sans-serif" font-size="11.2" text-anchor="start" fill="#141414">O-C=O</text>
<rect x="232.7" y="356.6" width="9.3" height="5.9" fill="#dccbc4" stroke="#5c2616" stroke-width="1.6"/>
<text x="253.6" y="363.2" font-family="Liberation Sans, sans-serif" font-size="11.2" text-anchor="start" fill="#141414">Shake up</text>
<rect x="365.5" y="266.4" width="14.0" height="23.2" fill="#fff"/>
<text transform="translate(380.7,285.0) scale(0.8,1)" font-family="Liberation Sans, sans-serif" font-size="19.0" text-anchor="end" fill="#141414">(f)</text>
<path d="M558.7,263.8v11.0M558.7,467v-10.0M548.8,263.8v5.9M548.8,467v-5.5M539.0,263.8v5.9M539.0,467v-5.5M529.1,263.8v5.9M529.1,467v-5.5M519.3,263.8v5.9M519.3,467v-5.5M509.4,263.8v11.0M509.4,467v-10.0M499.6,263.8v5.9M499.6,467v-5.5M489.7,263.8v5.9M489.7,467v-5.5M479.9,263.8v5.9M479.9,467v-5.5M470.1,263.8v5.9M470.1,467v-5.5M460.2,263.8v11.0M460.2,467v-10.0M450.4,263.8v5.9M450.4,467v-5.5M440.5,263.8v5.9M440.5,467v-5.5M430.7,263.8v5.9M430.7,467v-5.5M420.8,263.8v5.9M420.8,467v-5.5M411.0,263.8v11.0M411.0,467v-10.0M401.1,263.8v5.9M401.1,467v-5.5" stroke="#111" stroke-width="1.5" fill="none"/>
<path d="M415.9,458.6 416.4,458.6 416.9,458.6 417.4,458.5 417.9,458.5 418.4,458.4 418.9,458.4 419.4,458.3 419.9,458.3 420.4,458.2 420.9,458.2 421.4,458.1 421.9,458.1 422.4,458.0 422.9,458.0 423.4,457.9 423.9,457.8 424.4,457.7 424.9,457.7 425.4,457.6 425.9,457.5 426.4,457.4 426.9,457.3 427.4,457.2 427.9,457.1 428.4,457.0 428.9,456.9 429.4,456.8 429.9,456.7 430.4,456.6 430.9,456.4 431.4,456.3 431.9,456.2 432.4,456.1 432.9,455.9 433.4,455.8 433.9,455.6 434.4,455.5 434.9,455.3 435.4,455.1 435.9,455.0 436.4,454.8 436.9,454.6 437.4,454.4 437.9,454.3 438.4,454.1 438.9,453.9 439.4,453.7 439.9,453.5 440.4,453.3 440.9,453.1 441.4,452.9 441.9,452.7 442.4,452.5 442.9,452.3 443.4,452.0 443.9,451.8 444.4,451.6 444.9,451.4 445.4,451.2 445.9,451.0 446.4,450.8 446.9,450.5 447.4,450.3 447.9,450.1 448.4,449.9 448.9,449.7 449.4,449.5 449.9,449.3 450.4,449.1 450.9,448.9 451.4,448.8 451.9,448.6 452.4,448.4 452.9,448.2 453.4,448.1 453.9,447.9 454.4,447.8 454.9,447.7 455.4,447.6 455.9,447.5 456.4,447.4 456.9,447.3 457.4,447.2 457.9,447.1 458.4,447.1 458.9,447.0 459.4,447.0 459.9,447.0 460.4,447.0 460.9,447.0 461.4,447.0 461.9,447.1 462.4,447.1 462.9,447.2 463.4,447.3 463.9,447.3 464.4,447.4 464.9,447.5 465.4,447.7 465.9,447.8 466.4,447.9 466.9,448.1 467.4,448.2 467.9,448.4 468.4,448.5 468.9,448.7 469.4,448.9 469.9,449.1 470.4,449.3 470.9,449.5 471.4,449.7 471.9,449.9 472.4,450.1 472.9,450.3 473.4,450.5 473.9,450.7 474.4,450.9 474.9,451.1 475.4,451.4 475.9,451.6 476.4,451.8 476.9,452.0 477.4,452.2 477.9,452.4 478.4,452.6 478.9,452.8 479.4,453.0 479.9,453.3 480.4,453.5 480.9,453.6 481.4,453.8 481.9,454.0 482.4,454.2 482.9,454.4 483.4,454.6 483.9,454.8 484.4,454.9 484.9,455.1 485.4,455.3 485.9,455.4 486.4,455.6 486.9,455.7 487.4,455.9 487.9,456.0 488.4,456.2 488.9,456.3 489.4,456.4 489.9,456.5 490.4,456.7 490.9,456.8 491.4,456.9 491.4,459.5 415.9,459.5Z" fill="#dccbc4"/>
<path d="M415.9,458.6 416.4,458.6 416.9,458.6 417.4,458.5 417.9,458.5 418.4,458.4 418.9,458.4 419.4,458.3 419.9,458.3 420.4,458.2 420.9,458.2 421.4,458.1 421.9,458.1 422.4,458.0 422.9,458.0 423.4,457.9 423.9,457.8 424.4,457.7 424.9,457.7 425.4,457.6 425.9,457.5 426.4,457.4 426.9,457.3 427.4,457.2 427.9,457.1 428.4,457.0 428.9,456.9 429.4,456.8 429.9,456.7 430.4,456.6 430.9,456.4 431.4,456.3 431.9,456.2 432.4,456.1 432.9,455.9 433.4,455.8 433.9,455.6 434.4,455.5 434.9,455.3 435.4,455.1 435.9,455.0 436.4,454.8 436.9,454.6 437.4,454.4 437.9,454.3 438.4,454.1 438.9,453.9 439.4,453.7 439.9,453.5 440.4,453.3 440.9,453.1 441.4,452.9 441.9,452.7 442.4,452.5 442.9,452.3 443.4,452.0 443.9,451.8 444.4,451.6 444.9,451.4 445.4,451.2 445.9,451.0 446.4,450.8 446.9,450.5 447.4,450.3 447.9,450.1 448.4,449.9 448.9,449.7 449.4,449.5 449.9,449.3 450.4,449.1 450.9,448.9 451.4,448.8 451.9,448.6 452.4,448.4 452.9,448.2 453.4,448.1 453.9,447.9 454.4,447.8 454.9,447.7 455.4,447.6 455.9,447.5 456.4,447.4 456.9,447.3 457.4,447.2 457.9,447.1 458.4,447.1 458.9,447.0 459.4,447.0 459.9,447.0 460.4,447.0 460.9,447.0 461.4,447.0 461.9,447.1 462.4,447.1 462.9,447.2 463.4,447.3 463.9,447.3 464.4,447.4 464.9,447.5 465.4,447.7 465.9,447.8 466.4,447.9 466.9,448.1 467.4,448.2 467.9,448.4 468.4,448.5 468.9,448.7 469.4,448.9 469.9,449.1 470.4,449.3 470.9,449.5 471.4,449.7 471.9,449.9 472.4,450.1 472.9,450.3 473.4,450.5 473.9,450.7 474.4,450.9 474.9,451.1 475.4,451.4 475.9,451.6 476.4,451.8 476.9,452.0 477.4,452.2 477.9,452.4 478.4,452.6 478.9,452.8 479.4,453.0 479.9,453.3 480.4,453.5 480.9,453.6 481.4,453.8 481.9,454.0 482.4,454.2 482.9,454.4 483.4,454.6 483.9,454.8 484.4,454.9 484.9,455.1 485.4,455.3 485.9,455.4 486.4,455.6 486.9,455.7 487.4,455.9 487.9,456.0 488.4,456.2 488.9,456.3 489.4,456.4 489.9,456.5 490.4,456.7 490.9,456.8 491.4,456.9" fill="none" stroke="#5c2616" stroke-width="1.6" stroke-linejoin="round"/>
<path d="M474.0,457.5 474.5,457.1 475.0,456.6 475.5,456.0 476.0,455.3 476.5,454.6 477.0,453.7 477.5,452.7 478.0,451.5 478.5,450.2 479.0,448.7 479.5,447.1 480.0,445.2 480.5,443.1 481.0,440.9 481.5,438.3 482.0,435.6 482.5,432.5 483.0,429.3 483.5,425.8 484.0,422.0 484.5,417.9 485.0,413.7 485.5,409.2 486.0,404.5 486.5,399.6 487.0,394.5 487.5,389.3 488.0,384.0 488.5,378.7 489.0,373.3 489.5,368.0 490.0,362.7 490.5,357.6 491.0,352.6 491.5,347.9 492.0,343.4 492.5,339.2 493.0,335.5 493.5,332.1 494.0,329.2 494.5,326.8 495.0,324.9 495.5,323.5 496.0,322.7 496.5,322.5 497.0,322.8 497.5,323.5 498.0,324.6 498.5,326.2 499.0,328.2 499.5,330.5 500.0,333.3 500.5,336.3 501.0,339.7 501.5,343.4 502.0,347.3 502.5,351.5 503.0,355.8 503.5,360.3 504.0,364.9 504.5,369.5 505.0,374.2 505.5,379.0 506.0,383.7 506.5,388.4 507.0,393.0 507.0,459.5 474.0,459.5Z" fill="#dccaf6"/>
<path d="M474.0,457.5 474.5,457.1 475.0,456.6 475.5,456.0 476.0,455.3 476.5,454.6 477.0,453.7 477.5,452.7 478.0,451.5 478.5,450.2 479.0,448.7 479.5,447.1 480.0,445.2 480.5,443.1 481.0,440.9 481.5,438.3 482.0,435.6 482.5,432.5 483.0,429.3 483.5,425.8 484.0,422.0 484.5,417.9 485.0,413.7 485.5,409.2 486.0,404.5 486.5,399.6 487.0,394.5 487.5,389.3 488.0,384.0 488.5,378.7 489.0,373.3 489.5,368.0 490.0,362.7 490.5,357.6 491.0,352.6 491.5,347.9 492.0,343.4 492.5,339.2 493.0,335.5 493.5,332.1 494.0,329.2 494.5,326.8 495.0,324.9 495.5,323.5 496.0,322.7 496.5,322.5 497.0,322.8 497.5,323.5 498.0,324.6 498.5,326.2 499.0,328.2 499.5,330.5 500.0,333.3 500.5,336.3 501.0,339.7 501.5,343.4 502.0,347.3 502.5,351.5 503.0,355.8 503.5,360.3 504.0,364.9 504.5,369.5 505.0,374.2 505.5,379.0 506.0,383.7 506.5,388.4 507.0,393.0" fill="none" stroke="#7a2ad8" stroke-width="1.6" stroke-linejoin="round"/>
<path d="M499.6,453.5 500.1,452.1 500.6,450.3 501.1,448.1 501.6,445.6 502.1,442.7 502.6,439.3 503.1,435.4 503.6,431.0 504.1,426.0 504.6,420.4 505.1,414.3 505.6,407.6 506.1,400.4 506.6,392.7 507.1,384.5 507.6,376.1 508.1,367.4 508.6,358.5 509.1,349.7 509.6,341.0 510.1,332.6 510.6,324.7 511.1,317.4 511.6,310.8 512.1,305.2 512.6,300.5 513.1,297.0 513.6,294.6 514.1,293.6 514.6,293.8 515.1,295.1 515.6,297.6 516.1,301.2 516.6,305.7 517.1,311.2 517.6,317.4 518.1,324.2 518.6,331.6 519.1,339.3 519.6,347.3 520.1,355.5 520.6,363.6 521.1,371.6 521.6,379.5 522.1,387.1 522.6,394.3 523.1,401.2 523.6,407.7 524.1,413.6 524.6,419.1 525.1,424.2 525.6,428.7 526.1,432.8 526.6,436.4 527.1,439.7 527.6,442.5 528.1,444.9 528.6,447.1 529.1,448.9 529.6,450.4 530.1,451.8 530.6,452.9 531.1,453.8 531.6,454.6 532.1,455.2 532.6,455.8 533.1,456.2 533.6,456.6 534.1,456.9 534.6,457.1 535.1,457.3 535.6,457.5 536.1,457.7 536.6,457.8 537.1,457.9 537.6,458.0 538.1,458.1 538.6,458.1 539.1,458.2 539.6,458.3 540.1,458.3 540.6,458.4 541.1,458.4 541.6,458.4 542.1,458.5 542.6,458.5 543.1,458.5 543.6,458.6 544.1,458.6 544.6,458.6 545.1,458.7 545.6,458.7 546.1,458.7 546.6,458.7 547.1,458.8 547.6,458.8 548.1,458.8 548.6,458.8 548.6,459.5 499.6,459.5Z" fill="#f9bcd9"/>
<path d="M499.6,453.5 500.1,452.1 500.6,450.3 501.1,448.1 501.6,445.6 502.1,442.7 502.6,439.3 503.1,435.4 503.6,431.0 504.1,426.0 504.6,420.4 505.1,414.3 505.6,407.6 506.1,400.4 506.6,392.7 507.1,384.5 507.6,376.1 508.1,367.4 508.6,358.5 509.1,349.7 509.6,341.0 510.1,332.6 510.6,324.7 511.1,317.4 511.6,310.8 512.1,305.2 512.6,300.5 513.1,297.0 513.6,294.6 514.1,293.6 514.6,293.8 515.1,295.1 515.6,297.6 516.1,301.2 516.6,305.7 517.1,311.2 517.6,317.4 518.1,324.2 518.6,331.6 519.1,339.3 519.6,347.3 520.1,355.5 520.6,363.6 521.1,371.6 521.6,379.5 522.1,387.1 522.6,394.3 523.1,401.2 523.6,407.7 524.1,413.6 524.6,419.1 525.1,424.2 525.6,428.7 526.1,432.8 526.6,436.4 527.1,439.7 527.6,442.5 528.1,444.9 528.6,447.1 529.1,448.9 529.6,450.4 530.1,451.8 530.6,452.9 531.1,453.8 531.6,454.6 532.1,455.2 532.6,455.8 533.1,456.2 533.6,456.6 534.1,456.9 534.6,457.1 535.1,457.3 535.6,457.5 536.1,457.7 536.6,457.8 537.1,457.9 537.6,458.0 538.1,458.1 538.6,458.1 539.1,458.2 539.6,458.3 540.1,458.3 540.6,458.4 541.1,458.4 541.6,458.4 542.1,458.5 542.6,458.5 543.1,458.5 543.6,458.6 544.1,458.6 544.6,458.6 545.1,458.7 545.6,458.7 546.1,458.7 546.6,458.7 547.1,458.8 547.6,458.8 548.1,458.8 548.6,458.8" fill="none" stroke="#e01c70" stroke-width="1.6" stroke-linejoin="round"/>
<path d="M470.1,457.4 470.6,457.1 471.1,456.8 471.6,456.5 472.1,456.2 472.6,455.9 473.1,455.5 473.6,455.1 474.1,454.7 474.6,454.3 475.1,453.8 475.6,453.4 476.1,452.9 476.6,452.5 477.1,452.0 477.6,451.5 478.1,451.0 478.6,450.5 479.1,450.1 479.6,449.6 480.1,449.2 480.6,448.8 481.1,448.4 481.6,448.1 482.1,447.8 482.6,447.5 483.1,447.3 483.6,447.1 484.1,447.0 484.6,446.9 485.1,446.9 485.6,446.9 486.1,447.0 486.6,447.1 487.1,447.3 487.6,447.6 488.1,447.8 488.6,448.1 489.1,448.5 489.6,448.9 490.1,449.3 490.6,449.7 491.1,450.1 491.6,450.6 492.1,451.1 492.6,451.6 493.1,452.0 493.6,452.5 494.1,453.0 494.6,453.5 495.1,453.9 495.6,454.3 496.1,454.8 496.6,455.2 497.1,455.6 497.6,455.9 498.1,456.3 498.6,456.6 499.1,456.9 499.6,457.2 500.1,457.4 500.6,457.6 501.1,457.8 501.6,458.0 502.1,458.2 502.6,458.4 503.1,458.5 503.6,458.6 504.1,458.7 504.6,458.8 505.1,458.9 505.6,459.0 506.1,459.1 506.6,459.1 507.1,459.2 507.6,459.2 508.1,459.2 508.6,459.3 509.1,459.3 509.6,459.3 510.1,459.3 510.1,459.5 470.1,459.5Z" fill="#fde2cc"/>
<path d="M470.1,457.4 470.6,457.1 471.1,456.8 471.6,456.5 472.1,456.2 472.6,455.9 473.1,455.5 473.6,455.1 474.1,454.7 474.6,454.3 475.1,453.8 475.6,453.4 476.1,452.9 476.6,452.5 477.1,452.0 477.6,451.5 478.1,451.0 478.6,450.5 479.1,450.1 479.6,449.6 480.1,449.2 480.6,448.8 481.1,448.4 481.6,448.1 482.1,447.8 482.6,447.5 483.1,447.3 483.6,447.1 484.1,447.0 484.6,446.9 485.1,446.9 485.6,446.9 486.1,447.0 486.6,447.1 487.1,447.3 487.6,447.6 488.1,447.8 488.6,448.1 489.1,448.5 489.6,448.9 490.1,449.3 490.6,449.7 491.1,450.1 491.6,450.6 492.1,451.1 492.6,451.6 493.1,452.0 493.6,452.5 494.1,453.0 494.6,453.5 495.1,453.9 495.6,454.3 496.1,454.8 496.6,455.2 497.1,455.6 497.6,455.9 498.1,456.3 498.6,456.6 499.1,456.9 499.6,457.2 500.1,457.4 500.6,457.6 501.1,457.8 501.6,458.0 502.1,458.2 502.6,458.4 503.1,458.5 503.6,458.6 504.1,458.7 504.6,458.8 505.1,458.9 505.6,459.0 506.1,459.1 506.6,459.1 507.1,459.2 507.6,459.2 508.1,459.2 508.6,459.3 509.1,459.3 509.6,459.3 510.1,459.3" fill="none" stroke="#f08a4c" stroke-width="1.6" stroke-linejoin="round"/>
<path d="M489.7,458.4 490.2,458.2 490.7,457.9 491.2,457.7 491.7,457.4 492.2,457.1 492.7,456.7 493.2,456.4 493.7,455.9 494.2,455.5 494.7,455.0 495.2,454.5 495.7,453.9 496.2,453.4 496.7,452.8 497.2,452.1 497.7,451.5 498.2,450.9 498.7,450.3 499.2,449.6 499.7,449.0 500.2,448.5 500.7,447.9 501.2,447.4 501.7,447.0 502.2,446.6 502.7,446.3 503.2,446.1 503.7,445.9 504.2,445.8 504.7,445.8 505.2,445.9 505.7,446.0 506.2,446.3 506.7,446.6 507.2,447.0 507.7,447.4 508.2,447.9 508.7,448.4 509.2,449.0 509.7,449.6 510.2,450.2 510.7,450.8 511.2,451.5 511.7,452.1 512.2,452.7 512.7,453.3 513.2,453.9 513.7,454.4 514.2,455.0 514.7,455.5 515.2,455.9 515.7,456.3 516.2,456.7 516.7,457.1 517.2,457.4 517.7,457.7 518.2,457.9 518.7,458.1 519.2,458.3 519.7,458.5 520.2,458.7 520.7,458.8 521.2,458.9 521.2,459.5 489.7,459.5Z" fill="#b6f2f2"/>
<path d="M489.7,458.4 490.2,458.2 490.7,457.9 491.2,457.7 491.7,457.4 492.2,457.1 492.7,456.7 493.2,456.4 493.7,455.9 494.2,455.5 494.7,455.0 495.2,454.5 495.7,453.9 496.2,453.4 496.7,452.8 497.2,452.1 497.7,451.5 498.2,450.9 498.7,450.3 499.2,449.6 499.7,449.0 500.2,448.5 500.7,447.9 501.2,447.4 501.7,447.0 502.2,446.6 502.7,446.3 503.2,446.1 503.7,445.9 504.2,445.8 504.7,445.8 505.2,445.9 505.7,446.0 506.2,446.3 506.7,446.6 507.2,447.0 507.7,447.4 508.2,447.9 508.7,448.4 509.2,449.0 509.7,449.6 510.2,450.2 510.7,450.8 511.2,451.5 511.7,452.1 512.2,452.7 512.7,453.3 513.2,453.9 513.7,454.4 514.2,455.0 514.7,455.5 515.2,455.9 515.7,456.3 516.2,456.7 516.7,457.1 517.2,457.4 517.7,457.7 518.2,457.9 518.7,458.1 519.2,458.3 519.7,458.5 520.2,458.7 520.7,458.8 521.2,458.9" fill="none" stroke="#2ac8cc" stroke-width="1.6" stroke-linejoin="round"/>
<path d="M398.6,458.6h3.3v3.3h-3.3zM399.4,458.3h3.3v3.3h-3.3zM400.3,454.9h3.3v3.3h-3.3zM401.2,459.2h3.3v3.3h-3.3zM402.1,457.7h3.3v3.3h-3.3zM403.0,459.1h3.3v3.3h-3.3zM403.9,458.1h3.3v3.3h-3.3zM404.8,457.9h3.3v3.3h-3.3zM405.7,458.2h3.3v3.3h-3.3zM406.6,454.9h3.3v3.3h-3.3zM407.5,455.7h3.3v3.3h-3.3zM408.4,455.6h3.3v3.3h-3.3zM409.3,458.8h3.3v3.3h-3.3zM410.2,458.2h3.3v3.3h-3.3zM411.1,457.8h3.3v3.3h-3.3zM412.0,458.5h3.3v3.3h-3.3zM412.9,458.2h3.3v3.3h-3.3zM413.8,455.7h3.3v3.3h-3.3zM414.7,454.3h3.3v3.3h-3.3zM415.6,455.6h3.3v3.3h-3.3zM416.5,455.2h3.3v3.3h-3.3zM417.4,457.7h3.3v3.3h-3.3zM418.3,455.8h3.3v3.3h-3.3zM419.2,458.9h3.3v3.3h-3.3zM420.1,455.6h3.3v3.3h-3.3zM421.0,455.5h3.3v3.3h-3.3zM421.9,453.5h3.3v3.3h-3.3zM422.8,460.1h3.3v3.3h-3.3zM423.7,456.5h3.3v3.3h-3.3zM424.6,457.7h3.3v3.3h-3.3zM425.5,455.6h3.3v3.3h-3.3zM426.4,454.2h3.3v3.3h-3.3zM427.3,455.6h3.3v3.3h-3.3zM428.2,455.3h3.3v3.3h-3.3zM429.1,454.0h3.3v3.3h-3.3zM430.0,453.9h3.3v3.3h-3.3zM430.9,453.9h3.3v3.3h-3.3zM431.8,454.2h3.3v3.3h-3.3zM432.7,456.0h3.3v3.3h-3.3zM433.6,452.9h3.3v3.3h-3.3zM434.5,452.3h3.3v3.3h-3.3zM435.4,456.4h3.3v3.3h-3.3zM436.3,454.4h3.3v3.3h-3.3zM437.2,451.5h3.3v3.3h-3.3zM438.1,452.4h3.3v3.3h-3.3zM439.0,452.9h3.3v3.3h-3.3zM439.9,452.3h3.3v3.3h-3.3zM440.8,450.4h3.3v3.3h-3.3zM441.7,451.5h3.3v3.3h-3.3zM442.6,452.1h3.3v3.3h-3.3zM443.5,452.8h3.3v3.3h-3.3zM444.4,451.5h3.3v3.3h-3.3zM445.3,449.3h3.3v3.3h-3.3zM446.2,448.6h3.3v3.3h-3.3zM447.1,448.3h3.3v3.3h-3.3zM448.0,448.0h3.3v3.3h-3.3zM448.9,448.1h3.3v3.3h-3.3zM449.8,447.0h3.3v3.3h-3.3zM450.7,443.2h3.3v3.3h-3.3zM451.6,448.6h3.3v3.3h-3.3zM452.5,445.8h3.3v3.3h-3.3zM453.4,446.1h3.3v3.3h-3.3zM454.3,447.7h3.3v3.3h-3.3zM455.2,443.8h3.3v3.3h-3.3zM456.1,445.4h3.3v3.3h-3.3zM457.0,446.3h3.3v3.3h-3.3zM457.9,445.7h3.3v3.3h-3.3zM458.8,444.6h3.3v3.3h-3.3zM459.7,441.2h3.3v3.3h-3.3zM460.6,443.4h3.3v3.3h-3.3zM461.5,443.8h3.3v3.3h-3.3zM462.4,443.2h3.3v3.3h-3.3zM463.3,446.1h3.3v3.3h-3.3zM464.2,445.8h3.3v3.3h-3.3zM465.1,446.4h3.3v3.3h-3.3zM466.0,444.7h3.3v3.3h-3.3zM466.9,443.6h3.3v3.3h-3.3zM467.8,443.1h3.3v3.3h-3.3zM468.7,444.4h3.3v3.3h-3.3zM469.6,443.4h3.3v3.3h-3.3zM470.5,447.2h3.3v3.3h-3.3zM471.4,444.9h3.3v3.3h-3.3zM472.3,445.1h3.3v3.3h-3.3zM473.2,441.9h3.3v3.3h-3.3zM474.1,439.3h3.3v3.3h-3.3zM475.0,437.2h3.3v3.3h-3.3zM475.9,433.2h3.3v3.3h-3.3zM476.8,431.6h3.3v3.3h-3.3zM477.7,432.4h3.3v3.3h-3.3zM478.6,425.4h3.3v3.3h-3.3zM479.5,422.7h3.3v3.3h-3.3zM480.4,417.2h3.3v3.3h-3.3zM481.3,406.8h3.3v3.3h-3.3zM482.2,402.0h3.3v3.3h-3.3zM483.1,394.1h3.3v3.3h-3.3zM484.0,390.1h3.3v3.3h-3.3zM484.9,378.6h3.3v3.3h-3.3zM485.8,369.9h3.3v3.3h-3.3zM486.7,358.0h3.3v3.3h-3.3zM487.6,351.7h3.3v3.3h-3.3zM488.5,340.9h3.3v3.3h-3.3zM489.4,335.6h3.3v3.3h-3.3zM490.3,327.3h3.3v3.3h-3.3zM491.2,316.7h3.3v3.3h-3.3zM492.1,311.3h3.3v3.3h-3.3zM493.0,310.3h3.3v3.3h-3.3zM493.9,302.0h3.3v3.3h-3.3zM494.8,304.4h3.3v3.3h-3.3zM495.7,301.8h3.3v3.3h-3.3zM496.6,302.6h3.3v3.3h-3.3zM497.5,307.6h3.3v3.3h-3.3zM498.4,306.1h3.3v3.3h-3.3zM499.3,310.6h3.3v3.3h-3.3zM500.2,313.3h3.3v3.3h-3.3zM501.1,313.9h3.3v3.3h-3.3zM502.0,313.3h3.3v3.3h-3.3zM502.9,314.4h3.3v3.3h-3.3zM503.8,312.7h3.3v3.3h-3.3zM504.7,309.5h3.3v3.3h-3.3zM505.6,301.4h3.3v3.3h-3.3zM506.5,294.9h3.3v3.3h-3.3zM507.4,289.1h3.3v3.3h-3.3zM508.3,283.6h3.3v3.3h-3.3zM509.2,277.1h3.3v3.3h-3.3zM510.1,272.5h3.3v3.3h-3.3zM511.0,265.7h3.3v3.3h-3.3zM511.9,269.5h3.3v3.3h-3.3zM512.8,273.5h3.3v3.3h-3.3zM513.7,282.2h3.3v3.3h-3.3zM514.6,290.3h3.3v3.3h-3.3zM515.5,302.0h3.3v3.3h-3.3zM516.4,316.1h3.3v3.3h-3.3zM517.3,330.9h3.3v3.3h-3.3zM518.2,349.5h3.3v3.3h-3.3zM519.1,365.0h3.3v3.3h-3.3zM520.0,380.2h3.3v3.3h-3.3zM520.9,390.6h3.3v3.3h-3.3zM521.8,405.5h3.3v3.3h-3.3zM522.7,416.2h3.3v3.3h-3.3zM523.6,424.9h3.3v3.3h-3.3zM524.5,431.0h3.3v3.3h-3.3zM525.4,436.7h3.3v3.3h-3.3zM526.3,446.0h3.3v3.3h-3.3zM527.2,446.7h3.3v3.3h-3.3zM528.1,450.3h3.3v3.3h-3.3zM529.0,447.9h3.3v3.3h-3.3zM529.9,450.8h3.3v3.3h-3.3zM530.8,453.8h3.3v3.3h-3.3zM531.7,455.2h3.3v3.3h-3.3zM532.6,454.9h3.3v3.3h-3.3zM533.5,455.4h3.3v3.3h-3.3zM534.4,453.8h3.3v3.3h-3.3zM535.3,457.3h3.3v3.3h-3.3zM536.2,455.5h3.3v3.3h-3.3zM537.1,455.9h3.3v3.3h-3.3zM538.0,455.2h3.3v3.3h-3.3zM538.9,453.2h3.3v3.3h-3.3zM539.8,453.2h3.3v3.3h-3.3zM540.7,454.5h3.3v3.3h-3.3zM541.6,458.2h3.3v3.3h-3.3zM542.5,457.6h3.3v3.3h-3.3zM543.4,456.9h3.3v3.3h-3.3zM544.3,455.8h3.3v3.3h-3.3zM545.2,456.0h3.3v3.3h-3.3zM546.1,457.2h3.3v3.3h-3.3zM547.0,457.4h3.3v3.3h-3.3zM547.9,458.7h3.3v3.3h-3.3zM548.8,456.1h3.3v3.3h-3.3zM549.7,457.0h3.3v3.3h-3.3zM550.6,458.1h3.3v3.3h-3.3zM551.5,457.3h3.3v3.3h-3.3zM552.4,456.4h3.3v3.3h-3.3zM553.3,458.0h3.3v3.3h-3.3zM554.2,456.9h3.3v3.3h-3.3zM555.1,453.8h3.3v3.3h-3.3zM556.0,456.2h3.3v3.3h-3.3zM556.9,457.6h3.3v3.3h-3.3z" fill="#1616a6"/>
<path d="M399.2,459.1 399.7,459.1 400.2,459.1 400.7,459.1 401.2,459.1 401.7,459.1 402.2,459.1 402.7,459.1 403.2,459.1 403.7,459.1 404.2,459.0 404.7,459.0 405.2,459.0 405.7,459.0 406.2,459.0 406.7,459.0 407.2,459.0 407.7,459.0 408.2,458.9 408.7,458.9 409.2,458.9 409.7,458.9 410.2,458.9 410.7,458.9 411.2,458.8 411.7,458.8 412.2,458.8 412.7,458.8 413.2,458.8 413.7,458.7 414.2,458.7 414.7,458.7 415.2,458.6 415.7,458.6 416.2,458.6 416.7,458.5 417.2,458.5 417.7,458.5 418.2,458.4 418.7,458.4 419.2,458.3 419.7,458.3 420.2,458.3 420.7,458.2 421.2,458.1 421.7,458.1 422.2,458.0 422.7,458.0 423.2,457.9 423.7,457.8 424.2,457.8 424.7,457.7 425.2,457.6 425.7,457.5 426.2,457.4 426.7,457.3 427.2,457.2 427.7,457.1 428.2,457.0 428.7,456.9 429.2,456.8 429.7,456.7 430.2,456.6 430.7,456.5 431.2,456.3 431.7,456.2 432.2,456.1 432.7,455.9 433.2,455.8 433.7,455.6 434.2,455.5 434.7,455.3 435.2,455.2 435.7,455.0 436.2,454.8 436.7,454.7 437.2,454.5 437.7,454.3 438.2,454.1 438.7,453.9 439.2,453.7 439.7,453.5 440.2,453.3 440.7,453.1 441.2,452.9 441.7,452.7 442.2,452.5 442.7,452.3 443.2,452.1 443.7,451.9 444.2,451.7 444.7,451.5 445.2,451.2 445.7,451.0 446.2,450.8 446.7,450.6 447.2,450.4 447.7,450.2 448.2,450.0 448.7,449.7 449.2,449.5 449.7,449.3 450.2,449.2 450.7,449.0 451.2,448.8 451.7,448.6 452.2,448.4 452.7,448.3 453.2,448.1 453.7,447.9 454.2,447.8 454.7,447.7 455.2,447.5 455.7,447.4 456.2,447.3 456.7,447.2 457.2,447.1 457.7,447.0 458.2,447.0 458.7,446.9 459.2,446.9 459.7,446.8 460.2,446.8 460.7,446.8 461.2,446.8 461.7,446.8 462.2,446.8 462.7,446.8 463.2,446.8 463.7,446.9 464.2,446.9 464.7,446.9 465.2,446.9 465.7,447.0 466.2,447.0 466.7,447.0 467.2,447.0 467.7,446.9 468.2,446.9 468.7,446.9 469.2,446.8 469.7,446.7 470.2,446.5 470.7,446.3 471.2,446.1 471.7,445.9 472.2,445.6 472.7,445.2 473.2,444.7 473.7,444.2 474.2,443.7 474.7,443.0 475.2,442.2 475.7,441.4 476.2,440.4 476.7,439.3 477.2,438.1 477.7,436.7 478.2,435.2 478.7,433.5 479.2,431.7 479.7,429.7 480.2,427.5 480.7,425.0 481.2,422.4 481.7,419.6 482.2,416.5 482.7,413.3 483.2,409.8 483.7,406.1 484.2,402.2 484.7,398.0 485.2,393.7 485.7,389.2 486.2,384.5 486.7,379.6 487.2,374.7 487.7,369.6 488.2,364.5 488.7,359.3 489.2,354.2 489.7,349.1 490.2,344.1 490.7,339.2 491.2,334.5 491.7,330.1 492.2,325.9 492.7,322.0 493.2,318.5 493.7,315.3 494.2,312.6 494.7,310.3 495.2,308.4 495.7,307.0 496.2,306.1 496.7,305.6 497.2,305.5 497.7,305.7 498.2,306.1 498.7,306.8 499.2,307.7 499.7,308.7 500.2,309.9 500.7,311.1 501.2,312.3 501.7,313.4 502.2,314.4 502.7,315.1 503.2,315.6 503.7,315.8 504.2,315.6 504.7,315.0 505.2,313.9 505.7,312.3 506.2,310.3 506.7,307.8 507.2,304.9 507.7,301.6 508.2,298.1 508.7,294.3 509.2,290.4 509.7,286.6 510.2,282.9 510.7,279.5 511.2,276.5 511.7,274.1 512.2,272.4 512.7,271.4 513.2,271.4 513.7,272.3 514.2,274.2 514.7,277.2 515.2,281.0 515.7,285.8 516.2,291.4 516.7,297.7 517.2,304.8 517.7,312.4 518.2,320.4 518.7,328.8 519.2,337.4 519.7,346.1 520.2,354.7 520.7,363.3 521.2,371.7 521.7,379.8 522.2,387.6 522.7,395.0 523.2,401.9 523.7,408.4 524.2,414.4 524.7,419.8 525.2,424.8 525.7,429.3 526.2,433.3 526.7,436.9 527.2,440.0 527.7,442.8 528.2,445.1 528.7,447.2 529.2,449.0 529.7,450.5 530.2,451.7 530.7,452.8 531.2,453.7 531.7,454.5 532.2,455.1 532.7,455.6 533.2,456.0 533.7,456.4 534.2,456.7 534.7,456.9 535.2,457.1 535.7,457.3 536.2,457.4 536.7,457.6 537.2,457.7 537.7,457.8 538.2,457.8 538.7,457.9 539.2,458.0 539.7,458.0 540.2,458.1 540.7,458.1 541.2,458.2 541.7,458.2 542.2,458.3 542.7,458.3 543.2,458.3 543.7,458.4 544.2,458.4 544.7,458.4 545.2,458.5 545.7,458.5 546.2,458.5 546.7,458.5 547.2,458.6 547.7,458.6 548.2,458.6 548.7,458.6 549.2,458.6 549.7,458.7 550.2,458.7 550.7,458.7 551.2,458.7 551.7,458.7 552.2,458.8 552.7,458.8 553.2,458.8 553.7,458.8 554.2,458.8 554.7,458.8 555.2,458.8 555.7,458.9 556.2,458.9 556.7,458.9 557.2,458.9 557.7,458.9 558.2,458.9 558.7,458.9 559.2,458.9" fill="none" stroke="#d8262a" stroke-width="2.1" stroke-linejoin="round"/>
<rect x="397.2" y="263.8" width="165.9" height="203.2" fill="none" stroke="#111" stroke-width="1.9"/>
<text x="411.0" y="486.4" font-family="Liberation Sans, sans-serif" font-size="14.6" text-anchor="middle" fill="#141414">295</text>
<text x="460.2" y="486.4" font-family="Liberation Sans, sans-serif" font-size="14.6" text-anchor="middle" fill="#141414">290</text>
<text x="509.4" y="486.4" font-family="Liberation Sans, sans-serif" font-size="14.6" text-anchor="middle" fill="#141414">285</text>
<text x="558.7" y="486.4" font-family="Liberation Sans, sans-serif" font-size="14.6" text-anchor="middle" fill="#141414">280</text>
<rect x="412.5" y="281.6" width="3.4" height="3.4" fill="#1616a6"/>
<text x="431" y="286.7" font-family="Liberation Sans, sans-serif" font-size="11.2" text-anchor="start" fill="#141414">C 1s</text>
<path d="M403.4,296.4H425.2" stroke="#dc2428" stroke-width="2"/>
<text x="431" y="300" font-family="Liberation Sans, sans-serif" font-size="11.2" text-anchor="start" fill="#141414">fit</text>
<rect x="410.1" y="310.9" width="9.3" height="5.9" fill="#f9bcd9" stroke="#e01c70" stroke-width="1.6"/>
<text x="431" y="317.5" font-family="Liberation Sans, sans-serif" font-size="11.2" text-anchor="start" fill="#141414">C sp<tspan font-size="8.5" dy="-7.6">2</tspan></text>
<rect x="410.1" y="328.4" width="9.3" height="5.9" fill="#b6f2f2" stroke="#2ac8cc" stroke-width="1.6"/>
<text x="431" y="335" font-family="Liberation Sans, sans-serif" font-size="11.2" text-anchor="start" fill="#141414">Def Csp<tspan font-size="8.5" dy="-7.6">2</tspan></text>
<rect x="410.1" y="342.4" width="9.3" height="5.9" fill="#dccaf6" stroke="#7a2ad8" stroke-width="1.6"/>
<text x="431" y="349" font-family="Liberation Sans, sans-serif" font-size="11.2" text-anchor="start" fill="#141414">O-CH<tspan font-size="8.5" dy="3">3</tspan></text>
<rect x="410.1" y="357.1" width="9.3" height="5.9" fill="#fde2cc" stroke="#f08a4c" stroke-width="1.6"/>
<text x="431" y="363.7" font-family="Liberation Sans, sans-serif" font-size="11.2" text-anchor="start" fill="#141414">O-C=O</text>
<rect x="410.1" y="370.4" width="9.3" height="5.9" fill="#dccbc4" stroke="#5c2616" stroke-width="1.6"/>
<text x="431" y="377" font-family="Liberation Sans, sans-serif" font-size="11.2" text-anchor="start" fill="#141414">Shake up</text>
<rect x="540.2" y="266.4" width="18.3" height="23.4" fill="#fff"/>
<text transform="translate(559.7,285.2) scale(0.8,1)" font-family="Liberation Sans, sans-serif" font-size="19.0" text-anchor="end" fill="#141414">(g)</text>
<path d="M744.0,263.8v11.0M744.0,467v-10.0M734.1,263.8v5.9M734.1,467v-5.5M724.2,263.8v5.9M724.2,467v-5.5M714.2,263.8v5.9M714.2,467v-5.5M704.3,263.8v5.9M704.3,467v-5.5M694.4,263.8v11.0M694.4,467v-10.0M684.4,263.8v5.9M684.4,467v-5.5M674.5,263.8v5.9M674.5,467v-5.5M664.6,263.8v5.9M664.6,467v-5.5M654.6,263.8v5.9M654.6,467v-5.5M644.7,263.8v11.0M644.7,467v-10.0M634.7,263.8v5.9M634.7,467v-5.5M624.8,263.8v5.9M624.8,467v-5.5M614.9,263.8v5.9M614.9,467v-5.5M604.9,263.8v5.9M604.9,467v-5.5M595.0,263.8v11.0M595.0,467v-10.0M585.1,263.8v5.9M585.1,467v-5.5" stroke="#111" stroke-width="1.5" fill="none"/>
<path d="M590.0,459.5 590.5,459.5 591.0,459.5 591.5,459.5 592.0,459.5 592.5,459.5 593.0,459.5 593.5,459.5 594.0,459.4 594.5,459.4 595.0,459.4 595.5,459.4 596.0,459.4 596.5,459.4 597.0,459.4 597.5,459.4 598.0,459.4 598.5,459.3 599.0,459.3 599.5,459.3 600.0,459.3 600.5,459.3 601.0,459.3 601.5,459.2 602.0,459.2 602.5,459.2 603.0,459.2 603.5,459.1 604.0,459.1 604.5,459.1 605.0,459.1 605.5,459.0 606.0,459.0 606.5,459.0 607.0,458.9 607.5,458.9 608.0,458.9 608.5,458.8 609.0,458.8 609.5,458.8 610.0,458.7 610.5,458.7 611.0,458.6 611.5,458.6 612.0,458.5 612.5,458.5 613.0,458.4 613.5,458.4 614.0,458.3 614.5,458.3 615.0,458.2 615.5,458.2 616.0,458.1 616.5,458.0 617.0,458.0 617.5,457.9 618.0,457.9 618.5,457.8 619.0,457.7 619.5,457.7 620.0,457.6 620.5,457.5 621.0,457.4 621.5,457.4 622.0,457.3 622.5,457.2 623.0,457.1 623.5,457.1 624.0,457.0 624.5,456.9 625.0,456.8 625.5,456.8 626.0,456.7 626.5,456.6 627.0,456.5 627.5,456.4 628.0,456.4 628.5,456.3 629.0,456.2 629.5,456.1 630.0,456.0 630.5,456.0 631.0,455.9 631.5,455.8 632.0,455.7 632.5,455.7 633.0,455.6 633.5,455.5 634.0,455.5 634.5,455.4 635.0,455.3 635.5,455.3 636.0,455.2 636.5,455.2 637.0,455.1 637.5,455.0 638.0,455.0 638.5,454.9 639.0,454.9 639.5,454.9 640.0,454.8 640.5,454.8 641.0,454.7 641.5,454.7 642.0,454.7 642.5,454.7 643.0,454.6 643.5,454.6 644.0,454.6 644.5,454.6 645.0,454.6 645.5,454.6 646.0,454.6 646.5,454.6 647.0,454.6 647.5,454.6 648.0,454.6 648.5,454.7 649.0,454.7 649.5,454.7 650.0,454.7 650.5,454.8 651.0,454.8 651.5,454.8 652.0,454.9 652.5,454.9 653.0,455.0 653.5,455.0 654.0,455.1 654.5,455.1 655.0,455.2 655.5,455.2 656.0,455.3 656.5,455.4 657.0,455.4 657.5,455.5 658.0,455.6 658.5,455.6 659.0,455.7 659.5,455.8 660.0,455.9 660.5,455.9 661.0,456.0 661.5,456.1 662.0,456.2 662.5,456.2 663.0,456.3 663.5,456.4 664.0,456.5 664.5,456.6 665.0,456.6 665.5,456.7 666.0,456.8 666.5,456.9 667.0,456.9 667.5,457.0 668.0,457.1 668.5,457.2 669.0,457.3 669.5,457.3 670.0,457.4 670.5,457.5 671.0,457.5 671.5,457.6 672.0,457.7 672.5,457.8 673.0,457.8 673.5,457.9 674.0,457.9 674.5,458.0 675.0,458.1 675.5,458.1 676.0,458.2 676.5,458.2 677.0,458.3 677.5,458.4 678.0,458.4 678.5,458.5 679.0,458.5 679.5,458.6 680.0,458.6 680.5,458.6 681.0,458.7 681.5,458.7 682.0,458.8 682.5,458.8 683.0,458.8 683.5,458.9 684.0,458.9 684.5,459.0 685.0,459.0 685.5,459.0 686.0,459.0 686.5,459.1 687.0,459.1 687.5,459.1 688.0,459.2 688.5,459.2 689.0,459.2 689.5,459.2 690.0,459.2 690.5,459.3 691.0,459.3 691.5,459.3 692.0,459.3 692.5,459.3 693.0,459.3 693.5,459.4 694.0,459.4 694.0,459.6 590.0,459.6Z" fill="#dccbc4"/>
<path d="M590.0,459.5 590.5,459.5 591.0,459.5 591.5,459.5 592.0,459.5 592.5,459.5 593.0,459.5 593.5,459.5 594.0,459.4 594.5,459.4 595.0,459.4 595.5,459.4 596.0,459.4 596.5,459.4 597.0,459.4 597.5,459.4 598.0,459.4 598.5,459.3 599.0,459.3 599.5,459.3 600.0,459.3 600.5,459.3 601.0,459.3 601.5,459.2 602.0,459.2 602.5,459.2 603.0,459.2 603.5,459.1 604.0,459.1 604.5,459.1 605.0,459.1 605.5,459.0 606.0,459.0 606.5,459.0 607.0,458.9 607.5,458.9 608.0,458.9 608.5,458.8 609.0,458.8 609.5,458.8 610.0,458.7 610.5,458.7 611.0,458.6 611.5,458.6 612.0,458.5 612.5,458.5 613.0,458.4 613.5,458.4 614.0,458.3 614.5,458.3 615.0,458.2 615.5,458.2 616.0,458.1 616.5,458.0 617.0,458.0 617.5,457.9 618.0,457.9 618.5,457.8 619.0,457.7 619.5,457.7 620.0,457.6 620.5,457.5 621.0,457.4 621.5,457.4 622.0,457.3 622.5,457.2 623.0,457.1 623.5,457.1 624.0,457.0 624.5,456.9 625.0,456.8 625.5,456.8 626.0,456.7 626.5,456.6 627.0,456.5 627.5,456.4 628.0,456.4 628.5,456.3 629.0,456.2 629.5,456.1 630.0,456.0 630.5,456.0 631.0,455.9 631.5,455.8 632.0,455.7 632.5,455.7 633.0,455.6 633.5,455.5 634.0,455.5 634.5,455.4 635.0,455.3 635.5,455.3 636.0,455.2 636.5,455.2 637.0,455.1 637.5,455.0 638.0,455.0 638.5,454.9 639.0,454.9 639.5,454.9 640.0,454.8 640.5,454.8 641.0,454.7 641.5,454.7 642.0,454.7 642.5,454.7 643.0,454.6 643.5,454.6 644.0,454.6 644.5,454.6 645.0,454.6 645.5,454.6 646.0,454.6 646.5,454.6 647.0,454.6 647.5,454.6 648.0,454.6 648.5,454.7 649.0,454.7 649.5,454.7 650.0,454.7 650.5,454.8 651.0,454.8 651.5,454.8 652.0,454.9 652.5,454.9 653.0,455.0 653.5,455.0 654.0,455.1 654.5,455.1 655.0,455.2 655.5,455.2 656.0,455.3 656.5,455.4 657.0,455.4 657.5,455.5 658.0,455.6 658.5,455.6 659.0,455.7 659.5,455.8 660.0,455.9 660.5,455.9 661.0,456.0 661.5,456.1 662.0,456.2 662.5,456.2 663.0,456.3 663.5,456.4 664.0,456.5 664.5,456.6 665.0,456.6 665.5,456.7 666.0,456.8 666.5,456.9 667.0,456.9 667.5,457.0 668.0,457.1 668.5,457.2 669.0,457.3 669.5,457.3 670.0,457.4 670.5,457.5 671.0,457.5 671.5,457.6 672.0,457.7 672.5,457.8 673.0,457.8 673.5,457.9 674.0,457.9 674.5,458.0 675.0,458.1 675.5,458.1 676.0,458.2 676.5,458.2 677.0,458.3 677.5,458.4 678.0,458.4 678.5,458.5 679.0,458.5 679.5,458.6 680.0,458.6 680.5,458.6 681.0,458.7 681.5,458.7 682.0,458.8 682.5,458.8 683.0,458.8 683.5,458.9 684.0,458.9 684.5,459.0 685.0,459.0 685.5,459.0 686.0,459.0 686.5,459.1 687.0,459.1 687.5,459.1 688.0,459.2 688.5,459.2 689.0,459.2 689.5,459.2 690.0,459.2 690.5,459.3 691.0,459.3 691.5,459.3 692.0,459.3 692.5,459.3 693.0,459.3 693.5,459.4 694.0,459.4" fill="none" stroke="#5c2616" stroke-width="1.6" stroke-linejoin="round"/>
<path d="M654.6,459.2 655.1,459.1 655.6,459.0 656.1,458.9 656.6,458.8 657.1,458.7 657.6,458.6 658.1,458.4 658.6,458.2 659.1,458.1 659.6,457.8 660.1,457.6 660.6,457.4 661.1,457.1 661.6,456.8 662.1,456.4 662.6,456.1 663.1,455.7 663.6,455.3 664.1,454.9 664.6,454.5 665.1,454.0 665.6,453.5 666.1,453.0 666.6,452.5 667.1,452.0 667.6,451.5 668.1,451.0 668.6,450.5 669.1,450.0 669.6,449.5 670.1,449.0 670.6,448.6 671.1,448.2 671.6,447.8 672.1,447.5 672.6,447.2 673.1,447.0 673.6,446.8 674.1,446.7 674.6,446.6 675.1,446.6 675.6,446.6 676.1,446.7 676.6,446.9 677.1,447.1 677.6,447.4 678.1,447.7 678.6,448.0 679.1,448.4 679.6,448.8 680.1,449.3 680.6,449.8 681.1,450.2 681.6,450.7 682.1,451.3 682.6,451.8 683.1,452.3 683.6,452.8 684.1,453.3 684.6,453.8 685.1,454.2 685.6,454.7 686.1,455.1 686.6,455.5 687.1,455.9 687.6,456.3 688.1,456.6 688.6,456.9 689.1,457.2 689.6,457.5 690.1,457.7 690.6,458.0 691.1,458.2 691.6,458.3 692.1,458.5 692.6,458.6 693.1,458.8 693.6,458.9 694.1,459.0 694.6,459.1 695.1,459.1 695.6,459.2 696.1,459.2 696.1,459.6 654.6,459.6Z" fill="#fde2cc"/>
<path d="M654.6,459.2 655.1,459.1 655.6,459.0 656.1,458.9 656.6,458.8 657.1,458.7 657.6,458.6 658.1,458.4 658.6,458.2 659.1,458.1 659.6,457.8 660.1,457.6 660.6,457.4 661.1,457.1 661.6,456.8 662.1,456.4 662.6,456.1 663.1,455.7 663.6,455.3 664.1,454.9 664.6,454.5 665.1,454.0 665.6,453.5 666.1,453.0 666.6,452.5 667.1,452.0 667.6,451.5 668.1,451.0 668.6,450.5 669.1,450.0 669.6,449.5 670.1,449.0 670.6,448.6 671.1,448.2 671.6,447.8 672.1,447.5 672.6,447.2 673.1,447.0 673.6,446.8 674.1,446.7 674.6,446.6 675.1,446.6 675.6,446.6 676.1,446.7 676.6,446.9 677.1,447.1 677.6,447.4 678.1,447.7 678.6,448.0 679.1,448.4 679.6,448.8 680.1,449.3 680.6,449.8 681.1,450.2 681.6,450.7 682.1,451.3 682.6,451.8 683.1,452.3 683.6,452.8 684.1,453.3 684.6,453.8 685.1,454.2 685.6,454.7 686.1,455.1 686.6,455.5 687.1,455.9 687.6,456.3 688.1,456.6 688.6,456.9 689.1,457.2 689.6,457.5 690.1,457.7 690.6,458.0 691.1,458.2 691.6,458.3 692.1,458.5 692.6,458.6 693.1,458.8 693.6,458.9 694.1,459.0 694.6,459.1 695.1,459.1 695.6,459.2 696.1,459.2" fill="none" stroke="#f08a4c" stroke-width="1.6" stroke-linejoin="round"/>
<path d="M683.4,451.1 683.9,449.6 684.4,447.8 684.9,445.7 685.4,443.3 685.9,440.5 686.4,437.2 686.9,433.5 687.4,429.3 687.9,424.6 688.4,419.3 688.9,413.5 689.4,407.2 689.9,400.2 690.4,392.8 690.9,384.9 691.4,376.6 691.9,367.9 692.4,359.0 692.9,349.9 693.4,340.8 693.9,331.7 694.4,322.9 694.9,314.5 695.4,306.6 695.9,299.4 696.4,293.1 696.9,287.7 697.4,283.4 697.9,280.4 698.4,278.6 698.9,278.2 699.4,279.1 699.9,281.1 700.4,284.3 700.9,288.5 701.4,293.6 701.9,299.7 702.4,306.4 702.9,313.7 703.4,321.5 703.9,329.7 704.4,338.0 704.9,346.4 705.4,354.9 705.9,363.2 706.4,371.3 706.9,379.2 707.4,386.7 707.9,393.9 708.4,400.6 708.9,406.9 709.4,412.7 709.9,418.0 710.4,422.9 710.9,427.3 711.4,431.3 711.9,434.9 712.4,438.0 712.9,440.8 713.4,443.2 713.9,445.3 714.4,447.2 714.9,448.7 715.4,450.1 715.9,451.3 716.4,452.2 716.9,453.1 717.4,453.8 717.9,454.4 718.4,454.9 718.9,455.3 719.4,455.7 719.9,456.0 720.4,456.3 720.9,456.5 721.4,456.7 721.9,456.8 722.4,457.0 722.9,457.1 723.4,457.2 723.9,457.3 724.4,457.4 724.9,457.5 725.4,457.6 725.9,457.7 726.4,457.7 726.9,457.8 727.4,457.9 727.9,457.9 728.4,458.0 728.9,458.0 729.4,458.1 729.9,458.1 730.4,458.2 730.9,458.2 731.4,458.2 731.9,458.3 732.4,458.3 732.9,458.4 733.4,458.4 733.9,458.4 733.9,459.6 683.4,459.6Z" fill="#f9bcd9"/>
<path d="M683.4,451.1 683.9,449.6 684.4,447.8 684.9,445.7 685.4,443.3 685.9,440.5 686.4,437.2 686.9,433.5 687.4,429.3 687.9,424.6 688.4,419.3 688.9,413.5 689.4,407.2 689.9,400.2 690.4,392.8 690.9,384.9 691.4,376.6 691.9,367.9 692.4,359.0 692.9,349.9 693.4,340.8 693.9,331.7 694.4,322.9 694.9,314.5 695.4,306.6 695.9,299.4 696.4,293.1 696.9,287.7 697.4,283.4 697.9,280.4 698.4,278.6 698.9,278.2 699.4,279.1 699.9,281.1 700.4,284.3 700.9,288.5 701.4,293.6 701.9,299.7 702.4,306.4 702.9,313.7 703.4,321.5 703.9,329.7 704.4,338.0 704.9,346.4 705.4,354.9 705.9,363.2 706.4,371.3 706.9,379.2 707.4,386.7 707.9,393.9 708.4,400.6 708.9,406.9 709.4,412.7 709.9,418.0 710.4,422.9 710.9,427.3 711.4,431.3 711.9,434.9 712.4,438.0 712.9,440.8 713.4,443.2 713.9,445.3 714.4,447.2 714.9,448.7 715.4,450.1 715.9,451.3 716.4,452.2 716.9,453.1 717.4,453.8 717.9,454.4 718.4,454.9 718.9,455.3 719.4,455.7 719.9,456.0 720.4,456.3 720.9,456.5 721.4,456.7 721.9,456.8 722.4,457.0 722.9,457.1 723.4,457.2 723.9,457.3 724.4,457.4 724.9,457.5 725.4,457.6 725.9,457.7 726.4,457.7 726.9,457.8 727.4,457.9 727.9,457.9 728.4,458.0 728.9,458.0 729.4,458.1 729.9,458.1 730.4,458.2 730.9,458.2 731.4,458.2 731.9,458.3 732.4,458.3 732.9,458.4 733.4,458.4 733.9,458.4" fill="none" stroke="#e01c70" stroke-width="1.6" stroke-linejoin="round"/>
<path d="M671.5,459.5 672.0,459.5 672.5,459.5 673.0,459.4 673.5,459.4 674.0,459.4 674.5,459.3 675.0,459.3 675.5,459.2 676.0,459.1 676.5,458.9 677.0,458.8 677.5,458.6 678.0,458.4 678.5,458.1 679.0,457.8 679.5,457.4 680.0,456.9 680.5,456.4 681.0,455.9 681.5,455.3 682.0,454.6 682.5,453.9 683.0,453.1 683.5,452.3 684.0,451.4 684.5,450.6 685.0,449.7 685.5,448.9 686.0,448.1 686.5,447.4 687.0,446.7 687.5,446.2 688.0,445.7 688.5,445.4 689.0,445.2 689.5,445.2 690.0,445.3 690.5,445.6 691.0,445.9 691.5,446.4 692.0,447.0 692.5,447.7 693.0,448.5 693.5,449.3 694.0,450.1 694.5,451.0 695.0,451.8 695.5,452.7 696.0,453.5 696.5,454.2 697.0,454.9 697.5,455.6 698.0,456.2 698.5,456.7 699.0,457.1 699.5,457.6 700.0,457.9 700.5,458.2 701.0,458.5 701.5,458.7 702.0,458.9 702.5,459.0 703.0,459.1 703.5,459.2 704.0,459.3 704.5,459.3 705.0,459.4 705.5,459.4 706.0,459.5 706.0,459.6 671.5,459.6Z" fill="#b6f2f2"/>
<path d="M671.5,459.5 672.0,459.5 672.5,459.5 673.0,459.4 673.5,459.4 674.0,459.4 674.5,459.3 675.0,459.3 675.5,459.2 676.0,459.1 676.5,458.9 677.0,458.8 677.5,458.6 678.0,458.4 678.5,458.1 679.0,457.8 679.5,457.4 680.0,456.9 680.5,456.4 681.0,455.9 681.5,455.3 682.0,454.6 682.5,453.9 683.0,453.1 683.5,452.3 684.0,451.4 684.5,450.6 685.0,449.7 685.5,448.9 686.0,448.1 686.5,447.4 687.0,446.7 687.5,446.2 688.0,445.7 688.5,445.4 689.0,445.2 689.5,445.2 690.0,445.3 690.5,445.6 691.0,445.9 691.5,446.4 692.0,447.0 692.5,447.7 693.0,448.5 693.5,449.3 694.0,450.1 694.5,451.0 695.0,451.8 695.5,452.7 696.0,453.5 696.5,454.2 697.0,454.9 697.5,455.6 698.0,456.2 698.5,456.7 699.0,457.1 699.5,457.6 700.0,457.9 700.5,458.2 701.0,458.5 701.5,458.7 702.0,458.9 702.5,459.0 703.0,459.1 703.5,459.2 704.0,459.3 704.5,459.3 705.0,459.4 705.5,459.4 706.0,459.5" fill="none" stroke="#2ac8cc" stroke-width="1.6" stroke-linejoin="round"/>
<path d="M582.6,457.8h3.0v3.0h-3.0zM584.2,454.4h3.0v3.0h-3.0zM585.8,458.4h3.0v3.0h-3.0zM587.4,457.7h3.0v3.0h-3.0zM589,455.4h3.0v3.0h-3.0zM590.6,454.4h3.0v3.0h-3.0zM592.2,457.9h3.0v3.0h-3.0zM593.8,460.3h3.0v3.0h-3.0zM595.4,458.1h3.0v3.0h-3.0zM597,459.3h3.0v3.0h-3.0zM598.6,459.6h3.0v3.0h-3.0zM600.2,460.6h3.0v3.0h-3.0zM601.8,457.6h3.0v3.0h-3.0zM603.4,457.5h3.0v3.0h-3.0zM605,458.6h3.0v3.0h-3.0zM606.6,462.8h3.0v3.0h-3.0zM608.2,459.5h3.0v3.0h-3.0zM609.8,456.3h3.0v3.0h-3.0zM611.4,459.6h3.0v3.0h-3.0zM613,455.4h3.0v3.0h-3.0zM614.6,455.7h3.0v3.0h-3.0zM616.2,457.9h3.0v3.0h-3.0zM617.8,457.4h3.0v3.0h-3.0zM619.4,456.2h3.0v3.0h-3.0zM621,454.4h3.0v3.0h-3.0zM622.6,453.2h3.0v3.0h-3.0zM624.2,452.7h3.0v3.0h-3.0zM625.8,454.3h3.0v3.0h-3.0zM627.4,458.7h3.0v3.0h-3.0zM629,455.1h3.0v3.0h-3.0zM630.6,453.0h3.0v3.0h-3.0zM632.2,452.0h3.0v3.0h-3.0zM633.8,451.6h3.0v3.0h-3.0zM635.4,451.3h3.0v3.0h-3.0zM637,452.2h3.0v3.0h-3.0zM638.6,450.2h3.0v3.0h-3.0zM640.2,451.9h3.0v3.0h-3.0zM641.8,449.2h3.0v3.0h-3.0zM643.4,449.7h3.0v3.0h-3.0zM645,448.3h3.0v3.0h-3.0zM646.6,449.4h3.0v3.0h-3.0zM648.2,448.5h3.0v3.0h-3.0zM649.8,447.4h3.0v3.0h-3.0zM651.4,451.1h3.0v3.0h-3.0zM653,451.0h3.0v3.0h-3.0zM654.6,447.5h3.0v3.0h-3.0zM656.2,448.9h3.0v3.0h-3.0zM657.8,449.0h3.0v3.0h-3.0zM659.5,449.0h3.0v3.0h-3.0zM660.5,447.4h3.0v3.0h-3.0zM661.5,444.9h3.0v3.0h-3.0zM662.5,445.9h3.0v3.0h-3.0zM663.5,446.8h3.0v3.0h-3.0zM664.5,443.1h3.0v3.0h-3.0zM665.5,444.7h3.0v3.0h-3.0zM666.5,443.3h3.0v3.0h-3.0zM667.5,445.0h3.0v3.0h-3.0zM668.5,444.4h3.0v3.0h-3.0zM669.5,441.6h3.0v3.0h-3.0zM670.5,440.0h3.0v3.0h-3.0zM671.5,441.5h3.0v3.0h-3.0zM672.5,438.9h3.0v3.0h-3.0zM673.5,443.5h3.0v3.0h-3.0zM674.5,435.9h3.0v3.0h-3.0zM675.5,440.0h3.0v3.0h-3.0zM676.5,438.1h3.0v3.0h-3.0zM677.5,441.5h3.0v3.0h-3.0zM678.5,441.5h3.0v3.0h-3.0zM679.5,437.4h3.0v3.0h-3.0zM680.5,435.9h3.0v3.0h-3.0zM681.5,434.8h3.0v3.0h-3.0zM682.5,435.5h3.0v3.0h-3.0zM683.5,428.2h3.0v3.0h-3.0zM684.5,418.1h3.0v3.0h-3.0zM685.5,414.1h3.0v3.0h-3.0zM686.5,402.8h3.0v3.0h-3.0zM687.5,390.3h3.0v3.0h-3.0zM688.5,381.2h3.0v3.0h-3.0zM689.5,369.3h3.0v3.0h-3.0zM690.5,350.0h3.0v3.0h-3.0zM691.5,333.2h3.0v3.0h-3.0zM692.5,318.0h3.0v3.0h-3.0zM693.5,304.4h3.0v3.0h-3.0zM694.5,287.5h3.0v3.0h-3.0zM695.5,278.3h3.0v3.0h-3.0zM696.5,272.1h3.0v3.0h-3.0zM697.5,276.2h3.0v3.0h-3.0zM698.5,274.6h3.0v3.0h-3.0zM699.5,288.6h3.0v3.0h-3.0zM700.5,297.5h3.0v3.0h-3.0zM701.5,315.1h3.0v3.0h-3.0zM702.5,324.9h3.0v3.0h-3.0zM703.5,345.2h3.0v3.0h-3.0zM704.5,359.4h3.0v3.0h-3.0zM705.5,376.0h3.0v3.0h-3.0zM706.5,391.7h3.0v3.0h-3.0zM707.5,406.5h3.0v3.0h-3.0zM708.5,414.3h3.0v3.0h-3.0zM709.5,427.5h3.0v3.0h-3.0zM710.5,435.5h3.0v3.0h-3.0zM711.5,438.4h3.0v3.0h-3.0zM712.5,441.4h3.0v3.0h-3.0zM713.5,447.5h3.0v3.0h-3.0zM714.5,450.5h3.0v3.0h-3.0zM715.5,452.1h3.0v3.0h-3.0zM716.5,454.1h3.0v3.0h-3.0zM717.5,451.8h3.0v3.0h-3.0zM718.5,456.3h3.0v3.0h-3.0zM720.5,455.4h3.0v3.0h-3.0zM722.7,455.8h3.0v3.0h-3.0zM724.9,455.3h3.0v3.0h-3.0zM727.1,457.0h3.0v3.0h-3.0zM729.3,459.3h3.0v3.0h-3.0zM731.5,457.4h3.0v3.0h-3.0zM733.7,455.6h3.0v3.0h-3.0zM735.9,459.3h3.0v3.0h-3.0zM738.1,454.0h3.0v3.0h-3.0zM740.3,459.1h3.0v3.0h-3.0zM742.5,459.0h3.0v3.0h-3.0z" fill="#1616a6"/>
<path d="M583.1,459.5 583.6,459.5 584.1,459.5 584.6,459.5 585.1,459.5 585.6,459.5 586.1,459.5 586.6,459.5 587.1,459.4 587.6,459.4 588.1,459.4 588.6,459.4 589.1,459.4 589.6,459.4 590.1,459.4 590.6,459.4 591.1,459.4 591.6,459.4 592.1,459.4 592.6,459.4 593.1,459.4 593.6,459.4 594.1,459.4 594.6,459.3 595.1,459.3 595.6,459.3 596.1,459.3 596.6,459.3 597.1,459.3 597.6,459.3 598.1,459.2 598.6,459.2 599.1,459.2 599.6,459.2 600.1,459.2 600.6,459.2 601.1,459.1 601.6,459.1 602.1,459.1 602.6,459.1 603.1,459.0 603.6,459.0 604.1,459.0 604.6,459.0 605.1,458.9 605.6,458.9 606.1,458.9 606.6,458.8 607.1,458.8 607.6,458.8 608.1,458.7 608.6,458.7 609.1,458.6 609.6,458.6 610.1,458.5 610.6,458.5 611.1,458.4 611.6,458.4 612.1,458.3 612.6,458.3 613.1,458.2 613.6,458.2 614.1,458.1 614.6,458.0 615.1,458.0 615.6,457.9 616.1,457.8 616.6,457.7 617.1,457.7 617.6,457.6 618.1,457.5 618.6,457.4 619.1,457.3 619.6,457.2 620.1,457.2 620.6,457.1 621.1,457.0 621.6,456.9 622.1,456.8 622.6,456.7 623.1,456.5 623.6,456.4 624.1,456.3 624.6,456.2 625.1,456.1 625.6,456.0 626.1,455.9 626.6,455.7 627.1,455.6 627.6,455.5 628.1,455.4 628.6,455.2 629.1,455.1 629.6,455.0 630.1,454.8 630.6,454.7 631.1,454.5 631.6,454.4 632.1,454.3 632.6,454.1 633.1,454.0 633.6,453.8 634.1,453.7 634.6,453.5 635.1,453.4 635.6,453.3 636.1,453.1 636.6,453.0 637.1,452.8 637.6,452.7 638.1,452.6 638.6,452.4 639.1,452.3 639.6,452.2 640.1,452.0 640.6,451.9 641.1,451.8 641.6,451.7 642.1,451.6 642.6,451.5 643.1,451.4 643.6,451.3 644.1,451.2 644.6,451.1 645.1,451.0 645.6,450.9 646.1,450.8 646.6,450.8 647.1,450.7 647.6,450.6 648.1,450.6 648.6,450.5 649.1,450.5 649.6,450.4 650.1,450.4 650.6,450.4 651.1,450.4 651.6,450.3 652.1,450.3 652.6,450.3 653.1,450.3 653.6,450.3 654.1,450.2 654.6,450.2 655.1,450.2 655.6,450.2 656.1,450.2 656.6,450.1 657.1,450.1 657.6,450.0 658.1,450.0 658.6,449.9 659.1,449.8 659.6,449.7 660.1,449.6 660.6,449.4 661.1,449.2 661.6,449.1 662.1,448.9 662.6,448.6 663.1,448.4 663.6,448.1 664.1,447.8 664.6,447.5 665.1,447.2 665.6,446.8 666.1,446.5 666.6,446.1 667.1,445.7 667.6,445.3 668.1,444.9 668.6,444.6 669.1,444.2 669.6,443.8 670.1,443.5 670.6,443.2 671.1,442.9 671.6,442.6 672.1,442.4 672.6,442.2 673.1,442.0 673.6,441.9 674.1,441.8 674.6,441.7 675.1,441.7 675.6,441.7 676.1,441.7 676.6,441.8 677.1,441.8 677.6,441.9 678.1,441.9 678.6,441.8 679.1,441.8 679.6,441.6 680.1,441.4 680.6,441.0 681.1,440.5 681.6,439.8 682.1,438.9 682.6,437.9 683.1,436.6 683.6,435.0 684.1,433.1 684.6,430.9 685.1,428.4 685.6,425.6 686.1,422.3 686.6,418.7 687.1,414.6 687.6,410.1 688.1,405.2 688.6,399.8 689.1,394.0 689.6,387.7 690.1,381.0 690.6,374.0 691.1,366.5 691.6,358.8 692.1,350.9 692.6,342.7 693.1,334.5 693.6,326.4 694.1,318.4 694.6,310.6 695.1,303.3 695.6,296.6 696.1,290.5 696.6,285.3 697.1,281.0 697.6,277.9 698.1,275.9 698.6,275.2 699.1,275.7 699.6,277.4 700.1,280.2 700.6,284.0 701.1,288.8 701.6,294.5 702.1,301.0 702.6,308.1 703.1,315.7 703.6,323.8 704.1,332.1 704.6,340.5 705.1,349.0 705.6,357.5 706.1,365.8 706.6,373.8 707.1,381.6 707.6,389.0 708.1,396.1 708.6,402.6 709.1,408.8 709.6,414.4 710.1,419.6 710.6,424.4 711.1,428.6 711.6,432.5 712.1,435.9 712.6,438.9 713.1,441.5 713.6,443.9 714.1,445.9 714.6,447.6 715.1,449.1 715.6,450.4 716.1,451.5 716.6,452.5 717.1,453.2 717.6,453.9 718.1,454.5 718.6,455.0 719.1,455.4 719.6,455.7 720.1,456.0 720.6,456.3 721.1,456.5 721.6,456.7 722.1,456.8 722.6,457.0 723.1,457.1 723.6,457.2 724.1,457.3 724.6,457.4 725.1,457.5 725.6,457.6 726.1,457.6 726.6,457.7 727.1,457.8 727.6,457.8 728.1,457.9 728.6,457.9 729.1,458.0 729.6,458.0 730.1,458.1 730.6,458.1 731.1,458.2 731.6,458.2 732.1,458.3 732.6,458.3 733.1,458.3 733.6,458.4 734.1,458.4 734.6,458.4 735.1,458.5 735.6,458.5 736.1,458.5 736.6,458.5 737.1,458.6 737.6,458.6 738.1,458.6 738.6,458.6 739.1,458.7 739.6,458.7 740.1,458.7 740.6,458.7 741.1,458.7 741.6,458.8 742.1,458.8 742.6,458.8 743.1,458.8 743.6,458.8 744.1,458.9 744.6,458.9 745.1,458.9" fill="none" stroke="#d8262a" stroke-width="2.1" stroke-linejoin="round"/>
<rect x="581.1" y="263.8" width="167.4" height="203.2" fill="none" stroke="#111" stroke-width="1.9"/>
<text x="595.0" y="486.4" font-family="Liberation Sans, sans-serif" font-size="14.6" text-anchor="middle" fill="#141414">295</text>
<text x="644.7" y="486.4" font-family="Liberation Sans, sans-serif" font-size="14.6" text-anchor="middle" fill="#141414">290</text>
<text x="694.4" y="486.4" font-family="Liberation Sans, sans-serif" font-size="14.6" text-anchor="middle" fill="#141414">285</text>
<text x="744.0" y="486.4" font-family="Liberation Sans, sans-serif" font-size="14.6" text-anchor="middle" fill="#141414">280</text>
<rect x="597.8" y="280.3" width="3.4" height="3.4" fill="#1616a6"/>
<text x="616.3" y="285.4" font-family="Liberation Sans, sans-serif" font-size="11.2" text-anchor="start" fill="#141414">C 1s</text>
<path d="M588.7,294H610.5" stroke="#dc2428" stroke-width="2"/>
<text x="616.3" y="297.6" font-family="Liberation Sans, sans-serif" font-size="11.2" text-anchor="start" fill="#141414">fit</text>
<rect x="596.1" y="308.8" width="9.3" height="5.9" fill="#f9bcd9" stroke="#e01c70" stroke-width="1.6"/>
<text x="616.3" y="315.4" font-family="Liberation Sans, sans-serif" font-size="11.2" text-anchor="start" fill="#141414">C sp<tspan font-size="8.5" dy="-7.6">2</tspan></text>
<rect x="596.1" y="326.7" width="9.3" height="5.9" fill="#b6f2f2" stroke="#2ac8cc" stroke-width="1.6"/>
<text x="616.3" y="333.3" font-family="Liberation Sans, sans-serif" font-size="11.2" text-anchor="start" fill="#141414">Def Csp<tspan font-size="8.5" dy="-7.6">2</tspan></text>
<rect x="596.1" y="340.6" width="9.3" height="5.9" fill="#fde2cc" stroke="#f08a4c" stroke-width="1.6"/>
<text x="616.3" y="347.2" font-family="Liberation Sans, sans-serif" font-size="11.2" text-anchor="start" fill="#141414">O-C=O</text>
<rect x="596.1" y="353.7" width="9.3" height="5.9" fill="#dccbc4" stroke="#5c2616" stroke-width="1.6"/>
<text x="616.3" y="360.3" font-family="Liberation Sans, sans-serif" font-size="11.2" text-anchor="start" fill="#141414">Shake up</text>
<rect x="725.2" y="266.4" width="18.3" height="22" fill="#fff"/>
<text transform="translate(744.7,283.8) scale(0.8,1)" font-family="Liberation Sans, sans-serif" font-size="19.0" text-anchor="end" fill="#141414">(h)</text>
<path d="M193.2,530.5v5.9M193.2,733.1v-5.5M177.3,530.5v5.9M177.3,733.1v-5.5M161.4,530.5v5.9M161.4,733.1v-5.5M145.5,530.5v11.0M145.5,733.1v-10.0M129.6,530.5v5.9M129.6,733.1v-5.5M113.8,530.5v5.9M113.8,733.1v-5.5M97.9,530.5v5.9M97.9,733.1v-5.5M82.0,530.5v5.9M82.0,733.1v-5.5M66.1,530.5v11.0M66.1,733.1v-10.0M50.3,530.5v5.9M50.3,733.1v-5.5M34.4,530.5v5.9M34.4,733.1v-5.5" stroke="#111" stroke-width="1.5" fill="none"/>
<path d="M120.1,720.8 120.6,719.9 121.1,718.9 121.6,717.9 122.1,716.7 122.6,715.5 123.1,714.2 123.6,712.9 124.1,711.5 124.6,710.0 125.1,708.4 125.6,706.8 126.1,705.1 126.6,703.4 127.1,701.7 127.6,699.9 128.1,698.1 128.6,696.3 129.1,694.6 129.6,692.8 130.1,691.1 130.6,689.4 131.1,687.9 131.6,686.4 132.1,684.9 132.6,683.7 133.1,682.5 133.6,681.4 134.1,680.6 134.6,679.8 135.1,679.3 135.6,678.9 136.1,678.6 136.6,678.6 137.1,678.7 137.6,679.0 138.1,679.4 138.6,680.0 139.1,680.7 139.6,681.5 140.1,682.5 140.6,683.5 141.1,684.7 141.6,686.0 142.1,687.4 142.6,688.8 143.1,690.3 143.6,691.8 144.1,693.4 144.6,695.0 145.1,696.7 145.6,698.3 146.1,699.9 146.6,701.6 147.1,703.2 147.6,704.8 148.1,706.3 148.6,707.8 149.1,709.3 149.6,710.7 150.1,712.0 150.6,713.3 151.1,714.5 151.6,715.7 152.1,716.8 152.6,717.8 153.1,718.8 153.6,719.7 154.1,720.5 154.6,721.3 155.1,722.1 155.6,722.7 156.1,723.3 156.6,723.9 157.1,724.4 157.6,724.9 158.1,725.3 158.6,725.6 159.1,726.0 159.6,726.3 160.1,726.6 160.6,726.8 161.1,727.0 161.6,727.2 162.1,727.4 162.6,727.5 163.1,727.6 163.6,727.8 164.1,727.9 164.1,728.7 120.1,728.7Z" fill="#fcd4be"/>
<path d="M120.1,720.8 120.6,719.9 121.1,718.9 121.6,717.9 122.1,716.7 122.6,715.5 123.1,714.2 123.6,712.9 124.1,711.5 124.6,710.0 125.1,708.4 125.6,706.8 126.1,705.1 126.6,703.4 127.1,701.7 127.6,699.9 128.1,698.1 128.6,696.3 129.1,694.6 129.6,692.8 130.1,691.1 130.6,689.4 131.1,687.9 131.6,686.4 132.1,684.9 132.6,683.7 133.1,682.5 133.6,681.4 134.1,680.6 134.6,679.8 135.1,679.3 135.6,678.9 136.1,678.6 136.6,678.6 137.1,678.7 137.6,679.0 138.1,679.4 138.6,680.0 139.1,680.7 139.6,681.5 140.1,682.5 140.6,683.5 141.1,684.7 141.6,686.0 142.1,687.4 142.6,688.8 143.1,690.3 143.6,691.8 144.1,693.4 144.6,695.0 145.1,696.7 145.6,698.3 146.1,699.9 146.6,701.6 147.1,703.2 147.6,704.8 148.1,706.3 148.6,707.8 149.1,709.3 149.6,710.7 150.1,712.0 150.6,713.3 151.1,714.5 151.6,715.7 152.1,716.8 152.6,717.8 153.1,718.8 153.6,719.7 154.1,720.5 154.6,721.3 155.1,722.1 155.6,722.7 156.1,723.3 156.6,723.9 157.1,724.4 157.6,724.9 158.1,725.3 158.6,725.6 159.1,726.0 159.6,726.3 160.1,726.6 160.6,726.8 161.1,727.0 161.6,727.2 162.1,727.4 162.6,727.5 163.1,727.6 163.6,727.8 164.1,727.9" fill="none" stroke="#f06c2c" stroke-width="1.6" stroke-linejoin="round"/>
<path d="M63.0,728.6 63.5,728.6 64.0,728.6 64.5,728.5 65.0,728.5 65.5,728.5 66.0,728.5 66.5,728.5 67.0,728.5 67.5,728.5 68.0,728.5 68.5,728.5 69.0,728.5 69.5,728.4 70.0,728.4 70.5,728.4 71.0,728.4 71.5,728.3 72.0,728.3 72.5,728.3 73.0,728.2 73.5,728.2 74.0,728.1 74.5,728.1 75.0,728.0 75.5,728.0 76.0,727.9 76.5,727.8 77.0,727.7 77.5,727.6 78.0,727.5 78.5,727.4 79.0,727.2 79.5,727.1 80.0,726.9 80.5,726.7 81.0,726.5 81.5,726.3 82.0,726.1 82.5,725.8 83.0,725.6 83.5,725.3 84.0,724.9 84.5,724.6 85.0,724.2 85.5,723.9 86.0,723.4 86.5,723.0 87.0,722.5 87.5,722.0 88.0,721.5 88.5,721.0 89.0,720.4 89.5,719.8 90.0,719.2 90.5,718.5 91.0,717.8 91.5,717.1 92.0,716.4 92.5,715.7 93.0,714.9 93.5,714.1 94.0,713.3 94.5,712.5 95.0,711.7 95.5,710.9 96.0,710.0 96.5,709.2 97.0,708.4 97.5,707.5 98.0,706.7 98.5,705.9 99.0,705.1 99.5,704.4 100.0,703.6 100.5,702.9 101.0,702.2 101.5,701.6 102.0,701.0 102.5,700.4 103.0,699.9 103.5,699.4 104.0,699.0 104.5,698.7 105.0,698.4 105.5,698.1 106.0,698.0 106.5,697.9 107.0,697.8 107.5,697.8 108.0,697.9 108.5,698.0 109.0,698.1 109.5,698.3 110.0,698.6 110.5,698.9 111.0,699.2 111.5,699.6 112.0,700.0 112.5,700.4 113.0,700.9 113.5,701.4 114.0,702.0 114.5,702.6 115.0,703.2 115.5,703.8 116.0,704.4 116.5,705.1 117.0,705.8 117.5,706.5 118.0,707.2 118.5,707.9 119.0,708.6 119.5,709.3 120.0,710.1 120.5,710.8 121.0,711.5 121.5,712.2 122.0,712.9 122.5,713.6 123.0,714.3 123.5,715.0 124.0,715.7 124.5,716.3 125.0,717.0 125.5,717.6 126.0,718.2 126.5,718.7 127.0,719.3 127.5,719.9 128.0,720.4 128.5,720.9 129.0,721.4 129.5,721.8 130.0,722.3 130.5,722.7 131.0,723.1 131.5,723.5 132.0,723.8 132.5,724.2 133.0,724.5 133.5,724.8 134.0,725.1 134.5,725.3 135.0,725.6 135.5,725.8 136.0,726.0 136.5,726.3 137.0,726.4 137.5,726.6 138.0,726.8 138.5,726.9 139.0,727.1 139.5,727.2 140.0,727.3 140.5,727.4 141.0,727.6 141.5,727.6 142.0,727.7 142.5,727.8 143.0,727.9 143.5,728.0 144.0,728.0 144.5,728.1 145.0,728.1 145.5,728.2 146.0,728.2 146.5,728.2 147.0,728.3 147.5,728.3 148.0,728.3 148.5,728.4 149.0,728.4 149.5,728.4 150.0,728.4 150.5,728.4 151.0,728.5 151.5,728.5 151.5,728.7 63.0,728.7Z" fill="#f8baba"/>
<path d="M63.0,728.6 63.5,728.6 64.0,728.6 64.5,728.5 65.0,728.5 65.5,728.5 66.0,728.5 66.5,728.5 67.0,728.5 67.5,728.5 68.0,728.5 68.5,728.5 69.0,728.5 69.5,728.4 70.0,728.4 70.5,728.4 71.0,728.4 71.5,728.3 72.0,728.3 72.5,728.3 73.0,728.2 73.5,728.2 74.0,728.1 74.5,728.1 75.0,728.0 75.5,728.0 76.0,727.9 76.5,727.8 77.0,727.7 77.5,727.6 78.0,727.5 78.5,727.4 79.0,727.2 79.5,727.1 80.0,726.9 80.5,726.7 81.0,726.5 81.5,726.3 82.0,726.1 82.5,725.8 83.0,725.6 83.5,725.3 84.0,724.9 84.5,724.6 85.0,724.2 85.5,723.9 86.0,723.4 86.5,723.0 87.0,722.5 87.5,722.0 88.0,721.5 88.5,721.0 89.0,720.4 89.5,719.8 90.0,719.2 90.5,718.5 91.0,717.8 91.5,717.1 92.0,716.4 92.5,715.7 93.0,714.9 93.5,714.1 94.0,713.3 94.5,712.5 95.0,711.7 95.5,710.9 96.0,710.0 96.5,709.2 97.0,708.4 97.5,707.5 98.0,706.7 98.5,705.9 99.0,705.1 99.5,704.4 100.0,703.6 100.5,702.9 101.0,702.2 101.5,701.6 102.0,701.0 102.5,700.4 103.0,699.9 103.5,699.4 104.0,699.0 104.5,698.7 105.0,698.4 105.5,698.1 106.0,698.0 106.5,697.9 107.0,697.8 107.5,697.8 108.0,697.9 108.5,698.0 109.0,698.1 109.5,698.3 110.0,698.6 110.5,698.9 111.0,699.2 111.5,699.6 112.0,700.0 112.5,700.4 113.0,700.9 113.5,701.4 114.0,702.0 114.5,702.6 115.0,703.2 115.5,703.8 116.0,704.4 116.5,705.1 117.0,705.8 117.5,706.5 118.0,707.2 118.5,707.9 119.0,708.6 119.5,709.3 120.0,710.1 120.5,710.8 121.0,711.5 121.5,712.2 122.0,712.9 122.5,713.6 123.0,714.3 123.5,715.0 124.0,715.7 124.5,716.3 125.0,717.0 125.5,717.6 126.0,718.2 126.5,718.7 127.0,719.3 127.5,719.9 128.0,720.4 128.5,720.9 129.0,721.4 129.5,721.8 130.0,722.3 130.5,722.7 131.0,723.1 131.5,723.5 132.0,723.8 132.5,724.2 133.0,724.5 133.5,724.8 134.0,725.1 134.5,725.3 135.0,725.6 135.5,725.8 136.0,726.0 136.5,726.3 137.0,726.4 137.5,726.6 138.0,726.8 138.5,726.9 139.0,727.1 139.5,727.2 140.0,727.3 140.5,727.4 141.0,727.6 141.5,727.6 142.0,727.7 142.5,727.8 143.0,727.9 143.5,728.0 144.0,728.0 144.5,728.1 145.0,728.1 145.5,728.2 146.0,728.2 146.5,728.2 147.0,728.3 147.5,728.3 148.0,728.3 148.5,728.4 149.0,728.4 149.5,728.4 150.0,728.4 150.5,728.4 151.0,728.5 151.5,728.5" fill="none" stroke="#e42626" stroke-width="1.6" stroke-linejoin="round"/>
<path d="M45.5,728.2 46.0,728.2 46.5,728.2 47.0,728.1 47.5,728.1 48.0,728.0 48.5,728.0 49.0,727.9 49.5,727.9 50.0,727.8 50.5,727.8 51.0,727.7 51.5,727.6 52.0,727.5 52.5,727.4 53.0,727.4 53.5,727.2 54.0,727.1 54.5,727.0 55.0,726.9 55.5,726.8 56.0,726.6 56.5,726.5 57.0,726.3 57.5,726.2 58.0,726.0 58.5,725.8 59.0,725.6 59.5,725.4 60.0,725.2 60.5,725.0 61.0,724.7 61.5,724.5 62.0,724.2 62.5,723.9 63.0,723.7 63.5,723.4 64.0,723.1 64.5,722.8 65.0,722.5 65.5,722.1 66.0,721.8 66.5,721.4 67.0,721.1 67.5,720.7 68.0,720.4 68.5,720.0 69.0,719.6 69.5,719.2 70.0,718.9 70.5,718.5 71.0,718.1 71.5,717.7 72.0,717.3 72.5,716.9 73.0,716.5 73.5,716.2 74.0,715.8 74.5,715.4 75.0,715.1 75.5,714.7 76.0,714.4 76.5,714.1 77.0,713.8 77.5,713.5 78.0,713.2 78.5,712.9 79.0,712.7 79.5,712.5 80.0,712.3 80.5,712.1 81.0,711.9 81.5,711.8 82.0,711.7 82.5,711.6 83.0,711.5 83.5,711.5 84.0,711.5 84.5,711.5 85.0,711.6 85.5,711.6 86.0,711.7 86.5,711.8 87.0,712.0 87.5,712.1 88.0,712.3 88.5,712.5 89.0,712.8 89.5,713.0 90.0,713.3 90.5,713.6 91.0,713.9 91.5,714.2 92.0,714.5 92.5,714.8 93.0,715.2 93.5,715.5 94.0,715.9 94.5,716.3 95.0,716.7 95.5,717.0 96.0,717.4 96.5,717.8 97.0,718.2 97.5,718.6 98.0,719.0 98.5,719.4 99.0,719.7 99.5,720.1 100.0,720.5 100.5,720.8 101.0,721.2 101.5,721.6 102.0,721.9 102.5,722.2 103.0,722.6 103.5,722.9 104.0,723.2 104.5,723.5 105.0,723.8 105.5,724.0 106.0,724.3 106.5,724.5 107.0,724.8 107.5,725.0 108.0,725.2 108.5,725.5 109.0,725.7 109.5,725.9 110.0,726.0 110.5,726.2 111.0,726.4 111.5,726.5 112.0,726.7 112.5,726.8 113.0,726.9 113.5,727.1 114.0,727.2 114.5,727.3 115.0,727.4 115.5,727.5 116.0,727.6 116.5,727.6 117.0,727.7 117.5,727.8 118.0,727.8 118.5,727.9 119.0,728.0 119.5,728.0 120.0,728.1 120.5,728.1 121.0,728.1 121.5,728.2 121.5,728.7 45.5,728.7Z" fill="#f6b0b6"/>
<path d="M45.5,728.2 46.0,728.2 46.5,728.2 47.0,728.1 47.5,728.1 48.0,728.0 48.5,728.0 49.0,727.9 49.5,727.9 50.0,727.8 50.5,727.8 51.0,727.7 51.5,727.6 52.0,727.5 52.5,727.4 53.0,727.4 53.5,727.2 54.0,727.1 54.5,727.0 55.0,726.9 55.5,726.8 56.0,726.6 56.5,726.5 57.0,726.3 57.5,726.2 58.0,726.0 58.5,725.8 59.0,725.6 59.5,725.4 60.0,725.2 60.5,725.0 61.0,724.7 61.5,724.5 62.0,724.2 62.5,723.9 63.0,723.7 63.5,723.4 64.0,723.1 64.5,722.8 65.0,722.5 65.5,722.1 66.0,721.8 66.5,721.4 67.0,721.1 67.5,720.7 68.0,720.4 68.5,720.0 69.0,719.6 69.5,719.2 70.0,718.9 70.5,718.5 71.0,718.1 71.5,717.7 72.0,717.3 72.5,716.9 73.0,716.5 73.5,716.2 74.0,715.8 74.5,715.4 75.0,715.1 75.5,714.7 76.0,714.4 76.5,714.1 77.0,713.8 77.5,713.5 78.0,713.2 78.5,712.9 79.0,712.7 79.5,712.5 80.0,712.3 80.5,712.1 81.0,711.9 81.5,711.8 82.0,711.7 82.5,711.6 83.0,711.5 83.5,711.5 84.0,711.5 84.5,711.5 85.0,711.6 85.5,711.6 86.0,711.7 86.5,711.8 87.0,712.0 87.5,712.1 88.0,712.3 88.5,712.5 89.0,712.8 89.5,713.0 90.0,713.3 90.5,713.6 91.0,713.9 91.5,714.2 92.0,714.5 92.5,714.8 93.0,715.2 93.5,715.5 94.0,715.9 94.5,716.3 95.0,716.7 95.5,717.0 96.0,717.4 96.5,717.8 97.0,718.2 97.5,718.6 98.0,719.0 98.5,719.4 99.0,719.7 99.5,720.1 100.0,720.5 100.5,720.8 101.0,721.2 101.5,721.6 102.0,721.9 102.5,722.2 103.0,722.6 103.5,722.9 104.0,723.2 104.5,723.5 105.0,723.8 105.5,724.0 106.0,724.3 106.5,724.5 107.0,724.8 107.5,725.0 108.0,725.2 108.5,725.5 109.0,725.7 109.5,725.9 110.0,726.0 110.5,726.2 111.0,726.4 111.5,726.5 112.0,726.7 112.5,726.8 113.0,726.9 113.5,727.1 114.0,727.2 114.5,727.3 115.0,727.4 115.5,727.5 116.0,727.6 116.5,727.6 117.0,727.7 117.5,727.8 118.0,727.8 118.5,727.9 119.0,728.0 119.5,728.0 120.0,728.1 120.5,728.1 121.0,728.1 121.5,728.2" fill="none" stroke="#d42232" stroke-width="1.6" stroke-linejoin="round"/>
<path d="M31.1,725.2h3.0v3.0h-3.0zM31.6,723.9h3.0v3.0h-3.0zM32.1,724.3h3.0v3.0h-3.0zM32.6,723.9h3.0v3.0h-3.0zM33.1,724.9h3.0v3.0h-3.0zM33.6,724.1h3.0v3.0h-3.0zM34.1,723.8h3.0v3.0h-3.0zM34.6,725.3h3.0v3.0h-3.0zM35.1,723.2h3.0v3.0h-3.0zM35.6,724.2h3.0v3.0h-3.0zM36.1,724.1h3.0v3.0h-3.0zM36.6,723.1h3.0v3.0h-3.0zM37.1,725.2h3.0v3.0h-3.0zM37.6,723.2h3.0v3.0h-3.0zM38.1,725.1h3.0v3.0h-3.0zM38.6,725.9h3.0v3.0h-3.0zM39.1,724.2h3.0v3.0h-3.0zM39.6,724.3h3.0v3.0h-3.0zM40.1,726.5h3.0v3.0h-3.0zM40.6,723.8h3.0v3.0h-3.0zM41.1,724.1h3.0v3.0h-3.0zM41.6,723.1h3.0v3.0h-3.0zM42.1,723.8h3.0v3.0h-3.0zM42.6,725.5h3.0v3.0h-3.0zM43.1,726.1h3.0v3.0h-3.0zM43.6,725.5h3.0v3.0h-3.0zM44.1,724.1h3.0v3.0h-3.0zM44.6,723.8h3.0v3.0h-3.0zM45.1,724.8h3.0v3.0h-3.0zM45.6,724.9h3.0v3.0h-3.0zM46.1,725.9h3.0v3.0h-3.0zM46.6,724.4h3.0v3.0h-3.0zM47.1,725.3h3.0v3.0h-3.0zM47.6,723.5h3.0v3.0h-3.0zM48.1,723.8h3.0v3.0h-3.0zM48.6,724.4h3.0v3.0h-3.0zM49.1,722.7h3.0v3.0h-3.0zM49.6,724.7h3.0v3.0h-3.0zM50.1,724.0h3.0v3.0h-3.0zM50.6,726.3h3.0v3.0h-3.0zM51.1,724.5h3.0v3.0h-3.0zM51.6,723.0h3.0v3.0h-3.0zM52.1,722.6h3.0v3.0h-3.0zM52.6,723.4h3.0v3.0h-3.0zM53.1,724.6h3.0v3.0h-3.0zM53.6,724.0h3.0v3.0h-3.0zM54.1,723.2h3.0v3.0h-3.0zM54.6,722.4h3.0v3.0h-3.0zM55.1,722.1h3.0v3.0h-3.0zM55.6,722.2h3.0v3.0h-3.0zM56.1,723.1h3.0v3.0h-3.0zM56.6,722.1h3.0v3.0h-3.0zM57.1,721.6h3.0v3.0h-3.0zM57.6,721.5h3.0v3.0h-3.0zM58.1,722.4h3.0v3.0h-3.0zM58.6,722.3h3.0v3.0h-3.0zM59.1,720.8h3.0v3.0h-3.0zM59.6,722.3h3.0v3.0h-3.0zM60.1,720.1h3.0v3.0h-3.0zM60.6,721.5h3.0v3.0h-3.0zM61.1,718.8h3.0v3.0h-3.0zM61.6,720.3h3.0v3.0h-3.0zM62.1,720.9h3.0v3.0h-3.0zM62.6,719.7h3.0v3.0h-3.0zM63.1,719.4h3.0v3.0h-3.0zM63.6,718.6h3.0v3.0h-3.0zM64.1,720.3h3.0v3.0h-3.0zM64.6,717.7h3.0v3.0h-3.0zM65.1,719.2h3.0v3.0h-3.0zM65.6,717.3h3.0v3.0h-3.0zM66.1,717.8h3.0v3.0h-3.0zM66.6,716.1h3.0v3.0h-3.0zM67.1,716.3h3.0v3.0h-3.0zM67.6,716.7h3.0v3.0h-3.0zM68.1,716.7h3.0v3.0h-3.0zM68.6,716.6h3.0v3.0h-3.0zM69.1,714.6h3.0v3.0h-3.0zM69.6,714.0h3.0v3.0h-3.0zM70.1,714.3h3.0v3.0h-3.0zM70.6,713.6h3.0v3.0h-3.0zM71.1,712.2h3.0v3.0h-3.0zM71.6,711.9h3.0v3.0h-3.0zM72.1,711.6h3.0v3.0h-3.0zM72.6,712.9h3.0v3.0h-3.0zM73.1,714.0h3.0v3.0h-3.0zM73.6,711.0h3.0v3.0h-3.0zM74.1,710.7h3.0v3.0h-3.0zM74.6,711.2h3.0v3.0h-3.0zM75.1,711.4h3.0v3.0h-3.0zM75.6,707.9h3.0v3.0h-3.0zM76.1,711.4h3.0v3.0h-3.0zM76.6,710.4h3.0v3.0h-3.0zM77.1,707.3h3.0v3.0h-3.0zM77.6,709.7h3.0v3.0h-3.0zM78.1,709.0h3.0v3.0h-3.0zM78.6,706.9h3.0v3.0h-3.0zM79.1,708.2h3.0v3.0h-3.0zM79.6,708.2h3.0v3.0h-3.0zM80.1,707.3h3.0v3.0h-3.0zM80.6,704.6h3.0v3.0h-3.0zM81.1,707.8h3.0v3.0h-3.0zM81.6,706.9h3.0v3.0h-3.0zM82.1,704.9h3.0v3.0h-3.0zM82.6,705.8h3.0v3.0h-3.0zM83.1,705.1h3.0v3.0h-3.0zM83.6,705.0h3.0v3.0h-3.0zM84.1,704.6h3.0v3.0h-3.0zM84.6,704.9h3.0v3.0h-3.0zM85.1,704.2h3.0v3.0h-3.0zM85.6,704.4h3.0v3.0h-3.0zM86.1,703.0h3.0v3.0h-3.0zM86.6,703.4h3.0v3.0h-3.0zM87.1,701.4h3.0v3.0h-3.0zM87.6,701.8h3.0v3.0h-3.0zM88.1,701.7h3.0v3.0h-3.0zM88.6,702.5h3.0v3.0h-3.0zM89.1,702.5h3.0v3.0h-3.0zM89.6,701.0h3.0v3.0h-3.0zM90.1,699.6h3.0v3.0h-3.0zM90.6,699.0h3.0v3.0h-3.0zM91.1,700.4h3.0v3.0h-3.0zM91.6,699.3h3.0v3.0h-3.0zM92.1,699.3h3.0v3.0h-3.0zM92.6,698.7h3.0v3.0h-3.0zM93.1,698.1h3.0v3.0h-3.0zM93.6,697.3h3.0v3.0h-3.0zM94.1,695.7h3.0v3.0h-3.0zM94.6,696.4h3.0v3.0h-3.0zM95.1,697.0h3.0v3.0h-3.0zM95.6,695.6h3.0v3.0h-3.0zM96.1,695.9h3.0v3.0h-3.0zM96.6,694.7h3.0v3.0h-3.0zM97.1,696.6h3.0v3.0h-3.0zM97.6,695.9h3.0v3.0h-3.0zM98.1,693.9h3.0v3.0h-3.0zM98.6,692.2h3.0v3.0h-3.0zM99.1,693.0h3.0v3.0h-3.0zM99.6,693.8h3.0v3.0h-3.0zM100.1,692.9h3.0v3.0h-3.0zM100.6,690.8h3.0v3.0h-3.0zM101.1,692.0h3.0v3.0h-3.0zM101.6,693.5h3.0v3.0h-3.0zM102.1,691.4h3.0v3.0h-3.0zM102.6,690.3h3.0v3.0h-3.0zM103.1,691.4h3.0v3.0h-3.0zM103.6,691.5h3.0v3.0h-3.0zM104.1,691.8h3.0v3.0h-3.0zM104.6,691.7h3.0v3.0h-3.0zM105.1,690.3h3.0v3.0h-3.0zM105.6,692.7h3.0v3.0h-3.0zM106.1,692.6h3.0v3.0h-3.0zM106.6,692.5h3.0v3.0h-3.0zM107.1,693.8h3.0v3.0h-3.0zM107.6,693.8h3.0v3.0h-3.0zM108.1,693.0h3.0v3.0h-3.0zM108.6,694.1h3.0v3.0h-3.0zM109.1,693.3h3.0v3.0h-3.0zM109.6,694.0h3.0v3.0h-3.0zM110.1,695.0h3.0v3.0h-3.0zM110.6,696.0h3.0v3.0h-3.0zM111.1,694.4h3.0v3.0h-3.0zM111.6,696.9h3.0v3.0h-3.0zM112.1,697.3h3.0v3.0h-3.0zM112.6,696.3h3.0v3.0h-3.0zM113.1,696.0h3.0v3.0h-3.0zM113.6,698.5h3.0v3.0h-3.0zM114.1,699.0h3.0v3.0h-3.0zM114.6,698.0h3.0v3.0h-3.0zM115.1,700.4h3.0v3.0h-3.0zM115.6,701.3h3.0v3.0h-3.0zM116.1,699.5h3.0v3.0h-3.0zM116.6,700.6h3.0v3.0h-3.0zM117.1,700.7h3.0v3.0h-3.0zM117.6,699.6h3.0v3.0h-3.0zM118.1,701.4h3.0v3.0h-3.0zM118.6,700.9h3.0v3.0h-3.0zM119.1,700.9h3.0v3.0h-3.0zM119.6,700.4h3.0v3.0h-3.0zM120.1,700.2h3.0v3.0h-3.0zM120.6,698.3h3.0v3.0h-3.0zM121.1,698.9h3.0v3.0h-3.0zM121.6,697.2h3.0v3.0h-3.0zM122.1,698.2h3.0v3.0h-3.0zM122.6,695.8h3.0v3.0h-3.0zM123.1,696.1h3.0v3.0h-3.0zM123.6,694.7h3.0v3.0h-3.0zM124.1,692.9h3.0v3.0h-3.0zM124.6,692.1h3.0v3.0h-3.0zM125.1,692.9h3.0v3.0h-3.0zM125.6,691.6h3.0v3.0h-3.0zM126.1,690.8h3.0v3.0h-3.0zM126.6,688.1h3.0v3.0h-3.0zM127.1,687.8h3.0v3.0h-3.0zM127.6,686.9h3.0v3.0h-3.0zM128.1,684.9h3.0v3.0h-3.0zM128.6,684.3h3.0v3.0h-3.0zM129.1,681.5h3.0v3.0h-3.0zM129.6,680.8h3.0v3.0h-3.0zM130.1,680.0h3.0v3.0h-3.0zM130.6,677.4h3.0v3.0h-3.0zM131.1,676.2h3.0v3.0h-3.0zM131.6,675.3h3.0v3.0h-3.0zM132.1,676.1h3.0v3.0h-3.0zM132.6,675.2h3.0v3.0h-3.0zM133.1,675.6h3.0v3.0h-3.0zM133.6,674.8h3.0v3.0h-3.0zM134.1,674.1h3.0v3.0h-3.0zM134.6,674.1h3.0v3.0h-3.0zM135.1,674.8h3.0v3.0h-3.0zM135.6,674.4h3.0v3.0h-3.0zM136.1,675.2h3.0v3.0h-3.0zM136.6,676.0h3.0v3.0h-3.0zM137.1,677.4h3.0v3.0h-3.0zM137.6,678.0h3.0v3.0h-3.0zM138.1,679.7h3.0v3.0h-3.0zM138.6,679.2h3.0v3.0h-3.0zM139.1,681.7h3.0v3.0h-3.0zM139.6,682.9h3.0v3.0h-3.0zM140.1,683.9h3.0v3.0h-3.0zM140.6,684.0h3.0v3.0h-3.0zM141.1,685.6h3.0v3.0h-3.0zM141.6,688.7h3.0v3.0h-3.0zM142.1,690.8h3.0v3.0h-3.0zM142.6,690.9h3.0v3.0h-3.0zM143.1,692.1h3.0v3.0h-3.0zM143.6,693.4h3.0v3.0h-3.0zM144.1,695.0h3.0v3.0h-3.0zM144.6,697.8h3.0v3.0h-3.0zM145.1,700.1h3.0v3.0h-3.0zM145.6,701.1h3.0v3.0h-3.0zM146.1,704.1h3.0v3.0h-3.0zM146.6,704.8h3.0v3.0h-3.0zM147.1,706.1h3.0v3.0h-3.0zM147.6,708.7h3.0v3.0h-3.0zM148.1,709.3h3.0v3.0h-3.0zM148.6,709.5h3.0v3.0h-3.0zM149.1,712.0h3.0v3.0h-3.0zM149.6,712.4h3.0v3.0h-3.0zM150.1,713.0h3.0v3.0h-3.0zM150.6,716.0h3.0v3.0h-3.0zM151.1,714.9h3.0v3.0h-3.0zM151.6,716.3h3.0v3.0h-3.0zM152.1,716.3h3.0v3.0h-3.0zM152.6,716.9h3.0v3.0h-3.0zM153.1,719.9h3.0v3.0h-3.0zM153.6,719.7h3.0v3.0h-3.0zM154.1,720.7h3.0v3.0h-3.0zM154.6,722.5h3.0v3.0h-3.0zM155.1,720.3h3.0v3.0h-3.0zM155.6,722.1h3.0v3.0h-3.0zM156.1,722.7h3.0v3.0h-3.0zM156.6,722.9h3.0v3.0h-3.0zM157.1,724.3h3.0v3.0h-3.0zM157.6,724.5h3.0v3.0h-3.0zM158.1,724.9h3.0v3.0h-3.0zM158.6,725.5h3.0v3.0h-3.0zM159.1,724.8h3.0v3.0h-3.0zM159.6,726.2h3.0v3.0h-3.0zM160.1,725.2h3.0v3.0h-3.0zM160.6,724.2h3.0v3.0h-3.0zM161.1,725.6h3.0v3.0h-3.0zM161.6,724.1h3.0v3.0h-3.0zM162.1,727.1h3.0v3.0h-3.0zM162.6,726.5h3.0v3.0h-3.0zM163.1,726.6h3.0v3.0h-3.0zM163.6,725.1h3.0v3.0h-3.0zM164.1,727.7h3.0v3.0h-3.0zM164.6,727.5h3.0v3.0h-3.0zM165.1,725.7h3.0v3.0h-3.0zM165.6,727.2h3.0v3.0h-3.0zM166.1,726.9h3.0v3.0h-3.0zM166.6,727.1h3.0v3.0h-3.0zM167.1,726.9h3.0v3.0h-3.0zM167.6,727.5h3.0v3.0h-3.0zM168.1,726.0h3.0v3.0h-3.0zM168.6,726.1h3.0v3.0h-3.0zM169.1,727.0h3.0v3.0h-3.0zM169.6,727.3h3.0v3.0h-3.0zM170.1,727.2h3.0v3.0h-3.0zM170.6,727.3h3.0v3.0h-3.0zM171.1,726.1h3.0v3.0h-3.0zM171.6,725.9h3.0v3.0h-3.0zM172.1,728.1h3.0v3.0h-3.0zM172.6,726.1h3.0v3.0h-3.0zM173.1,726.5h3.0v3.0h-3.0zM173.6,726.7h3.0v3.0h-3.0zM174.1,726.2h3.0v3.0h-3.0zM174.6,727.7h3.0v3.0h-3.0zM175.1,726.3h3.0v3.0h-3.0zM175.6,727.5h3.0v3.0h-3.0zM176.1,727.7h3.0v3.0h-3.0zM176.6,726.4h3.0v3.0h-3.0zM177.1,726.1h3.0v3.0h-3.0zM177.6,726.4h3.0v3.0h-3.0zM178.1,727.6h3.0v3.0h-3.0zM178.6,727.9h3.0v3.0h-3.0zM179.1,726.5h3.0v3.0h-3.0zM179.6,727.8h3.0v3.0h-3.0zM180.1,727.9h3.0v3.0h-3.0zM180.6,726.2h3.0v3.0h-3.0zM181.1,725.9h3.0v3.0h-3.0zM181.6,725.7h3.0v3.0h-3.0zM182.1,726.5h3.0v3.0h-3.0zM182.6,727.7h3.0v3.0h-3.0zM183.1,728.1h3.0v3.0h-3.0zM183.6,727.5h3.0v3.0h-3.0zM184.1,726.3h3.0v3.0h-3.0zM184.6,726.0h3.0v3.0h-3.0zM185.1,725.1h3.0v3.0h-3.0zM185.6,725.5h3.0v3.0h-3.0zM186.1,727.2h3.0v3.0h-3.0zM186.6,726.2h3.0v3.0h-3.0zM187.1,726.5h3.0v3.0h-3.0zM187.6,727.3h3.0v3.0h-3.0zM188.1,728.6h3.0v3.0h-3.0zM188.6,727.2h3.0v3.0h-3.0zM189.1,728.3h3.0v3.0h-3.0zM189.6,727.3h3.0v3.0h-3.0zM190.1,728.0h3.0v3.0h-3.0zM190.6,726.6h3.0v3.0h-3.0zM191.1,727.3h3.0v3.0h-3.0zM191.6,727.2h3.0v3.0h-3.0zM192.1,726.3h3.0v3.0h-3.0z" fill="#1616a6"/>
<path d="M32.1,726.3 32.6,726.3 33.1,726.3 33.6,726.3 34.1,726.3 34.6,726.3 35.1,726.3 35.6,726.3 36.1,726.3 36.6,726.3 37.1,726.2 37.6,726.2 38.1,726.2 38.6,726.2 39.1,726.2 39.6,726.2 40.1,726.2 40.6,726.2 41.1,726.2 41.6,726.2 42.1,726.1 42.6,726.1 43.1,726.1 43.6,726.1 44.1,726.1 44.6,726.0 45.1,726.0 45.6,726.0 46.1,726.0 46.6,725.9 47.1,725.9 47.6,725.9 48.1,725.8 48.6,725.8 49.1,725.7 49.6,725.7 50.1,725.6 50.6,725.5 51.1,725.5 51.6,725.4 52.1,725.3 52.6,725.2 53.1,725.2 53.6,725.1 54.1,725.0 54.6,724.8 55.1,724.7 55.6,724.6 56.1,724.5 56.6,724.3 57.1,724.2 57.6,724.0 58.1,723.9 58.6,723.7 59.1,723.5 59.6,723.3 60.1,723.1 60.6,722.9 61.1,722.7 61.6,722.4 62.1,722.2 62.6,721.9 63.1,721.7 63.6,721.4 64.1,721.1 64.6,720.8 65.1,720.5 65.6,720.2 66.1,719.9 66.6,719.6 67.1,719.2 67.6,718.9 68.1,718.5 68.6,718.2 69.1,717.8 69.6,717.4 70.1,717.1 70.6,716.7 71.1,716.3 71.6,715.9 72.1,715.5 72.6,715.2 73.1,714.8 73.6,714.4 74.1,714.0 74.6,713.6 75.1,713.2 75.6,712.8 76.1,712.5 76.6,712.1 77.1,711.7 77.6,711.4 78.1,711.0 78.6,710.6 79.1,710.3 79.6,710.0 80.1,709.6 80.6,709.3 81.1,709.0 81.6,708.6 82.1,708.3 82.6,708.0 83.1,707.7 83.6,707.4 84.1,707.1 84.6,706.8 85.1,706.5 85.6,706.2 86.1,705.9 86.6,705.6 87.1,705.3 87.6,704.9 88.1,704.6 88.6,704.3 89.1,704.0 89.6,703.6 90.1,703.3 90.6,702.9 91.1,702.5 91.6,702.1 92.1,701.8 92.6,701.3 93.1,700.9 93.6,700.5 94.1,700.1 94.6,699.7 95.1,699.2 95.6,698.8 96.1,698.3 96.6,697.9 97.1,697.4 97.6,697.0 98.1,696.6 98.6,696.2 99.1,695.8 99.6,695.4 100.1,695.0 100.6,694.7 101.1,694.4 101.6,694.1 102.1,693.8 102.6,693.6 103.1,693.4 103.6,693.3 104.1,693.2 104.6,693.1 105.1,693.1 105.6,693.1 106.1,693.2 106.6,693.4 107.1,693.5 107.6,693.8 108.1,694.0 108.6,694.3 109.1,694.6 109.6,695.0 110.1,695.3 110.6,695.7 111.1,696.1 111.6,696.6 112.1,697.0 112.6,697.5 113.1,697.9 113.6,698.4 114.1,698.8 114.6,699.2 115.1,699.7 115.6,700.1 116.1,700.4 116.6,700.8 117.1,701.1 117.6,701.3 118.1,701.5 118.6,701.7 119.1,701.8 119.6,701.8 120.1,701.7 120.6,701.6 121.1,701.4 121.6,701.1 122.1,700.7 122.6,700.2 123.1,699.7 123.6,699.0 124.1,698.3 124.6,697.5 125.1,696.6 125.6,695.6 126.1,694.5 126.6,693.4 127.1,692.2 127.6,691.0 128.1,689.7 128.6,688.5 129.1,687.2 129.6,685.9 130.1,684.6 130.6,683.4 131.1,682.2 131.6,681.1 132.1,680.0 132.6,679.1 133.1,678.2 133.6,677.5 134.1,676.9 134.6,676.4 135.1,676.1 135.6,675.9 136.1,675.9 136.6,676.1 137.1,676.4 137.6,676.8 138.1,677.4 138.6,678.1 139.1,678.9 139.6,679.9 140.1,681.0 140.6,682.2 141.1,683.4 141.6,684.8 142.1,686.2 142.6,687.7 143.1,689.3 143.6,690.9 144.1,692.6 144.6,694.2 145.1,695.9 145.6,697.6 146.1,699.3 146.6,700.9 147.1,702.6 147.6,704.2 148.1,705.8 148.6,707.3 149.1,708.8 149.6,710.2 150.1,711.6 150.6,712.9 151.1,714.1 151.6,715.3 152.1,716.4 152.6,717.5 153.1,718.5 153.6,719.4 154.1,720.3 154.6,721.0 155.1,721.8 155.6,722.5 156.1,723.1 156.6,723.6 157.1,724.2 157.6,724.6 158.1,725.0 158.6,725.4 159.1,725.8 159.6,726.1 160.1,726.4 160.6,726.6 161.1,726.8 161.6,727.0 162.1,727.2 162.6,727.3 163.1,727.5 163.6,727.6 164.1,727.7 164.6,727.8 165.1,727.9 165.6,727.9 166.1,728.0 166.6,728.0 167.1,728.1 167.6,728.1 168.1,728.2 168.6,728.2 169.1,728.2 169.6,728.2 170.1,728.3 170.6,728.3 171.1,728.3 171.6,728.3 172.1,728.3 172.6,728.3 173.1,728.4 173.6,728.4 174.1,728.4 174.6,728.4 175.1,728.4 175.6,728.4 176.1,728.4 176.6,728.4 177.1,728.4 177.6,728.4 178.1,728.4 178.6,728.4 179.1,728.4 179.6,728.4 180.1,728.4 180.6,728.5 181.1,728.5 181.6,728.5 182.1,728.5 182.6,728.5 183.1,728.5 183.6,728.5 184.1,728.5 184.6,728.5 185.1,728.5 185.6,728.5 186.1,728.5 186.6,728.5 187.1,728.5 187.6,728.5 188.1,728.5 188.6,728.5 189.1,728.5 189.6,728.5 190.1,728.5 190.6,728.5 191.1,728.5 191.6,728.5 192.1,728.5 192.6,728.5 193.1,728.5 193.6,728.5 194.1,728.5" fill="none" stroke="#d8262a" stroke-width="2.0" stroke-linejoin="round"/>
<rect x="30.1" y="530.5" width="167.5" height="202.6" fill="none" stroke="#111" stroke-width="1.9"/>
<text x="66.1" y="753.3" font-family="Liberation Sans, sans-serif" font-size="14.6" text-anchor="middle" fill="#141414">535</text>
<text x="145.5" y="753.3" font-family="Liberation Sans, sans-serif" font-size="14.6" text-anchor="middle" fill="#141414">530</text>
<rect x="47.2" y="546.1" width="3.4" height="3.4" fill="#1616a6"/>
<text x="65.4" y="551.2" font-family="Liberation Sans, sans-serif" font-size="11.2" text-anchor="start" fill="#141414">O 1s</text>
<path d="M38.3,560.7H59.8" stroke="#dc2428" stroke-width="2"/>
<text x="65.4" y="564.3" font-family="Liberation Sans, sans-serif" font-size="11.2" text-anchor="start" fill="#141414">fit</text>
<rect x="45" y="571.1" width="9.3" height="5.9" fill="#fcd4be" stroke="#f06c2c" stroke-width="1.6"/>
<text x="65.4" y="577.7" font-family="Liberation Sans, sans-serif" font-size="11.2" text-anchor="start" fill="#141414">CuO</text>
<rect x="45" y="584.2" width="9.3" height="5.9" fill="#f8baba" stroke="#e42626" stroke-width="1.6"/>
<text x="65.4" y="590.8" font-family="Liberation Sans, sans-serif" font-size="11.2" text-anchor="start" fill="#141414">C-O contam.</text>
<rect x="45" y="597.1" width="9.3" height="5.9" fill="#f6b0b6" stroke="#d42232" stroke-width="1.6"/>
<text x="65.4" y="603.7" font-family="Liberation Sans, sans-serif" font-size="11.2" text-anchor="start" fill="#141414">H<tspan font-size="8.5" dy="3">2</tspan><tspan dy="-3">O</tspan></text>
<rect x="177.5" y="533.1" width="13.2" height="21.5" fill="#fff"/>
<text transform="translate(191.9,550.0) scale(0.8,1)" font-family="Liberation Sans, sans-serif" font-size="19.0" text-anchor="end" fill="#141414">(i)</text>
<path d="M379.9,530.5v5.9M379.9,733.1v-5.5M364.2,530.5v5.9M364.2,733.1v-5.5M348.5,530.5v5.9M348.5,733.1v-5.5M332.8,530.5v11.0M332.8,733.1v-10.0M317.2,530.5v5.9M317.2,733.1v-5.5M301.5,530.5v5.9M301.5,733.1v-5.5M285.8,530.5v5.9M285.8,733.1v-5.5M270.1,530.5v5.9M270.1,733.1v-5.5M254.4,530.5v11.0M254.4,733.1v-10.0M238.7,530.5v5.9M238.7,733.1v-5.5M223.0,530.5v5.9M223.0,733.1v-5.5" stroke="#111" stroke-width="1.5" fill="none"/>
<path d="M307.7,719.4 308.2,718.5 308.7,717.5 309.2,716.4 309.7,715.2 310.2,713.9 310.7,712.4 311.2,710.9 311.7,709.2 312.2,707.5 312.7,705.6 313.2,703.6 313.7,701.5 314.2,699.3 314.7,697.0 315.2,694.6 315.7,692.2 316.2,689.7 316.7,687.2 317.2,684.7 317.7,682.2 318.2,679.7 318.7,677.4 319.2,675.1 319.7,672.9 320.2,670.9 320.7,669.1 321.2,667.4 321.7,666.0 322.2,664.9 322.7,664.0 323.2,663.5 323.7,663.2 324.2,663.3 324.7,663.6 325.2,664.1 325.7,665.0 326.2,666.0 326.7,667.3 327.2,668.7 327.7,670.4 328.2,672.2 328.7,674.1 329.2,676.2 329.7,678.3 330.2,680.5 330.7,682.8 331.2,685.1 331.7,687.4 332.2,689.7 332.7,692.0 333.2,694.2 333.7,696.4 334.2,698.5 334.7,700.6 335.2,702.5 335.7,704.4 336.2,706.2 336.7,707.9 337.2,709.5 337.7,711.1 338.2,712.5 338.7,713.8 339.2,715.0 339.7,716.1 340.2,717.2 340.7,718.1 341.2,719.0 341.7,719.7 342.2,720.5 342.7,721.1 343.2,721.7 343.7,722.2 344.2,722.6 344.7,723.1 345.2,723.4 345.7,723.8 346.2,724.0 346.7,724.3 347.2,724.5 347.7,724.7 348.2,724.9 348.7,725.1 349.2,725.2 349.7,725.3 350.2,725.4 350.7,725.5 351.2,725.6 351.7,725.7 352.2,725.8 352.7,725.8 353.2,725.9 353.7,725.9 354.2,726.0 354.7,726.0 355.2,726.1 355.7,726.1 356.2,726.2 356.7,726.2 357.2,726.2 357.7,726.2 357.7,727.2 307.7,727.2Z" fill="#fcd4be"/>
<path d="M307.7,719.4 308.2,718.5 308.7,717.5 309.2,716.4 309.7,715.2 310.2,713.9 310.7,712.4 311.2,710.9 311.7,709.2 312.2,707.5 312.7,705.6 313.2,703.6 313.7,701.5 314.2,699.3 314.7,697.0 315.2,694.6 315.7,692.2 316.2,689.7 316.7,687.2 317.2,684.7 317.7,682.2 318.2,679.7 318.7,677.4 319.2,675.1 319.7,672.9 320.2,670.9 320.7,669.1 321.2,667.4 321.7,666.0 322.2,664.9 322.7,664.0 323.2,663.5 323.7,663.2 324.2,663.3 324.7,663.6 325.2,664.1 325.7,665.0 326.2,666.0 326.7,667.3 327.2,668.7 327.7,670.4 328.2,672.2 328.7,674.1 329.2,676.2 329.7,678.3 330.2,680.5 330.7,682.8 331.2,685.1 331.7,687.4 332.2,689.7 332.7,692.0 333.2,694.2 333.7,696.4 334.2,698.5 334.7,700.6 335.2,702.5 335.7,704.4 336.2,706.2 336.7,707.9 337.2,709.5 337.7,711.1 338.2,712.5 338.7,713.8 339.2,715.0 339.7,716.1 340.2,717.2 340.7,718.1 341.2,719.0 341.7,719.7 342.2,720.5 342.7,721.1 343.2,721.7 343.7,722.2 344.2,722.6 344.7,723.1 345.2,723.4 345.7,723.8 346.2,724.0 346.7,724.3 347.2,724.5 347.7,724.7 348.2,724.9 348.7,725.1 349.2,725.2 349.7,725.3 350.2,725.4 350.7,725.5 351.2,725.6 351.7,725.7 352.2,725.8 352.7,725.8 353.2,725.9 353.7,725.9 354.2,726.0 354.7,726.0 355.2,726.1 355.7,726.1 356.2,726.2 356.7,726.2 357.2,726.2 357.7,726.2" fill="none" stroke="#f06c2c" stroke-width="1.6" stroke-linejoin="round"/>
<path d="M277.9,727.1 278.4,727.1 278.9,727.1 279.4,727.1 279.9,727.1 280.4,727.0 280.9,727.0 281.4,727.0 281.9,726.9 282.4,726.9 282.9,726.9 283.4,726.8 283.9,726.8 284.4,726.7 284.9,726.6 285.4,726.6 285.9,726.5 286.4,726.4 286.9,726.3 287.4,726.2 287.9,726.0 288.4,725.9 288.9,725.8 289.4,725.6 289.9,725.4 290.4,725.2 290.9,725.0 291.4,724.8 291.9,724.6 292.4,724.4 292.9,724.2 293.4,723.9 293.9,723.7 294.4,723.4 294.9,723.2 295.4,722.9 295.9,722.7 296.4,722.4 296.9,722.2 297.4,722.0 297.9,721.7 298.4,721.5 298.9,721.3 299.4,721.2 299.9,721.0 300.4,720.9 300.9,720.7 301.4,720.6 301.9,720.6 302.4,720.5 302.9,720.5 303.4,720.5 303.9,720.5 304.4,720.6 304.9,720.6 305.4,720.7 305.9,720.7 306.4,720.8 306.9,720.9 307.4,721.1 307.9,721.2 308.4,721.3 308.9,721.5 309.4,721.6 309.9,721.8 310.4,721.9 310.9,722.1 311.4,722.3 311.9,722.5 312.4,722.7 312.9,722.9 313.4,723.0 313.9,723.2 314.4,723.4 314.9,723.6 315.4,723.8 315.9,724.0 316.4,724.2 316.9,724.3 317.4,724.5 317.9,724.7 318.4,724.8 318.9,725.0 319.4,725.1 319.9,725.3 320.4,725.4 320.9,725.5 321.4,725.7 321.9,725.8 322.4,725.9 322.9,726.0 323.4,726.1 323.9,726.2 324.4,726.3 324.9,726.3 325.4,726.4 325.9,726.5 326.4,726.6 326.9,726.6 327.4,726.7 327.9,726.7 328.4,726.8 328.9,726.8 329.4,726.8 329.9,726.9 330.4,726.9 330.9,726.9 331.4,727.0 331.9,727.0 332.4,727.0 332.9,727.0 333.4,727.0 333.9,727.1 334.4,727.1 334.9,727.1 335.4,727.1 335.9,727.1 336.4,727.1 336.9,727.1 337.4,727.1 337.9,727.1 338.4,727.1 338.9,727.1 339.4,727.1 339.9,727.1 340.4,727.2 340.4,727.2 277.9,727.2Z" fill="#dadec6"/>
<path d="M277.9,727.1 278.4,727.1 278.9,727.1 279.4,727.1 279.9,727.1 280.4,727.0 280.9,727.0 281.4,727.0 281.9,726.9 282.4,726.9 282.9,726.9 283.4,726.8 283.9,726.8 284.4,726.7 284.9,726.6 285.4,726.6 285.9,726.5 286.4,726.4 286.9,726.3 287.4,726.2 287.9,726.0 288.4,725.9 288.9,725.8 289.4,725.6 289.9,725.4 290.4,725.2 290.9,725.0 291.4,724.8 291.9,724.6 292.4,724.4 292.9,724.2 293.4,723.9 293.9,723.7 294.4,723.4 294.9,723.2 295.4,722.9 295.9,722.7 296.4,722.4 296.9,722.2 297.4,722.0 297.9,721.7 298.4,721.5 298.9,721.3 299.4,721.2 299.9,721.0 300.4,720.9 300.9,720.7 301.4,720.6 301.9,720.6 302.4,720.5 302.9,720.5 303.4,720.5 303.9,720.5 304.4,720.6 304.9,720.6 305.4,720.7 305.9,720.7 306.4,720.8 306.9,720.9 307.4,721.1 307.9,721.2 308.4,721.3 308.9,721.5 309.4,721.6 309.9,721.8 310.4,721.9 310.9,722.1 311.4,722.3 311.9,722.5 312.4,722.7 312.9,722.9 313.4,723.0 313.9,723.2 314.4,723.4 314.9,723.6 315.4,723.8 315.9,724.0 316.4,724.2 316.9,724.3 317.4,724.5 317.9,724.7 318.4,724.8 318.9,725.0 319.4,725.1 319.9,725.3 320.4,725.4 320.9,725.5 321.4,725.7 321.9,725.8 322.4,725.9 322.9,726.0 323.4,726.1 323.9,726.2 324.4,726.3 324.9,726.3 325.4,726.4 325.9,726.5 326.4,726.6 326.9,726.6 327.4,726.7 327.9,726.7 328.4,726.8 328.9,726.8 329.4,726.8 329.9,726.9 330.4,726.9 330.9,726.9 331.4,727.0 331.9,727.0 332.4,727.0 332.9,727.0 333.4,727.0 333.9,727.1 334.4,727.1 334.9,727.1 335.4,727.1 335.9,727.1 336.4,727.1 336.9,727.1 337.4,727.1 337.9,727.1 338.4,727.1 338.9,727.1 339.4,727.1 339.9,727.1 340.4,727.2" fill="none" stroke="#70721a" stroke-width="1.6" stroke-linejoin="round"/>
<path d="M219.8,726.4h3.0v3.0h-3.0zM220.3,726.7h3.0v3.0h-3.0zM220.8,725.4h3.0v3.0h-3.0zM221.3,725.8h3.0v3.0h-3.0zM221.8,725.3h3.0v3.0h-3.0zM222.3,725.7h3.0v3.0h-3.0zM222.8,725.8h3.0v3.0h-3.0zM223.3,725.2h3.0v3.0h-3.0zM223.8,726.7h3.0v3.0h-3.0zM224.3,725.2h3.0v3.0h-3.0zM224.8,727.3h3.0v3.0h-3.0zM225.3,726.1h3.0v3.0h-3.0zM225.8,726.2h3.0v3.0h-3.0zM226.3,726.1h3.0v3.0h-3.0zM226.8,724.5h3.0v3.0h-3.0zM227.3,725.0h3.0v3.0h-3.0zM227.8,725.9h3.0v3.0h-3.0zM228.3,725.7h3.0v3.0h-3.0zM228.8,724.9h3.0v3.0h-3.0zM229.3,725.9h3.0v3.0h-3.0zM229.8,725.1h3.0v3.0h-3.0zM230.3,727.1h3.0v3.0h-3.0zM230.8,724.6h3.0v3.0h-3.0zM231.3,725.1h3.0v3.0h-3.0zM231.8,725.0h3.0v3.0h-3.0zM232.3,728.0h3.0v3.0h-3.0zM232.8,725.6h3.0v3.0h-3.0zM233.3,725.1h3.0v3.0h-3.0zM233.8,724.8h3.0v3.0h-3.0zM234.3,724.2h3.0v3.0h-3.0zM234.8,725.0h3.0v3.0h-3.0zM235.3,726.8h3.0v3.0h-3.0zM235.8,723.9h3.0v3.0h-3.0zM236.3,726.0h3.0v3.0h-3.0zM236.8,725.4h3.0v3.0h-3.0zM237.3,725.3h3.0v3.0h-3.0zM237.8,727.2h3.0v3.0h-3.0zM238.3,725.5h3.0v3.0h-3.0zM238.8,725.5h3.0v3.0h-3.0zM239.3,725.4h3.0v3.0h-3.0zM239.8,725.8h3.0v3.0h-3.0zM240.3,725.8h3.0v3.0h-3.0zM240.8,725.6h3.0v3.0h-3.0zM241.3,726.4h3.0v3.0h-3.0zM241.8,724.5h3.0v3.0h-3.0zM242.3,725.9h3.0v3.0h-3.0zM242.8,726.0h3.0v3.0h-3.0zM243.3,725.0h3.0v3.0h-3.0zM243.8,727.2h3.0v3.0h-3.0zM244.3,724.0h3.0v3.0h-3.0zM244.8,725.6h3.0v3.0h-3.0zM245.3,726.2h3.0v3.0h-3.0zM245.8,725.5h3.0v3.0h-3.0zM246.3,725.6h3.0v3.0h-3.0zM246.8,723.5h3.0v3.0h-3.0zM247.3,724.6h3.0v3.0h-3.0zM247.8,724.5h3.0v3.0h-3.0zM248.3,724.6h3.0v3.0h-3.0zM248.8,725.9h3.0v3.0h-3.0zM249.3,723.7h3.0v3.0h-3.0zM249.8,725.2h3.0v3.0h-3.0zM250.3,725.8h3.0v3.0h-3.0zM250.8,726.1h3.0v3.0h-3.0zM251.3,725.7h3.0v3.0h-3.0zM251.8,725.5h3.0v3.0h-3.0zM252.3,725.5h3.0v3.0h-3.0zM252.8,725.4h3.0v3.0h-3.0zM253.3,725.6h3.0v3.0h-3.0zM253.8,725.9h3.0v3.0h-3.0zM254.3,726.0h3.0v3.0h-3.0zM254.8,726.7h3.0v3.0h-3.0zM255.3,726.7h3.0v3.0h-3.0zM255.8,725.1h3.0v3.0h-3.0zM256.3,725.5h3.0v3.0h-3.0zM256.8,725.3h3.0v3.0h-3.0zM257.3,727.1h3.0v3.0h-3.0zM257.8,726.5h3.0v3.0h-3.0zM258.3,725.1h3.0v3.0h-3.0zM258.8,726.5h3.0v3.0h-3.0zM259.3,725.6h3.0v3.0h-3.0zM259.8,725.2h3.0v3.0h-3.0zM260.3,724.8h3.0v3.0h-3.0zM260.8,725.6h3.0v3.0h-3.0zM261.3,724.3h3.0v3.0h-3.0zM261.8,725.7h3.0v3.0h-3.0zM262.3,727.0h3.0v3.0h-3.0zM262.8,726.0h3.0v3.0h-3.0zM263.3,723.8h3.0v3.0h-3.0zM263.8,724.6h3.0v3.0h-3.0zM264.3,725.3h3.0v3.0h-3.0zM264.8,725.3h3.0v3.0h-3.0zM265.3,726.1h3.0v3.0h-3.0zM265.8,723.4h3.0v3.0h-3.0zM266.3,726.1h3.0v3.0h-3.0zM266.8,724.9h3.0v3.0h-3.0zM267.3,725.8h3.0v3.0h-3.0zM267.8,725.7h3.0v3.0h-3.0zM268.3,726.6h3.0v3.0h-3.0zM268.8,724.0h3.0v3.0h-3.0zM269.3,725.5h3.0v3.0h-3.0zM269.8,724.3h3.0v3.0h-3.0zM270.3,723.6h3.0v3.0h-3.0zM270.8,724.7h3.0v3.0h-3.0zM271.3,725.4h3.0v3.0h-3.0zM271.8,726.0h3.0v3.0h-3.0zM272.3,723.0h3.0v3.0h-3.0zM272.8,726.6h3.0v3.0h-3.0zM273.3,724.8h3.0v3.0h-3.0zM273.8,726.4h3.0v3.0h-3.0zM274.3,726.8h3.0v3.0h-3.0zM274.8,726.4h3.0v3.0h-3.0zM275.3,723.0h3.0v3.0h-3.0zM275.8,724.7h3.0v3.0h-3.0zM276.3,725.0h3.0v3.0h-3.0zM276.8,724.5h3.0v3.0h-3.0zM277.3,724.2h3.0v3.0h-3.0zM277.8,726.3h3.0v3.0h-3.0zM278.3,723.9h3.0v3.0h-3.0zM278.8,724.9h3.0v3.0h-3.0zM279.3,725.6h3.0v3.0h-3.0zM279.8,724.6h3.0v3.0h-3.0zM280.3,725.2h3.0v3.0h-3.0zM280.8,723.7h3.0v3.0h-3.0zM281.3,725.1h3.0v3.0h-3.0zM281.8,725.7h3.0v3.0h-3.0zM282.3,724.2h3.0v3.0h-3.0zM282.8,725.6h3.0v3.0h-3.0zM283.3,724.7h3.0v3.0h-3.0zM283.8,724.6h3.0v3.0h-3.0zM284.3,723.8h3.0v3.0h-3.0zM284.8,723.5h3.0v3.0h-3.0zM285.3,723.9h3.0v3.0h-3.0zM285.8,724.1h3.0v3.0h-3.0zM286.3,723.4h3.0v3.0h-3.0zM286.8,723.4h3.0v3.0h-3.0zM287.3,725.1h3.0v3.0h-3.0zM287.8,723.5h3.0v3.0h-3.0zM288.3,721.2h3.0v3.0h-3.0zM288.8,721.9h3.0v3.0h-3.0zM289.3,722.7h3.0v3.0h-3.0zM289.8,721.5h3.0v3.0h-3.0zM290.3,722.1h3.0v3.0h-3.0zM290.8,723.6h3.0v3.0h-3.0zM291.3,720.3h3.0v3.0h-3.0zM291.8,723.1h3.0v3.0h-3.0zM292.3,720.6h3.0v3.0h-3.0zM292.8,720.6h3.0v3.0h-3.0zM293.3,720.8h3.0v3.0h-3.0zM293.8,719.6h3.0v3.0h-3.0zM294.3,718.7h3.0v3.0h-3.0zM294.8,719.5h3.0v3.0h-3.0zM295.3,718.2h3.0v3.0h-3.0zM295.8,719.8h3.0v3.0h-3.0zM296.3,718.8h3.0v3.0h-3.0zM296.8,715.9h3.0v3.0h-3.0zM297.3,718.5h3.0v3.0h-3.0zM297.8,717.1h3.0v3.0h-3.0zM298.3,718.2h3.0v3.0h-3.0zM298.8,716.9h3.0v3.0h-3.0zM299.3,718.5h3.0v3.0h-3.0zM299.8,716.8h3.0v3.0h-3.0zM300.3,716.8h3.0v3.0h-3.0zM300.8,716.1h3.0v3.0h-3.0zM301.3,716.2h3.0v3.0h-3.0zM301.8,716.3h3.0v3.0h-3.0zM302.3,715.5h3.0v3.0h-3.0zM302.8,715.4h3.0v3.0h-3.0zM303.3,714.2h3.0v3.0h-3.0zM303.8,715.9h3.0v3.0h-3.0zM304.3,713.2h3.0v3.0h-3.0zM304.8,714.6h3.0v3.0h-3.0zM305.3,712.5h3.0v3.0h-3.0zM305.8,713.7h3.0v3.0h-3.0zM306.3,712.2h3.0v3.0h-3.0zM306.8,712.1h3.0v3.0h-3.0zM307.3,709.6h3.0v3.0h-3.0zM307.8,709.3h3.0v3.0h-3.0zM308.3,707.8h3.0v3.0h-3.0zM308.8,706.3h3.0v3.0h-3.0zM309.3,706.6h3.0v3.0h-3.0zM309.8,705.0h3.0v3.0h-3.0zM310.3,703.6h3.0v3.0h-3.0zM310.8,701.3h3.0v3.0h-3.0zM311.3,699.7h3.0v3.0h-3.0zM311.8,697.1h3.0v3.0h-3.0zM312.3,697.1h3.0v3.0h-3.0zM312.8,694.0h3.0v3.0h-3.0zM313.3,692.3h3.0v3.0h-3.0zM313.8,690.8h3.0v3.0h-3.0zM314.3,687.3h3.0v3.0h-3.0zM314.8,682.8h3.0v3.0h-3.0zM315.3,682.8h3.0v3.0h-3.0zM315.8,679.2h3.0v3.0h-3.0zM316.3,678.3h3.0v3.0h-3.0zM316.8,674.2h3.0v3.0h-3.0zM317.3,673.3h3.0v3.0h-3.0zM317.8,671.9h3.0v3.0h-3.0zM318.3,668.0h3.0v3.0h-3.0zM318.8,667.2h3.0v3.0h-3.0zM319.3,665.9h3.0v3.0h-3.0zM319.8,664.1h3.0v3.0h-3.0zM320.3,662.2h3.0v3.0h-3.0zM320.8,662.9h3.0v3.0h-3.0zM321.3,659.7h3.0v3.0h-3.0zM321.8,660.8h3.0v3.0h-3.0zM322.3,661.4h3.0v3.0h-3.0zM322.8,660.2h3.0v3.0h-3.0zM323.3,661.5h3.0v3.0h-3.0zM323.8,661.3h3.0v3.0h-3.0zM324.3,662.6h3.0v3.0h-3.0zM324.8,663.9h3.0v3.0h-3.0zM325.3,665.4h3.0v3.0h-3.0zM325.8,666.3h3.0v3.0h-3.0zM326.3,668.6h3.0v3.0h-3.0zM326.8,670.4h3.0v3.0h-3.0zM327.3,672.8h3.0v3.0h-3.0zM327.8,675.3h3.0v3.0h-3.0zM328.3,676.8h3.0v3.0h-3.0zM328.8,677.5h3.0v3.0h-3.0zM329.3,681.0h3.0v3.0h-3.0zM329.8,684.2h3.0v3.0h-3.0zM330.3,685.3h3.0v3.0h-3.0zM330.8,689.1h3.0v3.0h-3.0zM331.3,691.7h3.0v3.0h-3.0zM331.8,693.7h3.0v3.0h-3.0zM332.3,693.3h3.0v3.0h-3.0zM332.8,697.3h3.0v3.0h-3.0zM333.3,698.7h3.0v3.0h-3.0zM333.8,702.0h3.0v3.0h-3.0zM334.3,701.6h3.0v3.0h-3.0zM334.8,705.9h3.0v3.0h-3.0zM335.3,705.7h3.0v3.0h-3.0zM335.8,708.6h3.0v3.0h-3.0zM336.3,709.7h3.0v3.0h-3.0zM336.8,711.6h3.0v3.0h-3.0zM337.3,711.4h3.0v3.0h-3.0zM337.8,713.1h3.0v3.0h-3.0zM338.3,713.7h3.0v3.0h-3.0zM338.8,715.7h3.0v3.0h-3.0zM339.3,715.6h3.0v3.0h-3.0zM339.8,718.8h3.0v3.0h-3.0zM340.3,718.9h3.0v3.0h-3.0zM340.8,718.8h3.0v3.0h-3.0zM341.3,721.1h3.0v3.0h-3.0zM341.8,721.2h3.0v3.0h-3.0zM342.3,720.5h3.0v3.0h-3.0zM342.8,720.5h3.0v3.0h-3.0zM343.3,720.2h3.0v3.0h-3.0zM343.8,722.4h3.0v3.0h-3.0zM344.3,722.5h3.0v3.0h-3.0zM344.8,722.2h3.0v3.0h-3.0zM345.3,723.9h3.0v3.0h-3.0zM345.8,722.9h3.0v3.0h-3.0zM346.3,724.6h3.0v3.0h-3.0zM346.8,723.1h3.0v3.0h-3.0zM347.3,724.6h3.0v3.0h-3.0zM347.8,725.1h3.0v3.0h-3.0zM348.3,725.1h3.0v3.0h-3.0zM348.8,724.1h3.0v3.0h-3.0zM349.3,724.0h3.0v3.0h-3.0zM349.8,725.1h3.0v3.0h-3.0zM350.3,724.0h3.0v3.0h-3.0zM350.8,724.8h3.0v3.0h-3.0zM351.3,724.1h3.0v3.0h-3.0zM351.8,722.2h3.0v3.0h-3.0zM352.3,724.1h3.0v3.0h-3.0zM352.8,722.6h3.0v3.0h-3.0zM353.3,724.4h3.0v3.0h-3.0zM353.8,725.4h3.0v3.0h-3.0zM354.3,724.0h3.0v3.0h-3.0zM354.8,723.7h3.0v3.0h-3.0zM355.3,724.7h3.0v3.0h-3.0zM355.8,724.3h3.0v3.0h-3.0zM356.3,725.4h3.0v3.0h-3.0zM356.8,724.8h3.0v3.0h-3.0zM357.3,723.1h3.0v3.0h-3.0zM357.8,724.4h3.0v3.0h-3.0zM358.3,722.9h3.0v3.0h-3.0zM358.8,722.3h3.0v3.0h-3.0zM359.3,726.9h3.0v3.0h-3.0zM359.8,724.2h3.0v3.0h-3.0zM360.3,725.2h3.0v3.0h-3.0zM360.8,725.3h3.0v3.0h-3.0zM361.3,724.3h3.0v3.0h-3.0zM361.8,724.9h3.0v3.0h-3.0zM362.3,726.1h3.0v3.0h-3.0zM362.8,726.8h3.0v3.0h-3.0zM363.3,724.5h3.0v3.0h-3.0zM363.8,726.9h3.0v3.0h-3.0zM364.3,723.9h3.0v3.0h-3.0zM364.8,726.5h3.0v3.0h-3.0zM365.3,725.5h3.0v3.0h-3.0zM365.8,724.6h3.0v3.0h-3.0zM366.3,724.5h3.0v3.0h-3.0zM366.8,725.8h3.0v3.0h-3.0zM367.3,725.9h3.0v3.0h-3.0zM367.8,725.0h3.0v3.0h-3.0zM368.3,722.7h3.0v3.0h-3.0zM368.8,724.8h3.0v3.0h-3.0zM369.3,726.3h3.0v3.0h-3.0zM369.8,725.5h3.0v3.0h-3.0zM370.3,725.7h3.0v3.0h-3.0zM370.8,725.6h3.0v3.0h-3.0zM371.3,727.1h3.0v3.0h-3.0zM371.8,725.6h3.0v3.0h-3.0zM372.3,725.7h3.0v3.0h-3.0zM372.8,725.8h3.0v3.0h-3.0zM373.3,725.6h3.0v3.0h-3.0zM373.8,726.4h3.0v3.0h-3.0zM374.3,724.3h3.0v3.0h-3.0zM374.8,724.4h3.0v3.0h-3.0zM375.3,725.2h3.0v3.0h-3.0zM375.8,724.9h3.0v3.0h-3.0zM376.3,727.6h3.0v3.0h-3.0zM376.8,724.1h3.0v3.0h-3.0zM377.3,724.0h3.0v3.0h-3.0zM377.8,725.3h3.0v3.0h-3.0zM378.3,726.2h3.0v3.0h-3.0zM378.8,726.4h3.0v3.0h-3.0zM379.3,723.9h3.0v3.0h-3.0z" fill="#1616a6"/>
<path d="M220.8,727.1 221.3,727.1 221.8,727.1 222.3,727.1 222.8,727.1 223.3,727.1 223.8,727.1 224.3,727.1 224.8,727.1 225.3,727.1 225.8,727.1 226.3,727.1 226.8,727.1 227.3,727.1 227.8,727.1 228.3,727.1 228.8,727.1 229.3,727.1 229.8,727.1 230.3,727.1 230.8,727.1 231.3,727.1 231.8,727.1 232.3,727.1 232.8,727.1 233.3,727.1 233.8,727.1 234.3,727.1 234.8,727.1 235.3,727.1 235.8,727.1 236.3,727.1 236.8,727.1 237.3,727.1 237.8,727.1 238.3,727.1 238.8,727.1 239.3,727.1 239.8,727.1 240.3,727.1 240.8,727.1 241.3,727.0 241.8,727.0 242.3,727.0 242.8,727.0 243.3,727.0 243.8,727.0 244.3,727.0 244.8,727.0 245.3,727.0 245.8,727.0 246.3,727.0 246.8,727.0 247.3,727.0 247.8,727.0 248.3,727.0 248.8,727.0 249.3,727.0 249.8,727.0 250.3,727.0 250.8,727.0 251.3,727.0 251.8,727.0 252.3,727.0 252.8,727.0 253.3,727.0 253.8,727.0 254.3,727.0 254.8,727.0 255.3,727.0 255.8,727.0 256.3,727.0 256.8,727.0 257.3,727.0 257.8,727.0 258.3,727.0 258.8,727.0 259.3,727.0 259.8,726.9 260.3,726.9 260.8,726.9 261.3,726.9 261.8,726.9 262.3,726.9 262.8,726.9 263.3,726.9 263.8,726.9 264.3,726.9 264.8,726.9 265.3,726.9 265.8,726.9 266.3,726.9 266.8,726.9 267.3,726.9 267.8,726.9 268.3,726.9 268.8,726.9 269.3,726.9 269.8,726.8 270.3,726.8 270.8,726.8 271.3,726.8 271.8,726.8 272.3,726.8 272.8,726.8 273.3,726.8 273.8,726.8 274.3,726.8 274.8,726.8 275.3,726.7 275.8,726.7 276.3,726.7 276.8,726.7 277.3,726.7 277.8,726.7 278.3,726.6 278.8,726.6 279.3,726.6 279.8,726.6 280.3,726.5 280.8,726.5 281.3,726.5 281.8,726.4 282.3,726.4 282.8,726.3 283.3,726.3 283.8,726.2 284.3,726.1 284.8,726.0 285.3,726.0 285.8,725.9 286.3,725.7 286.8,725.6 287.3,725.5 287.8,725.4 288.3,725.2 288.8,725.0 289.3,724.9 289.8,724.7 290.3,724.5 290.8,724.3 291.3,724.0 291.8,723.8 292.3,723.5 292.8,723.3 293.3,723.0 293.8,722.7 294.3,722.5 294.8,722.2 295.3,721.9 295.8,721.6 296.3,721.3 296.8,721.0 297.3,720.7 297.8,720.4 298.3,720.1 298.8,719.8 299.3,719.5 299.8,719.3 300.3,719.0 300.8,718.7 301.3,718.5 301.8,718.2 302.3,717.9 302.8,717.7 303.3,717.4 303.8,717.1 304.3,716.8 304.8,716.4 305.3,716.0 305.8,715.6 306.3,715.1 306.8,714.5 307.3,713.9 307.8,713.2 308.3,712.5 308.8,711.6 309.3,710.6 309.8,709.6 310.3,708.4 310.8,707.2 311.3,705.8 311.8,704.3 312.3,702.7 312.8,701.0 313.3,699.1 313.8,697.2 314.3,695.2 314.8,693.1 315.3,690.9 315.8,688.6 316.3,686.3 316.8,684.0 317.3,681.7 317.8,679.4 318.3,677.1 318.8,674.8 319.3,672.7 319.8,670.7 320.3,668.9 320.8,667.2 321.3,665.7 321.8,664.4 322.3,663.4 322.8,662.7 323.3,662.3 323.8,662.2 324.3,662.3 324.8,662.7 325.3,663.4 325.8,664.3 326.3,665.5 326.8,666.8 327.3,668.4 327.8,670.1 328.3,671.9 328.8,673.9 329.3,676.0 329.8,678.2 330.3,680.5 330.8,682.8 331.3,685.1 331.8,687.4 332.3,689.7 332.8,692.0 333.3,694.3 333.8,696.5 334.3,698.6 334.8,700.7 335.3,702.6 335.8,704.5 336.3,706.3 336.8,708.0 337.3,709.6 337.8,711.1 338.3,712.5 338.8,713.9 339.3,715.1 339.8,716.2 340.3,717.2 340.8,718.1 341.3,719.0 341.8,719.8 342.3,720.5 342.8,721.1 343.3,721.7 343.8,722.2 344.3,722.7 344.8,723.1 345.3,723.4 345.8,723.8 346.3,724.0 346.8,724.3 347.3,724.5 347.8,724.7 348.3,724.9 348.8,725.1 349.3,725.2 349.8,725.3 350.3,725.4 350.8,725.5 351.3,725.6 351.8,725.7 352.3,725.8 352.8,725.8 353.3,725.9 353.8,725.9 354.3,726.0 354.8,726.0 355.3,726.1 355.8,726.1 356.3,726.1 356.8,726.2 357.3,726.2 357.8,726.2 358.3,726.3 358.8,726.3 359.3,726.3 359.8,726.3 360.3,726.4 360.8,726.4 361.3,726.4 361.8,726.4 362.3,726.4 362.8,726.5 363.3,726.5 363.8,726.5 364.3,726.5 364.8,726.5 365.3,726.5 365.8,726.6 366.3,726.6 366.8,726.6 367.3,726.6 367.8,726.6 368.3,726.6 368.8,726.6 369.3,726.6 369.8,726.7 370.3,726.7 370.8,726.7 371.3,726.7 371.8,726.7 372.3,726.7 372.8,726.7 373.3,726.7 373.8,726.7 374.3,726.7 374.8,726.8 375.3,726.8 375.8,726.8 376.3,726.8 376.8,726.8 377.3,726.8 377.8,726.8 378.3,726.8 378.8,726.8 379.3,726.8 379.8,726.8 380.3,726.8 380.8,726.8" fill="none" stroke="#d8262a" stroke-width="2.0" stroke-linejoin="round"/>
<rect x="218.8" y="530.5" width="165.5" height="202.6" fill="none" stroke="#111" stroke-width="1.9"/>
<text x="254.4" y="753.3" font-family="Liberation Sans, sans-serif" font-size="14.6" text-anchor="middle" fill="#141414">535</text>
<text x="332.8" y="753.3" font-family="Liberation Sans, sans-serif" font-size="14.6" text-anchor="middle" fill="#141414">530</text>
<rect x="238.9" y="549.2" width="3.4" height="3.4" fill="#1616a6"/>
<text x="257.4" y="554.3" font-family="Liberation Sans, sans-serif" font-size="11.2" text-anchor="start" fill="#141414">O 1s</text>
<path d="M229.8,563.3H251.7" stroke="#dc2428" stroke-width="2"/>
<text x="257.4" y="566.9" font-family="Liberation Sans, sans-serif" font-size="11.2" text-anchor="start" fill="#141414">fit</text>
<rect x="236.5" y="573.8" width="9.3" height="5.9" fill="#fcd4be" stroke="#f06c2c" stroke-width="1.6"/>
<text x="257.4" y="580.4" font-family="Liberation Sans, sans-serif" font-size="11.2" text-anchor="start" fill="#141414">CuO</text>
<rect x="236.5" y="587.3" width="9.3" height="5.9" fill="#dadec6" stroke="#70721a" stroke-width="1.6"/>
<text x="257.4" y="593.9" font-family="Liberation Sans, sans-serif" font-size="11.2" text-anchor="start" fill="#141414">C-O/NO<tspan font-size="8.5" dy="3">2</tspan></text>
<rect x="366.3" y="533.1" width="13.2" height="23.1" fill="#fff"/>
<text transform="translate(380.7,551.6) scale(0.8,1)" font-family="Liberation Sans, sans-serif" font-size="19.0" text-anchor="end" fill="#141414">(j)</text>
<path d="M558.7,530.5v5.9M558.7,733.1v-5.5M543.0,530.5v5.9M543.0,733.1v-5.5M527.2,530.5v5.9M527.2,733.1v-5.5M511.5,530.5v11.0M511.5,733.1v-10.0M495.8,530.5v5.9M495.8,733.1v-5.5M480.1,530.5v5.9M480.1,733.1v-5.5M464.3,530.5v5.9M464.3,733.1v-5.5M448.6,530.5v5.9M448.6,733.1v-5.5M432.9,530.5v11.0M432.9,733.1v-10.0M417.2,530.5v5.9M417.2,733.1v-5.5M401.4,530.5v5.9M401.4,733.1v-5.5" stroke="#111" stroke-width="1.5" fill="none"/>
<path d="M414.0,729.0 414.5,729.0 415.0,728.9 415.5,728.9 416.0,728.8 416.5,728.8 417.0,728.7 417.5,728.6 418.0,728.5 418.5,728.4 419.0,728.3 419.5,728.2 420.0,728.1 420.5,728.0 421.0,727.8 421.5,727.7 422.0,727.5 422.5,727.3 423.0,727.1 423.5,726.8 424.0,726.6 424.5,726.3 425.0,726.0 425.5,725.7 426.0,725.3 426.5,724.9 427.0,724.5 427.5,724.0 428.0,723.5 428.5,723.0 429.0,722.5 429.5,721.8 430.0,721.2 430.5,720.5 431.0,719.8 431.5,719.0 432.0,718.1 432.5,717.2 433.0,716.3 433.5,715.3 434.0,714.2 434.5,713.1 435.0,711.9 435.5,710.7 436.0,709.4 436.5,708.0 437.0,706.6 437.5,705.1 438.0,703.6 438.5,702.0 439.0,700.3 439.5,698.5 440.0,696.7 440.5,694.9 441.0,692.9 441.5,691.0 442.0,688.9 442.5,686.8 443.0,684.7 443.5,682.5 444.0,680.3 444.5,678.0 445.0,675.7 445.5,673.4 446.0,671.1 446.5,668.7 447.0,666.3 447.5,663.9 448.0,661.5 448.5,659.1 449.0,656.8 449.5,654.4 450.0,652.1 450.5,649.8 451.0,647.5 451.5,645.3 452.0,643.2 452.5,641.1 453.0,639.1 453.5,637.1 454.0,635.3 454.5,633.5 455.0,631.8 455.5,630.2 456.0,628.7 456.5,627.4 457.0,626.1 457.5,625.0 458.0,624.0 458.5,623.2 459.0,622.4 459.5,621.9 460.0,621.4 460.5,621.1 461.0,620.9 461.5,620.9 462.0,621.1 462.5,621.4 463.0,622.0 463.5,622.7 464.0,623.7 464.5,624.8 465.0,626.1 465.5,627.6 466.0,629.2 466.5,631.0 467.0,632.9 467.5,635.0 468.0,637.2 468.5,639.5 469.0,641.9 469.5,644.4 470.0,647.0 470.5,649.6 471.0,652.3 471.5,655.1 472.0,657.8 472.5,660.6 473.0,663.4 473.5,666.3 474.0,669.1 474.5,671.8 475.0,674.6 475.5,677.3 476.0,680.0 476.5,682.6 477.0,685.2 477.5,687.7 478.0,690.1 478.5,692.5 479.0,694.7 479.5,696.9 480.0,699.0 480.5,701.1 481.0,703.0 481.5,704.8 482.0,706.6 482.5,708.3 483.0,709.9 483.5,711.4 484.0,712.8 484.5,714.1 485.0,715.4 485.5,716.5 486.0,717.6 486.0,729.3 414.0,729.3Z" fill="#fde0a0"/>
<path d="M414.0,729.0 414.5,729.0 415.0,728.9 415.5,728.9 416.0,728.8 416.5,728.8 417.0,728.7 417.5,728.6 418.0,728.5 418.5,728.4 419.0,728.3 419.5,728.2 420.0,728.1 420.5,728.0 421.0,727.8 421.5,727.7 422.0,727.5 422.5,727.3 423.0,727.1 423.5,726.8 424.0,726.6 424.5,726.3 425.0,726.0 425.5,725.7 426.0,725.3 426.5,724.9 427.0,724.5 427.5,724.0 428.0,723.5 428.5,723.0 429.0,722.5 429.5,721.8 430.0,721.2 430.5,720.5 431.0,719.8 431.5,719.0 432.0,718.1 432.5,717.2 433.0,716.3 433.5,715.3 434.0,714.2 434.5,713.1 435.0,711.9 435.5,710.7 436.0,709.4 436.5,708.0 437.0,706.6 437.5,705.1 438.0,703.6 438.5,702.0 439.0,700.3 439.5,698.5 440.0,696.7 440.5,694.9 441.0,692.9 441.5,691.0 442.0,688.9 442.5,686.8 443.0,684.7 443.5,682.5 444.0,680.3 444.5,678.0 445.0,675.7 445.5,673.4 446.0,671.1 446.5,668.7 447.0,666.3 447.5,663.9 448.0,661.5 448.5,659.1 449.0,656.8 449.5,654.4 450.0,652.1 450.5,649.8 451.0,647.5 451.5,645.3 452.0,643.2 452.5,641.1 453.0,639.1 453.5,637.1 454.0,635.3 454.5,633.5 455.0,631.8 455.5,630.2 456.0,628.7 456.5,627.4 457.0,626.1 457.5,625.0 458.0,624.0 458.5,623.2 459.0,622.4 459.5,621.9 460.0,621.4 460.5,621.1 461.0,620.9 461.5,620.9 462.0,621.1 462.5,621.4 463.0,622.0 463.5,622.7 464.0,623.7 464.5,624.8 465.0,626.1 465.5,627.6 466.0,629.2 466.5,631.0 467.0,632.9 467.5,635.0 468.0,637.2 468.5,639.5 469.0,641.9 469.5,644.4 470.0,647.0 470.5,649.6 471.0,652.3 471.5,655.1 472.0,657.8 472.5,660.6 473.0,663.4 473.5,666.3 474.0,669.1 474.5,671.8 475.0,674.6 475.5,677.3 476.0,680.0 476.5,682.6 477.0,685.2 477.5,687.7 478.0,690.1 478.5,692.5 479.0,694.7 479.5,696.9 480.0,699.0 480.5,701.1 481.0,703.0 481.5,704.8 482.0,706.6 482.5,708.3 483.0,709.9 483.5,711.4 484.0,712.8 484.5,714.1 485.0,715.4 485.5,716.5 486.0,717.6" fill="none" stroke="#f4c040" stroke-width="1.6" stroke-linejoin="round"/>
<path d="M486.4,717.0 486.9,716.1 487.4,715.1 487.9,714.0 488.4,712.9 488.9,711.8 489.4,710.6 489.9,709.4 490.4,708.1 490.9,706.9 491.4,705.6 491.9,704.2 492.4,702.9 492.9,701.6 493.4,700.2 493.9,698.9 494.4,697.6 494.9,696.3 495.4,695.0 495.9,693.7 496.4,692.5 496.9,691.4 497.4,690.3 497.9,689.3 498.4,688.3 498.9,687.4 499.4,686.7 499.9,686.0 500.4,685.4 500.9,684.9 501.4,684.5 501.9,684.3 502.4,684.1 502.9,684.1 503.4,684.2 503.9,684.4 504.4,684.8 504.9,685.2 505.4,685.8 505.9,686.5 506.4,687.3 506.9,688.2 507.4,689.2 507.9,690.2 508.4,691.3 508.9,692.5 509.4,693.8 509.9,695.1 510.4,696.4 510.9,697.8 511.4,699.1 511.9,700.5 512.4,701.9 512.9,703.3 513.4,704.7 513.9,706.0 514.4,707.4 514.9,708.7 515.4,709.9 515.9,711.2 516.4,712.4 516.9,713.5 517.4,714.6 517.9,715.7 518.4,716.7 518.9,717.7 519.4,718.6 519.9,719.4 520.4,720.2 520.9,721.0 521.4,721.7 521.9,722.4 522.4,723.0 522.9,723.5 523.4,724.1 523.9,724.5 524.4,725.0 524.9,725.4 525.4,725.7 525.9,726.1 526.4,726.4 526.9,726.7 527.4,726.9 527.9,727.1 528.4,727.3 528.9,727.5 529.4,727.7 529.9,727.8 530.4,728.0 530.9,728.1 531.4,728.2 531.9,728.3 532.4,728.3 532.9,728.4 533.4,728.5 533.9,728.5 534.4,728.6 534.9,728.6 535.4,728.7 535.9,728.7 536.4,728.7 536.9,728.8 537.4,728.8 537.9,728.8 537.9,729.3 486.4,729.3Z" fill="#fcd4be"/>
<path d="M486.4,717.0 486.9,716.1 487.4,715.1 487.9,714.0 488.4,712.9 488.9,711.8 489.4,710.6 489.9,709.4 490.4,708.1 490.9,706.9 491.4,705.6 491.9,704.2 492.4,702.9 492.9,701.6 493.4,700.2 493.9,698.9 494.4,697.6 494.9,696.3 495.4,695.0 495.9,693.7 496.4,692.5 496.9,691.4 497.4,690.3 497.9,689.3 498.4,688.3 498.9,687.4 499.4,686.7 499.9,686.0 500.4,685.4 500.9,684.9 501.4,684.5 501.9,684.3 502.4,684.1 502.9,684.1 503.4,684.2 503.9,684.4 504.4,684.8 504.9,685.2 505.4,685.8 505.9,686.5 506.4,687.3 506.9,688.2 507.4,689.2 507.9,690.2 508.4,691.3 508.9,692.5 509.4,693.8 509.9,695.1 510.4,696.4 510.9,697.8 511.4,699.1 511.9,700.5 512.4,701.9 512.9,703.3 513.4,704.7 513.9,706.0 514.4,707.4 514.9,708.7 515.4,709.9 515.9,711.2 516.4,712.4 516.9,713.5 517.4,714.6 517.9,715.7 518.4,716.7 518.9,717.7 519.4,718.6 519.9,719.4 520.4,720.2 520.9,721.0 521.4,721.7 521.9,722.4 522.4,723.0 522.9,723.5 523.4,724.1 523.9,724.5 524.4,725.0 524.9,725.4 525.4,725.7 525.9,726.1 526.4,726.4 526.9,726.7 527.4,726.9 527.9,727.1 528.4,727.3 528.9,727.5 529.4,727.7 529.9,727.8 530.4,728.0 530.9,728.1 531.4,728.2 531.9,728.3 532.4,728.3 532.9,728.4 533.4,728.5 533.9,728.5 534.4,728.6 534.9,728.6 535.4,728.7 535.9,728.7 536.4,728.7 536.9,728.8 537.4,728.8 537.9,728.8" fill="none" stroke="#f06c2c" stroke-width="1.6" stroke-linejoin="round"/>
<path d="M456.5,729.0 457.0,729.0 457.5,729.0 458.0,728.9 458.5,728.9 459.0,728.8 459.5,728.7 460.0,728.7 460.5,728.6 461.0,728.5 461.5,728.4 462.0,728.3 462.5,728.1 463.0,728.0 463.5,727.8 464.0,727.7 464.5,727.5 465.0,727.3 465.5,727.1 466.0,726.8 466.5,726.6 467.0,726.3 467.5,726.1 468.0,725.8 468.5,725.5 469.0,725.1 469.5,724.8 470.0,724.5 470.5,724.1 471.0,723.8 471.5,723.4 472.0,723.0 472.5,722.7 473.0,722.3 473.5,721.9 474.0,721.5 474.5,721.2 475.0,720.8 475.5,720.5 476.0,720.2 476.5,719.9 477.0,719.6 477.5,719.4 478.0,719.2 478.5,719.0 479.0,718.8 479.5,718.7 480.0,718.6 480.5,718.5 481.0,718.5 481.5,718.5 482.0,718.6 482.5,718.7 483.0,718.8 483.5,718.9 484.0,719.1 484.5,719.3 485.0,719.6 485.5,719.9 486.0,720.2 486.5,720.5 487.0,720.8 487.5,721.1 488.0,721.5 488.5,721.9 489.0,722.2 489.5,722.6 490.0,723.0 490.5,723.3 491.0,723.7 491.5,724.1 492.0,724.4 492.5,724.8 493.0,725.1 493.5,725.4 494.0,725.7 494.5,726.0 495.0,726.3 495.5,726.6 496.0,726.8 496.5,727.0 497.0,727.3 497.5,727.5 498.0,727.6 498.5,727.8 499.0,728.0 499.5,728.1 500.0,728.2 500.5,728.4 501.0,728.5 501.5,728.6 502.0,728.6 502.5,728.7 503.0,728.8 503.5,728.8 504.0,728.9 504.5,728.9 505.0,729.0 505.5,729.0 506.0,729.1 506.5,729.1 507.0,729.1 507.5,729.1 508.0,729.1 508.5,729.2 509.0,729.2 509.5,729.2 510.0,729.2 510.5,729.2 511.0,729.2 511.5,729.2 511.5,729.3 456.5,729.3Z" fill="#d9d1c2"/>
<path d="M456.5,729.0 457.0,729.0 457.5,729.0 458.0,728.9 458.5,728.9 459.0,728.8 459.5,728.7 460.0,728.7 460.5,728.6 461.0,728.5 461.5,728.4 462.0,728.3 462.5,728.1 463.0,728.0 463.5,727.8 464.0,727.7 464.5,727.5 465.0,727.3 465.5,727.1 466.0,726.8 466.5,726.6 467.0,726.3 467.5,726.1 468.0,725.8 468.5,725.5 469.0,725.1 469.5,724.8 470.0,724.5 470.5,724.1 471.0,723.8 471.5,723.4 472.0,723.0 472.5,722.7 473.0,722.3 473.5,721.9 474.0,721.5 474.5,721.2 475.0,720.8 475.5,720.5 476.0,720.2 476.5,719.9 477.0,719.6 477.5,719.4 478.0,719.2 478.5,719.0 479.0,718.8 479.5,718.7 480.0,718.6 480.5,718.5 481.0,718.5 481.5,718.5 482.0,718.6 482.5,718.7 483.0,718.8 483.5,718.9 484.0,719.1 484.5,719.3 485.0,719.6 485.5,719.9 486.0,720.2 486.5,720.5 487.0,720.8 487.5,721.1 488.0,721.5 488.5,721.9 489.0,722.2 489.5,722.6 490.0,723.0 490.5,723.3 491.0,723.7 491.5,724.1 492.0,724.4 492.5,724.8 493.0,725.1 493.5,725.4 494.0,725.7 494.5,726.0 495.0,726.3 495.5,726.6 496.0,726.8 496.5,727.0 497.0,727.3 497.5,727.5 498.0,727.6 498.5,727.8 499.0,728.0 499.5,728.1 500.0,728.2 500.5,728.4 501.0,728.5 501.5,728.6 502.0,728.6 502.5,728.7 503.0,728.8 503.5,728.8 504.0,728.9 504.5,728.9 505.0,729.0 505.5,729.0 506.0,729.1 506.5,729.1 507.0,729.1 507.5,729.1 508.0,729.1 508.5,729.2 509.0,729.2 509.5,729.2 510.0,729.2 510.5,729.2 511.0,729.2 511.5,729.2" fill="none" stroke="#5c3c12" stroke-width="1.6" stroke-linejoin="round"/>
<path d="M398.7,728.2h3.0v3.0h-3.0zM400.9,727.6h3.0v3.0h-3.0zM403.1,727.8h3.0v3.0h-3.0zM405.3,731.4h3.0v3.0h-3.0zM407.5,726.6h3.0v3.0h-3.0zM409.7,727.9h3.0v3.0h-3.0zM411.9,727.7h3.0v3.0h-3.0zM414.1,726.9h3.0v3.0h-3.0zM416.3,726.9h3.0v3.0h-3.0zM418.5,727.5h3.0v3.0h-3.0zM420.7,726.4h3.0v3.0h-3.0zM422.9,725.3h3.0v3.0h-3.0zM425.1,722.5h3.0v3.0h-3.0zM427.3,720.4h3.0v3.0h-3.0zM429.5,717.7h3.0v3.0h-3.0zM431.7,713.2h3.0v3.0h-3.0zM433.9,708.9h3.0v3.0h-3.0zM436.1,703.0h3.0v3.0h-3.0zM438.3,695.2h3.0v3.0h-3.0zM440.5,687.4h3.0v3.0h-3.0zM442.7,677.5h3.0v3.0h-3.0zM444.9,665.5h3.0v3.0h-3.0zM447.1,657.4h3.0v3.0h-3.0zM449.3,646.4h3.0v3.0h-3.0zM451.5,636.7h3.0v3.0h-3.0zM453.7,627.8h3.0v3.0h-3.0zM455.9,622.5h3.0v3.0h-3.0zM458.1,619.4h3.0v3.0h-3.0zM460.3,617.7h3.0v3.0h-3.0zM462.5,620.1h3.0v3.0h-3.0zM464.7,625.1h3.0v3.0h-3.0zM466.9,632.3h3.0v3.0h-3.0zM469.1,642.0h3.0v3.0h-3.0zM471.3,653.4h3.0v3.0h-3.0zM473.5,664.0h3.0v3.0h-3.0zM475.7,670.6h3.0v3.0h-3.0zM477.9,681.4h3.0v3.0h-3.0zM480.1,688.6h3.0v3.0h-3.0zM482.3,692.4h3.0v3.0h-3.0zM484.5,694.5h3.0v3.0h-3.0zM486.7,696.0h3.0v3.0h-3.0zM488.9,696.1h3.0v3.0h-3.0zM491.1,692.4h3.0v3.0h-3.0zM493.3,690.6h3.0v3.0h-3.0zM495.5,686.4h3.0v3.0h-3.0zM497.7,684.0h3.0v3.0h-3.0zM499.9,681.0h3.0v3.0h-3.0zM502.1,682.1h3.0v3.0h-3.0zM504.3,683.9h3.0v3.0h-3.0zM506.5,686.1h3.0v3.0h-3.0zM508.7,695.0h3.0v3.0h-3.0zM510.9,701.2h3.0v3.0h-3.0zM513.1,704.9h3.0v3.0h-3.0zM515.3,713.9h3.0v3.0h-3.0zM517.5,716.9h3.0v3.0h-3.0zM519.7,721.9h3.0v3.0h-3.0zM521.9,722.7h3.0v3.0h-3.0zM524.1,721.3h3.0v3.0h-3.0zM526.3,726.6h3.0v3.0h-3.0zM528.5,726.1h3.0v3.0h-3.0zM530.7,725.7h3.0v3.0h-3.0zM532.9,727.1h3.0v3.0h-3.0zM535.1,726.3h3.0v3.0h-3.0zM537.3,726.8h3.0v3.0h-3.0zM539.5,727.2h3.0v3.0h-3.0zM541.7,725.9h3.0v3.0h-3.0zM543.9,727.0h3.0v3.0h-3.0zM546.1,728.1h3.0v3.0h-3.0zM548.3,728.8h3.0v3.0h-3.0zM550.5,728.6h3.0v3.0h-3.0zM552.7,728.5h3.0v3.0h-3.0zM554.9,727.7h3.0v3.0h-3.0zM557.1,729.3h3.0v3.0h-3.0z" fill="#1616a6"/>
<path d="M399.2,729.2 399.7,729.2 400.2,729.2 400.7,729.2 401.2,729.2 401.7,729.2 402.2,729.2 402.7,729.2 403.2,729.2 403.7,729.2 404.2,729.2 404.7,729.2 405.2,729.2 405.7,729.2 406.2,729.2 406.7,729.2 407.2,729.2 407.7,729.2 408.2,729.2 408.7,729.1 409.2,729.1 409.7,729.1 410.2,729.1 410.7,729.1 411.2,729.1 411.7,729.1 412.2,729.0 412.7,729.0 413.2,729.0 413.7,728.9 414.2,728.9 414.7,728.9 415.2,728.8 415.7,728.8 416.2,728.7 416.7,728.6 417.2,728.6 417.7,728.5 418.2,728.4 418.7,728.3 419.2,728.2 419.7,728.1 420.2,728.0 420.7,727.8 421.2,727.7 421.7,727.5 422.2,727.3 422.7,727.1 423.2,726.9 423.7,726.6 424.2,726.4 424.7,726.1 425.2,725.8 425.7,725.4 426.2,725.0 426.7,724.6 427.2,724.2 427.7,723.7 428.2,723.2 428.7,722.7 429.2,722.1 429.7,721.5 430.2,720.8 430.7,720.1 431.2,719.4 431.7,718.5 432.2,717.7 432.7,716.8 433.2,715.8 433.7,714.8 434.2,713.7 434.7,712.6 435.2,711.4 435.7,710.1 436.2,708.8 436.7,707.4 437.2,705.9 437.7,704.4 438.2,702.8 438.7,701.2 439.2,699.5 439.7,697.7 440.2,695.9 440.7,694.0 441.2,692.1 441.7,690.1 442.2,688.0 442.7,685.9 443.2,683.7 443.7,681.5 444.2,679.3 444.7,677.0 445.2,674.7 445.7,672.4 446.2,670.0 446.7,667.6 447.2,665.2 447.7,662.8 448.2,660.4 448.7,658.1 449.2,655.7 449.7,653.3 450.2,651.0 450.7,648.7 451.2,646.5 451.7,644.3 452.2,642.1 452.7,640.0 453.2,638.0 453.7,636.1 454.2,634.2 454.7,632.5 455.2,630.8 455.7,629.2 456.2,627.7 456.7,626.4 457.2,625.1 457.7,624.0 458.2,623.0 458.7,622.1 459.2,621.4 459.7,620.8 460.2,620.3 460.7,619.9 461.2,619.7 461.7,619.6 462.2,619.7 462.7,620.0 463.2,620.5 463.7,621.1 464.2,621.9 464.7,622.9 465.2,624.0 465.7,625.3 466.2,626.8 466.7,628.3 467.2,630.0 467.7,631.8 468.2,633.7 468.7,635.7 469.2,637.8 469.7,640.0 470.2,642.2 470.7,644.4 471.2,646.7 471.7,649.0 472.2,651.4 472.7,653.7 473.2,656.1 473.7,658.4 474.2,660.8 474.7,663.0 475.2,665.3 475.7,667.5 476.2,669.7 476.7,671.8 477.2,673.9 477.7,675.9 478.2,677.8 478.7,679.7 479.2,681.4 479.7,683.2 480.2,684.8 480.7,686.3 481.2,687.8 481.7,689.1 482.2,690.4 482.7,691.6 483.2,692.6 483.7,693.6 484.2,694.5 484.7,695.3 485.2,695.9 485.7,696.5 486.2,697.0 486.7,697.4 487.2,697.6 487.7,697.8 488.2,697.9 488.7,697.8 489.2,697.7 489.7,697.5 490.2,697.2 490.7,696.8 491.2,696.4 491.7,695.9 492.2,695.3 492.7,694.6 493.2,694.0 493.7,693.2 494.2,692.5 494.7,691.7 495.2,690.9 495.7,690.1 496.2,689.3 496.7,688.5 497.2,687.7 497.7,687.0 498.2,686.3 498.7,685.6 499.2,685.1 499.7,684.5 500.2,684.1 500.7,683.8 501.2,683.5 501.7,683.4 502.2,683.3 502.7,683.3 503.2,683.5 503.7,683.8 504.2,684.1 504.7,684.6 505.2,685.2 505.7,685.9 506.2,686.7 506.7,687.6 507.2,688.6 507.7,689.7 508.2,690.8 508.7,692.0 509.2,693.2 509.7,694.5 510.2,695.9 510.7,697.2 511.2,698.6 511.7,700.0 512.2,701.4 512.7,702.8 513.2,704.1 513.7,705.5 514.2,706.9 514.7,708.2 515.2,709.5 515.7,710.7 516.2,711.9 516.7,713.1 517.2,714.2 517.7,715.3 518.2,716.3 518.7,717.3 519.2,718.2 519.7,719.1 520.2,719.9 520.7,720.7 521.2,721.4 521.7,722.1 522.2,722.7 522.7,723.3 523.2,723.9 523.7,724.4 524.2,724.8 524.7,725.2 525.2,725.6 525.7,725.9 526.2,726.3 526.7,726.5 527.2,726.8 527.7,727.0 528.2,727.2 528.7,727.4 529.2,727.6 529.7,727.8 530.2,727.9 530.7,728.0 531.2,728.1 531.7,728.2 532.2,728.3 532.7,728.4 533.2,728.4 533.7,728.5 534.2,728.6 534.7,728.6 535.2,728.6 535.7,728.7 536.2,728.7 536.7,728.7 537.2,728.8 537.7,728.8 538.2,728.8 538.7,728.8 539.2,728.8 539.7,728.9 540.2,728.9 540.7,728.9 541.2,728.9 541.7,728.9 542.2,728.9 542.7,728.9 543.2,728.9 543.7,729.0 544.2,729.0 544.7,729.0 545.2,729.0 545.7,729.0 546.2,729.0 546.7,729.0 547.2,729.0 547.7,729.0 548.2,729.0 548.7,729.0 549.2,729.0 549.7,729.0 550.2,729.0 550.7,729.0 551.2,729.1 551.7,729.1 552.2,729.1 552.7,729.1 553.2,729.1 553.7,729.1 554.2,729.1 554.7,729.1 555.2,729.1 555.7,729.1 556.2,729.1 556.7,729.1 557.2,729.1 557.7,729.1 558.2,729.1 558.7,729.1" fill="none" stroke="#d8262a" stroke-width="2.0" stroke-linejoin="round"/>
<rect x="397.2" y="530.5" width="165.9" height="202.6" fill="none" stroke="#111" stroke-width="1.9"/>
<text x="432.9" y="753.3" font-family="Liberation Sans, sans-serif" font-size="14.6" text-anchor="middle" fill="#141414">535</text>
<text x="511.5" y="753.3" font-family="Liberation Sans, sans-serif" font-size="14.6" text-anchor="middle" fill="#141414">530</text>
<rect x="410" y="537.2" width="90" height="68" fill="#fff"/>
<rect x="416.2" y="542.7" width="3.4" height="3.4" fill="#1616a6"/>
<text x="433.9" y="547.8" font-family="Liberation Sans, sans-serif" font-size="11.2" text-anchor="start" fill="#141414">O 1s</text>
<path d="M406.3,557.2H428.2" stroke="#dc2428" stroke-width="2"/>
<text x="433.9" y="560.8" font-family="Liberation Sans, sans-serif" font-size="11.2" text-anchor="start" fill="#141414">fit</text>
<rect x="413.8" y="567.7" width="9.3" height="5.9" fill="#fcd4be" stroke="#f06c2c" stroke-width="1.6"/>
<text x="433.9" y="574.3" font-family="Liberation Sans, sans-serif" font-size="11.2" text-anchor="start" fill="#141414">&#160;CuO</text>
<rect x="413.8" y="580.6" width="9.3" height="5.9" fill="#d9d1c2" stroke="#5c3c12" stroke-width="1.6"/>
<text x="433.9" y="587.2" font-family="Liberation Sans, sans-serif" font-size="11.2" text-anchor="start" fill="#141414">C-O/NO<tspan font-size="8.5" dy="3">2</tspan></text>
<rect x="413.8" y="594.5" width="9.3" height="5.9" fill="#fde0a0" stroke="#f4c040" stroke-width="1.6"/>
<text x="433.9" y="601.1" font-family="Liberation Sans, sans-serif" font-size="11.2" text-anchor="start" fill="#141414">O-CH<tspan font-size="8.5" dy="3">3</tspan></text>
<rect x="528.0" y="533.1" width="17.5" height="23.3" fill="#fff"/>
<text transform="translate(546.7,551.8) scale(0.8,1)" font-family="Liberation Sans, sans-serif" font-size="19.0" text-anchor="end" fill="#141414">(k)</text>
<path d="M744.1,530.5v5.9M744.1,733.1v-5.5M728.2,530.5v5.9M728.2,733.1v-5.5M712.3,530.5v5.9M712.3,733.1v-5.5M696.5,530.5v11.0M696.5,733.1v-10.0M680.6,530.5v5.9M680.6,733.1v-5.5M664.7,530.5v5.9M664.7,733.1v-5.5M648.9,530.5v5.9M648.9,733.1v-5.5M633.0,530.5v5.9M633.0,733.1v-5.5M617.1,530.5v11.0M617.1,733.1v-10.0M601.3,530.5v5.9M601.3,733.1v-5.5M585.4,530.5v5.9M585.4,733.1v-5.5" stroke="#111" stroke-width="1.5" fill="none"/>
<path d="M636.2,723.8 636.7,723.8 637.2,723.8 637.7,723.8 638.2,723.7 638.7,723.7 639.2,723.7 639.7,723.7 640.2,723.7 640.7,723.7 641.2,723.6 641.7,723.6 642.2,723.6 642.7,723.6 643.2,723.6 643.7,723.5 644.2,723.5 644.7,723.5 645.2,723.5 645.7,723.5 646.2,723.4 646.7,723.4 647.2,723.4 647.7,723.3 648.2,723.3 648.7,723.3 649.2,723.3 649.7,723.2 650.2,723.2 650.7,723.1 651.2,723.1 651.7,723.1 652.2,723.0 652.7,723.0 653.2,722.9 653.7,722.8 654.2,722.8 654.7,722.7 655.2,722.6 655.7,722.5 656.2,722.4 656.7,722.3 657.2,722.1 657.7,722.0 658.2,721.8 658.7,721.6 659.2,721.4 659.7,721.1 660.2,720.8 660.7,720.4 661.2,720.0 661.7,719.6 662.2,719.1 662.7,718.5 663.2,717.8 663.7,717.1 664.2,716.2 664.7,715.2 665.2,714.1 665.7,712.9 666.2,711.6 666.7,710.0 667.2,708.3 667.7,706.5 668.2,704.4 668.7,702.1 669.2,699.6 669.7,696.9 670.2,694.0 670.7,690.8 671.2,687.3 671.7,683.6 672.2,679.7 672.7,675.4 673.2,670.9 673.7,666.2 674.2,661.2 674.7,656.0 675.2,650.6 675.7,644.9 676.2,639.1 676.7,633.1 677.2,627.0 677.7,620.8 678.2,614.6 678.7,608.3 679.2,602.1 679.7,595.9 680.2,589.8 680.7,583.9 681.2,578.2 681.7,572.8 682.2,567.7 682.7,562.9 683.2,558.5 683.7,554.6 684.2,551.2 684.7,548.3 685.2,546.0 685.7,544.3 686.2,543.2 686.7,542.7 687.2,542.9 687.7,543.7 688.2,545.2 688.7,547.4 689.2,550.1 689.7,553.4 690.2,557.3 690.7,561.6 691.2,566.4 691.7,571.6 692.2,577.1 692.7,582.9 693.2,588.9 693.7,595.1 694.2,601.4 694.7,607.8 695.2,614.2 695.7,620.6 696.2,626.9 696.7,633.2 697.2,639.3 697.7,645.2 698.2,651.0 698.7,656.6 699.2,661.9 699.7,666.9 700.2,671.8 700.7,676.3 701.2,680.6 701.7,684.6 702.2,688.3 702.7,691.8 703.2,694.9 703.7,697.9 704.2,700.6 704.7,703.0 705.2,705.3 705.7,707.3 706.2,709.1 706.7,710.8 707.2,712.3 707.7,713.6 708.2,714.8 708.7,715.8 709.2,716.7 709.7,717.5 710.2,718.3 710.7,718.9 711.2,719.4 711.7,719.9 712.2,720.3 712.7,720.7 713.2,721.0 713.7,721.3 714.2,721.6 714.7,721.8 715.2,722.0 715.7,722.1 716.2,722.3 716.7,722.4 717.2,722.5 717.7,722.6 718.2,722.7 718.7,722.8 719.2,722.8 719.7,722.9 720.2,723.0 720.7,723.0 721.2,723.1 721.7,723.1 722.2,723.2 722.7,723.2 723.2,723.2 723.2,724.5 636.2,724.5Z" fill="#fcd4be"/>
<path d="M636.2,723.8 636.7,723.8 637.2,723.8 637.7,723.8 638.2,723.7 638.7,723.7 639.2,723.7 639.7,723.7 640.2,723.7 640.7,723.7 641.2,723.6 641.7,723.6 642.2,723.6 642.7,723.6 643.2,723.6 643.7,723.5 644.2,723.5 644.7,723.5 645.2,723.5 645.7,723.5 646.2,723.4 646.7,723.4 647.2,723.4 647.7,723.3 648.2,723.3 648.7,723.3 649.2,723.3 649.7,723.2 650.2,723.2 650.7,723.1 651.2,723.1 651.7,723.1 652.2,723.0 652.7,723.0 653.2,722.9 653.7,722.8 654.2,722.8 654.7,722.7 655.2,722.6 655.7,722.5 656.2,722.4 656.7,722.3 657.2,722.1 657.7,722.0 658.2,721.8 658.7,721.6 659.2,721.4 659.7,721.1 660.2,720.8 660.7,720.4 661.2,720.0 661.7,719.6 662.2,719.1 662.7,718.5 663.2,717.8 663.7,717.1 664.2,716.2 664.7,715.2 665.2,714.1 665.7,712.9 666.2,711.6 666.7,710.0 667.2,708.3 667.7,706.5 668.2,704.4 668.7,702.1 669.2,699.6 669.7,696.9 670.2,694.0 670.7,690.8 671.2,687.3 671.7,683.6 672.2,679.7 672.7,675.4 673.2,670.9 673.7,666.2 674.2,661.2 674.7,656.0 675.2,650.6 675.7,644.9 676.2,639.1 676.7,633.1 677.2,627.0 677.7,620.8 678.2,614.6 678.7,608.3 679.2,602.1 679.7,595.9 680.2,589.8 680.7,583.9 681.2,578.2 681.7,572.8 682.2,567.7 682.7,562.9 683.2,558.5 683.7,554.6 684.2,551.2 684.7,548.3 685.2,546.0 685.7,544.3 686.2,543.2 686.7,542.7 687.2,542.9 687.7,543.7 688.2,545.2 688.7,547.4 689.2,550.1 689.7,553.4 690.2,557.3 690.7,561.6 691.2,566.4 691.7,571.6 692.2,577.1 692.7,582.9 693.2,588.9 693.7,595.1 694.2,601.4 694.7,607.8 695.2,614.2 695.7,620.6 696.2,626.9 696.7,633.2 697.2,639.3 697.7,645.2 698.2,651.0 698.7,656.6 699.2,661.9 699.7,666.9 700.2,671.8 700.7,676.3 701.2,680.6 701.7,684.6 702.2,688.3 702.7,691.8 703.2,694.9 703.7,697.9 704.2,700.6 704.7,703.0 705.2,705.3 705.7,707.3 706.2,709.1 706.7,710.8 707.2,712.3 707.7,713.6 708.2,714.8 708.7,715.8 709.2,716.7 709.7,717.5 710.2,718.3 710.7,718.9 711.2,719.4 711.7,719.9 712.2,720.3 712.7,720.7 713.2,721.0 713.7,721.3 714.2,721.6 714.7,721.8 715.2,722.0 715.7,722.1 716.2,722.3 716.7,722.4 717.2,722.5 717.7,722.6 718.2,722.7 718.7,722.8 719.2,722.8 719.7,722.9 720.2,723.0 720.7,723.0 721.2,723.1 721.7,723.1 722.2,723.2 722.7,723.2 723.2,723.2" fill="none" stroke="#f06c2c" stroke-width="1.6" stroke-linejoin="round"/>
<path d="M640.9,723.9 641.4,723.8 641.9,723.7 642.4,723.6 642.9,723.5 643.4,723.4 643.9,723.2 644.4,723.1 644.9,722.9 645.4,722.7 645.9,722.5 646.4,722.2 646.9,722.0 647.4,721.7 647.9,721.3 648.4,721.0 648.9,720.6 649.4,720.2 649.9,719.7 650.4,719.3 650.9,718.8 651.4,718.2 651.9,717.6 652.4,717.0 652.9,716.4 653.4,715.8 653.9,715.1 654.4,714.4 654.9,713.7 655.4,712.9 655.9,712.2 656.4,711.4 656.9,710.7 657.4,709.9 657.9,709.2 658.4,708.5 658.9,707.8 659.4,707.1 659.9,706.4 660.4,705.8 660.9,705.2 661.4,704.6 661.9,704.2 662.4,703.7 662.9,703.4 663.4,703.0 663.9,702.8 664.4,702.6 664.9,702.5 665.4,702.5 665.9,702.5 666.4,702.6 666.9,702.8 667.4,703.0 667.9,703.3 668.4,703.7 668.9,704.0 669.4,704.5 669.9,705.0 670.4,705.5 670.9,706.1 671.4,706.7 671.9,707.3 672.4,707.9 672.9,708.6 673.4,709.3 673.9,710.0 674.4,710.7 674.9,711.4 675.4,712.1 675.9,712.8 676.4,713.4 676.9,714.1 677.4,714.8 677.9,715.4 678.4,716.0 678.9,716.6 679.4,717.2 679.9,717.7 680.4,718.3 680.9,718.8 681.4,719.2 681.9,719.7 682.4,720.1 682.9,720.5 683.4,720.9 683.9,721.2 684.4,721.5 684.9,721.8 685.4,722.1 685.9,722.3 686.4,722.5 686.9,722.7 687.4,722.9 687.9,723.1 688.4,723.2 688.9,723.4 689.4,723.5 689.9,723.6 690.4,723.7 690.9,723.8 691.4,723.9 691.9,723.9 692.4,724.0 692.9,724.1 693.4,724.1 693.9,724.1 694.4,724.2 694.9,724.2 695.4,724.2 695.9,724.3 696.4,724.3 696.9,724.3 697.4,724.3 697.9,724.3 698.4,724.3 698.9,724.4 699.4,724.4 699.9,724.4 700.4,724.4 700.9,724.4 701.4,724.4 701.9,724.4 702.4,724.4 702.9,724.4 703.4,724.4 703.9,724.4 703.9,724.5 640.9,724.5Z" fill="#d9d1c2"/>
<path d="M640.9,723.9 641.4,723.8 641.9,723.7 642.4,723.6 642.9,723.5 643.4,723.4 643.9,723.2 644.4,723.1 644.9,722.9 645.4,722.7 645.9,722.5 646.4,722.2 646.9,722.0 647.4,721.7 647.9,721.3 648.4,721.0 648.9,720.6 649.4,720.2 649.9,719.7 650.4,719.3 650.9,718.8 651.4,718.2 651.9,717.6 652.4,717.0 652.9,716.4 653.4,715.8 653.9,715.1 654.4,714.4 654.9,713.7 655.4,712.9 655.9,712.2 656.4,711.4 656.9,710.7 657.4,709.9 657.9,709.2 658.4,708.5 658.9,707.8 659.4,707.1 659.9,706.4 660.4,705.8 660.9,705.2 661.4,704.6 661.9,704.2 662.4,703.7 662.9,703.4 663.4,703.0 663.9,702.8 664.4,702.6 664.9,702.5 665.4,702.5 665.9,702.5 666.4,702.6 666.9,702.8 667.4,703.0 667.9,703.3 668.4,703.7 668.9,704.0 669.4,704.5 669.9,705.0 670.4,705.5 670.9,706.1 671.4,706.7 671.9,707.3 672.4,707.9 672.9,708.6 673.4,709.3 673.9,710.0 674.4,710.7 674.9,711.4 675.4,712.1 675.9,712.8 676.4,713.4 676.9,714.1 677.4,714.8 677.9,715.4 678.4,716.0 678.9,716.6 679.4,717.2 679.9,717.7 680.4,718.3 680.9,718.8 681.4,719.2 681.9,719.7 682.4,720.1 682.9,720.5 683.4,720.9 683.9,721.2 684.4,721.5 684.9,721.8 685.4,722.1 685.9,722.3 686.4,722.5 686.9,722.7 687.4,722.9 687.9,723.1 688.4,723.2 688.9,723.4 689.4,723.5 689.9,723.6 690.4,723.7 690.9,723.8 691.4,723.9 691.9,723.9 692.4,724.0 692.9,724.1 693.4,724.1 693.9,724.1 694.4,724.2 694.9,724.2 695.4,724.2 695.9,724.3 696.4,724.3 696.9,724.3 697.4,724.3 697.9,724.3 698.4,724.3 698.9,724.4 699.4,724.4 699.9,724.4 700.4,724.4 700.9,724.4 701.4,724.4 701.9,724.4 702.4,724.4 702.9,724.4 703.4,724.4 703.9,724.4" fill="none" stroke="#5c3c12" stroke-width="1.6" stroke-linejoin="round"/>
<path d="M581.5,722.1h3.2v3.2h-3.2zM584.1,723.3h3.2v3.2h-3.2zM586.7,719.3h3.2v3.2h-3.2zM589.3,722.6h3.2v3.2h-3.2zM591.9,722.3h3.2v3.2h-3.2zM594.5,722.3h3.2v3.2h-3.2zM597.1,720.2h3.2v3.2h-3.2zM599.7,723.4h3.2v3.2h-3.2zM602.3,724.1h3.2v3.2h-3.2zM604.9,723.8h3.2v3.2h-3.2zM607.5,722.8h3.2v3.2h-3.2zM610.1,721.0h3.2v3.2h-3.2zM612.7,721.9h3.2v3.2h-3.2zM615.3,724.8h3.2v3.2h-3.2zM617.9,723.5h3.2v3.2h-3.2zM620.5,723.1h3.2v3.2h-3.2zM623.1,722.7h3.2v3.2h-3.2zM625.7,721.3h3.2v3.2h-3.2zM628.3,723.7h3.2v3.2h-3.2zM630.9,722.7h3.2v3.2h-3.2zM633.5,719.0h3.2v3.2h-3.2zM636.1,723.5h3.2v3.2h-3.2zM639.4,723.0h3.2v3.2h-3.2zM640.4,722.7h3.2v3.2h-3.2zM641.4,721.6h3.2v3.2h-3.2zM642.4,720.7h3.2v3.2h-3.2zM643.4,721.9h3.2v3.2h-3.2zM644.4,720.7h3.2v3.2h-3.2zM645.4,717.4h3.2v3.2h-3.2zM646.4,719.9h3.2v3.2h-3.2zM647.4,718.7h3.2v3.2h-3.2zM648.4,718.7h3.2v3.2h-3.2zM649.4,713.6h3.2v3.2h-3.2zM650.4,713.7h3.2v3.2h-3.2zM651.4,718.8h3.2v3.2h-3.2zM652.4,711.5h3.2v3.2h-3.2zM653.4,711.2h3.2v3.2h-3.2zM654.4,708.1h3.2v3.2h-3.2zM655.4,705.1h3.2v3.2h-3.2zM656.4,706.6h3.2v3.2h-3.2zM657.4,704.2h3.2v3.2h-3.2zM658.4,701.9h3.2v3.2h-3.2zM659.4,697.6h3.2v3.2h-3.2zM660.4,697.7h3.2v3.2h-3.2zM661.4,698.1h3.2v3.2h-3.2zM662.4,693.5h3.2v3.2h-3.2zM663.4,691.3h3.2v3.2h-3.2zM664.4,690.1h3.2v3.2h-3.2zM665.4,685.1h3.2v3.2h-3.2zM666.4,681.8h3.2v3.2h-3.2zM667.4,679.0h3.2v3.2h-3.2zM668.4,671.0h3.2v3.2h-3.2zM669.4,668.5h3.2v3.2h-3.2zM670.4,664.9h3.2v3.2h-3.2zM671.4,656.6h3.2v3.2h-3.2zM672.4,646.5h3.2v3.2h-3.2zM673.4,636.1h3.2v3.2h-3.2zM674.4,629.5h3.2v3.2h-3.2zM675.4,617.1h3.2v3.2h-3.2zM676.4,606.5h3.2v3.2h-3.2zM677.4,599.1h3.2v3.2h-3.2zM678.4,581.9h3.2v3.2h-3.2zM679.4,573.8h3.2v3.2h-3.2zM680.4,563.3h3.2v3.2h-3.2zM681.4,555.8h3.2v3.2h-3.2zM682.4,547.1h3.2v3.2h-3.2zM683.4,542.9h3.2v3.2h-3.2zM684.4,540.2h3.2v3.2h-3.2zM685.4,541.0h3.2v3.2h-3.2zM686.4,542.4h3.2v3.2h-3.2zM687.4,544.0h3.2v3.2h-3.2zM688.4,555.8h3.2v3.2h-3.2zM689.4,563.0h3.2v3.2h-3.2zM690.4,569.9h3.2v3.2h-3.2zM691.4,586.8h3.2v3.2h-3.2zM692.4,598.0h3.2v3.2h-3.2zM693.4,612.7h3.2v3.2h-3.2zM694.4,624.5h3.2v3.2h-3.2zM695.4,636.4h3.2v3.2h-3.2zM696.4,649.0h3.2v3.2h-3.2zM697.4,659.3h3.2v3.2h-3.2zM698.4,670.1h3.2v3.2h-3.2zM699.4,677.9h3.2v3.2h-3.2zM700.4,685.3h3.2v3.2h-3.2zM701.4,690.4h3.2v3.2h-3.2zM702.4,697.5h3.2v3.2h-3.2zM703.4,705.0h3.2v3.2h-3.2zM704.4,707.8h3.2v3.2h-3.2zM705.4,709.7h3.2v3.2h-3.2zM706.4,710.2h3.2v3.2h-3.2zM707.4,713.0h3.2v3.2h-3.2zM708.4,716.9h3.2v3.2h-3.2zM709.4,716.4h3.2v3.2h-3.2zM710.4,717.6h3.2v3.2h-3.2zM712.4,721.0h3.2v3.2h-3.2zM715,718.4h3.2v3.2h-3.2zM717.6,723.3h3.2v3.2h-3.2zM720.2,722.0h3.2v3.2h-3.2zM722.8,721.2h3.2v3.2h-3.2zM725.4,722.2h3.2v3.2h-3.2zM728,722.2h3.2v3.2h-3.2zM730.6,722.6h3.2v3.2h-3.2zM733.2,721.8h3.2v3.2h-3.2zM735.8,722.1h3.2v3.2h-3.2zM738.4,722.3h3.2v3.2h-3.2zM741,722.1h3.2v3.2h-3.2zM743.6,727.0h3.2v3.2h-3.2z" fill="#1616a6"/>
<path d="M583.1,724.3 583.6,724.3 584.1,724.3 584.6,724.3 585.1,724.3 585.6,724.3 586.1,724.3 586.6,724.3 587.1,724.3 587.6,724.3 588.1,724.3 588.6,724.3 589.1,724.3 589.6,724.3 590.1,724.3 590.6,724.3 591.1,724.3 591.6,724.3 592.1,724.3 592.6,724.3 593.1,724.3 593.6,724.3 594.1,724.3 594.6,724.3 595.1,724.3 595.6,724.3 596.1,724.3 596.6,724.2 597.1,724.2 597.6,724.2 598.1,724.2 598.6,724.2 599.1,724.2 599.6,724.2 600.1,724.2 600.6,724.2 601.1,724.2 601.6,724.2 602.1,724.2 602.6,724.2 603.1,724.2 603.6,724.2 604.1,724.2 604.6,724.2 605.1,724.2 605.6,724.2 606.1,724.2 606.6,724.2 607.1,724.2 607.6,724.2 608.1,724.2 608.6,724.2 609.1,724.2 609.6,724.2 610.1,724.1 610.6,724.1 611.1,724.1 611.6,724.1 612.1,724.1 612.6,724.1 613.1,724.1 613.6,724.1 614.1,724.1 614.6,724.1 615.1,724.1 615.6,724.1 616.1,724.1 616.6,724.1 617.1,724.1 617.6,724.1 618.1,724.1 618.6,724.1 619.1,724.0 619.6,724.0 620.1,724.0 620.6,724.0 621.1,724.0 621.6,724.0 622.1,724.0 622.6,724.0 623.1,724.0 623.6,724.0 624.1,724.0 624.6,724.0 625.1,724.0 625.6,723.9 626.1,723.9 626.6,723.9 627.1,723.9 627.6,723.9 628.1,723.9 628.6,723.9 629.1,723.9 629.6,723.9 630.1,723.8 630.6,723.8 631.1,723.8 631.6,723.8 632.1,723.8 632.6,723.8 633.1,723.7 633.6,723.7 634.1,723.7 634.6,723.7 635.1,723.7 635.6,723.6 636.1,723.6 636.6,723.6 637.1,723.5 637.6,723.5 638.1,723.4 638.6,723.4 639.1,723.3 639.6,723.3 640.1,723.2 640.6,723.1 641.1,723.0 641.6,722.9 642.1,722.8 642.6,722.7 643.1,722.5 643.6,722.4 644.1,722.2 644.6,722.0 645.1,721.8 645.6,721.6 646.1,721.3 646.6,721.0 647.1,720.7 647.6,720.4 648.1,720.0 648.6,719.6 649.1,719.2 649.6,718.7 650.1,718.3 650.6,717.7 651.1,717.2 651.6,716.6 652.1,715.9 652.6,715.3 653.1,714.6 653.6,713.9 654.1,713.1 654.6,712.3 655.1,711.5 655.6,710.7 656.1,709.8 656.6,709.0 657.1,708.1 657.6,707.2 658.1,706.3 658.6,705.3 659.1,704.4 659.6,703.4 660.1,702.5 660.6,701.5 661.1,700.6 661.6,699.6 662.1,698.6 662.6,697.6 663.1,696.6 663.6,695.6 664.1,694.5 664.6,693.4 665.1,692.3 665.6,691.1 666.1,689.8 666.6,688.4 667.1,686.9 667.6,685.3 668.1,683.6 668.6,681.7 669.1,679.6 669.6,677.4 670.1,675.0 670.6,672.4 671.1,669.5 671.6,666.5 672.1,663.2 672.6,659.6 673.1,655.8 673.6,651.8 674.1,647.6 674.6,643.1 675.1,638.3 675.6,633.4 676.1,628.3 676.6,623.0 677.1,617.6 677.6,612.1 678.1,606.5 678.6,600.8 679.1,595.2 679.6,589.5 680.1,584.0 680.6,578.6 681.1,573.3 681.6,568.3 682.1,563.6 682.6,559.2 683.1,555.1 683.6,551.5 684.1,548.4 684.6,545.7 685.1,543.6 685.6,542.1 686.1,541.2 686.6,540.8 687.1,541.1 687.6,542.1 688.1,543.7 688.6,545.9 689.1,548.7 689.6,552.0 690.1,555.9 690.6,560.3 691.1,565.1 691.6,570.3 692.1,575.9 692.6,581.7 693.1,587.7 693.6,593.9 694.1,600.3 694.6,606.7 695.1,613.1 695.6,619.6 696.1,626.0 696.6,632.2 697.1,638.4 697.6,644.4 698.1,650.2 698.6,655.8 699.1,661.1 699.6,666.2 700.1,671.1 700.6,675.7 701.1,680.0 701.6,684.0 702.1,687.8 702.6,691.3 703.1,694.5 703.6,697.5 704.1,700.2 704.6,702.7 705.1,704.9 705.6,707.0 706.1,708.9 706.6,710.5 707.1,712.0 707.6,713.4 708.1,714.6 708.6,715.6 709.1,716.6 709.6,717.4 710.1,718.1 710.6,718.8 711.1,719.3 711.6,719.8 712.1,720.2 712.6,720.6 713.1,720.9 713.6,721.2 714.1,721.5 714.6,721.7 715.1,721.9 715.6,722.1 716.1,722.2 716.6,722.3 717.1,722.4 717.6,722.5 718.1,722.6 718.6,722.7 719.1,722.8 719.6,722.9 720.1,722.9 720.6,723.0 721.1,723.0 721.6,723.1 722.1,723.1 722.6,723.1 723.1,723.2 723.6,723.2 724.1,723.3 724.6,723.3 725.1,723.3 725.6,723.3 726.1,723.4 726.6,723.4 727.1,723.4 727.6,723.5 728.1,723.5 728.6,723.5 729.1,723.5 729.6,723.5 730.1,723.6 730.6,723.6 731.1,723.6 731.6,723.6 732.1,723.6 732.6,723.7 733.1,723.7 733.6,723.7 734.1,723.7 734.6,723.7 735.1,723.7 735.6,723.8 736.1,723.8 736.6,723.8 737.1,723.8 737.6,723.8 738.1,723.8 738.6,723.8 739.1,723.8 739.6,723.9 740.1,723.9 740.6,723.9 741.1,723.9 741.6,723.9 742.1,723.9 742.6,723.9 743.1,723.9 743.6,723.9 744.1,724.0 744.6,724.0 745.1,724.0 745.6,724.0" fill="none" stroke="#d8262a" stroke-width="2.0" stroke-linejoin="round"/>
<rect x="581.1" y="530.5" width="167.4" height="202.6" fill="none" stroke="#111" stroke-width="1.9"/>
<text x="617.1" y="753.3" font-family="Liberation Sans, sans-serif" font-size="14.6" text-anchor="middle" fill="#141414">535</text>
<text x="696.5" y="753.3" font-family="Liberation Sans, sans-serif" font-size="14.6" text-anchor="middle" fill="#141414">530</text>
<rect x="604.1" y="547.1" width="3.4" height="3.4" fill="#1616a6"/>
<text x="622.1" y="552.2" font-family="Liberation Sans, sans-serif" font-size="11.2" text-anchor="start" fill="#141414">O 1s</text>
<path d="M594.6,561.5H616.4" stroke="#dc2428" stroke-width="2"/>
<text x="622.1" y="565.1" font-family="Liberation Sans, sans-serif" font-size="11.2" text-anchor="start" fill="#141414">fit</text>
<rect x="600.9" y="571.8" width="9.3" height="5.9" fill="#fcd4be" stroke="#f06c2c" stroke-width="1.6"/>
<text x="622.1" y="578.4" font-family="Liberation Sans, sans-serif" font-size="11.2" text-anchor="start" fill="#141414">CuO</text>
<rect x="600.9" y="584.3" width="9.3" height="5.9" fill="#d9d1c2" stroke="#5c3c12" stroke-width="1.6"/>
<text x="622.1" y="590.9" font-family="Liberation Sans, sans-serif" font-size="11.2" text-anchor="start" fill="#141414">C-O/NO<tspan font-size="8.5" dy="3">2</tspan></text>
<rect x="725.5" y="533.1" width="13.2" height="26.2" fill="#fff"/>
<text transform="translate(739.9,554.7) scale(0.8,1)" font-family="Liberation Sans, sans-serif" font-size="19.0" text-anchor="end" fill="#141414">(l)</text>
<text transform="translate(12.3,365.2) rotate(-90)" font-family="Liberation Sans, sans-serif" font-size="14.7" text-anchor="middle" fill="#141414">Intensity (arb. units)</text>
<text transform="translate(397.9,780.2) scale(0.9,1)" font-family="Liberation Sans, sans-serif" font-size="19" text-anchor="middle" fill="#141414">Binding Energy (eV)</text>
</svg>
</body></html>
